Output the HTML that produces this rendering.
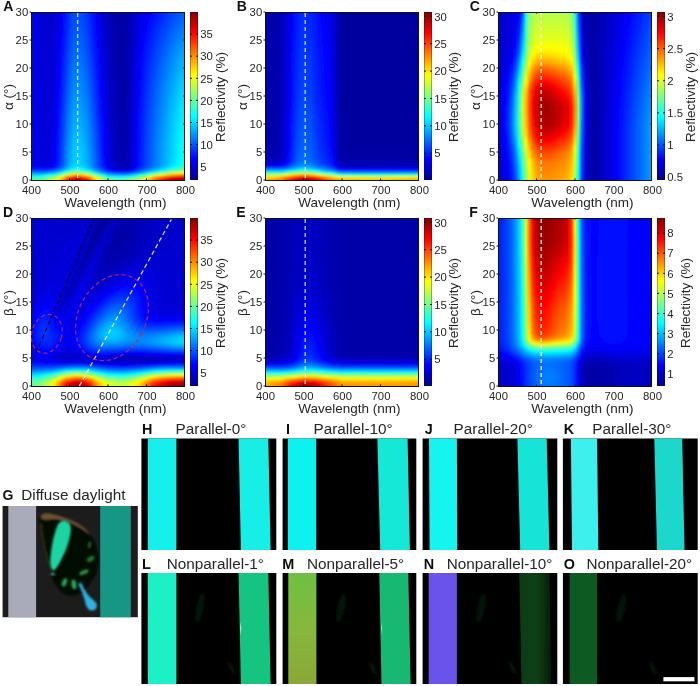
<!DOCTYPE html><html><head><meta charset="utf-8"><title>Figure</title><style>
html,body{margin:0;padding:0;background:#fff}
#p{position:relative;width:700px;height:686px;overflow:hidden;background:#fff;font-family:"Liberation Sans", Arial, Helvetica, sans-serif}
.h{position:absolute;width:154px;height:168px;overflow:hidden}
.h div{margin:-4px -4px 0;padding:0 4px;filter:url(#vb)}
.h i{display:block;height:2px}
.cb{position:absolute;width:8px;height:168px;box-shadow:inset 0 0 0 .6px rgba(20,20,40,.55);background:linear-gradient(0deg,#00008f,#0000ff 12.5%,#00ffff 37.5%,#ffff00 62.5%,#ff0000 87.5%,#800000)}
svg{position:absolute;left:0;top:0;filter:blur(.4px)}
text{font-family:"Liberation Sans", Arial, Helvetica, sans-serif;fill:#262626}
.t{font-size:11.3px}.l{font-size:13.5px}.b{font-size:14px;font-weight:bold;fill:#111}.c{font-size:15.3px}
</style></head><body><div id="p">
<div class="h" style="left:31px;top:12px"><div><i style="background:linear-gradient(90deg,#0000e7,#0000e5,#0000df,#0000d8,#0000d1,#0000ce,#0000cf,#0000d8,#0000e7,#0000fd,#0018ff,#0032ff,#0045ff,#004eff,#004cff,#0043ff,#0035ff,#0022ff,#000dff,#0000f6,#0000e0,#0000cd,#0000be,#0000b3,#0000ac,#0000a8,#0000a6,#0000a7,#0000b0,#0000be,#0000ce,#0000dc,#0000e9,#0000f5,#0001ff,#000cff,#0016ff,#0020ff,#002aff,#0034ff,#003dff,#0047ff,#0050ff,#0059ff,#0059ff)"></i><i style="background:linear-gradient(90deg,#0000e7,#0000e5,#0000df,#0000d8,#0000d1,#0000ce,#0000cf,#0000d8,#0000e7,#0000fd,#0018ff,#0032ff,#0045ff,#004eff,#004cff,#0043ff,#0035ff,#0022ff,#000dff,#0000f6,#0000e0,#0000cd,#0000be,#0000b3,#0000ac,#0000a8,#0000a6,#0000a7,#0000b0,#0000be,#0000ce,#0000dc,#0000e9,#0000f5,#0001ff,#000cff,#0016ff,#0020ff,#002aff,#0034ff,#003dff,#0047ff,#0050ff,#0059ff,#0059ff)"></i><i style="background:linear-gradient(90deg,#0000e7,#0000e5,#0000df,#0000d8,#0000d1,#0000ce,#0000cf,#0000d8,#0000e7,#0000fd,#0018ff,#0032ff,#0045ff,#004eff,#004cff,#0043ff,#0035ff,#0022ff,#000dff,#0000f6,#0000e0,#0000cd,#0000be,#0000b3,#0000ac,#0000a8,#0000a6,#0000a7,#0000b0,#0000be,#0000ce,#0000dc,#0000e9,#0000f5,#0001ff,#000cff,#0016ff,#0020ff,#002aff,#0034ff,#003dff,#0047ff,#0050ff,#0059ff,#0059ff)"></i><i style="background:linear-gradient(90deg,#0000e7,#0000e5,#0000df,#0000d8,#0000d1,#0000ce,#0000d0,#0000d8,#0000e8,#0000fe,#0019ff,#0033ff,#0046ff,#0050ff,#004dff,#0044ff,#0036ff,#0023ff,#000eff,#0000f7,#0000e1,#0000cd,#0000be,#0000b3,#0000ac,#0000a8,#0000a6,#0000a8,#0000b0,#0000be,#0000cf,#0000de,#0000eb,#0000f7,#0003ff,#000eff,#0019ff,#0023ff,#002dff,#0037ff,#0041ff,#004bff,#0054ff,#005dff,#005dff)"></i><i style="background:linear-gradient(90deg,#0000e7,#0000e5,#0000df,#0000d8,#0000d1,#0000ce,#0000d0,#0000d8,#0000e8,#0000ff,#001aff,#0034ff,#0048ff,#0051ff,#004fff,#0045ff,#0037ff,#0024ff,#000fff,#0000f7,#0000e1,#0000ce,#0000be,#0000b3,#0000ac,#0000a8,#0000a6,#0000a8,#0000b1,#0000bf,#0000d0,#0000df,#0000ed,#0000f9,#0005ff,#0010ff,#001bff,#0026ff,#0030ff,#003aff,#0044ff,#004eff,#0058ff,#0061ff,#0061ff)"></i><i style="background:linear-gradient(90deg,#0000e7,#0000e5,#0000df,#0000d8,#0000d1,#0000ce,#0000d0,#0000d9,#0000e9,#0001ff,#001bff,#0035ff,#0049ff,#0052ff,#0050ff,#0047ff,#0038ff,#0025ff,#0010ff,#0000f8,#0000e2,#0000ce,#0000bf,#0000b4,#0000ac,#0000a8,#0000a6,#0000a8,#0000b1,#0000c0,#0000d0,#0000e0,#0000ee,#0000fb,#0007ff,#0013ff,#001eff,#0028ff,#0033ff,#003dff,#0048ff,#0052ff,#005cff,#0065ff,#0065ff)"></i><i style="background:linear-gradient(90deg,#0000e7,#0000e5,#0000df,#0000d8,#0000d1,#0000ce,#0000d0,#0000d9,#0000e9,#0001ff,#001cff,#0036ff,#004aff,#0053ff,#0051ff,#0048ff,#0039ff,#0026ff,#0010ff,#0000f9,#0000e3,#0000cf,#0000bf,#0000b4,#0000ad,#0000a8,#0000a6,#0000a8,#0000b1,#0000c0,#0000d1,#0000e1,#0000f0,#0000fc,#0009ff,#0015ff,#0020ff,#002bff,#0036ff,#0041ff,#004bff,#0055ff,#0060ff,#0069ff,#0069ff)"></i><i style="background:linear-gradient(90deg,#0000e7,#0000e5,#0000df,#0000d8,#0000d1,#0000ce,#0000d0,#0000d9,#0000ea,#0002ff,#001dff,#0037ff,#004bff,#0054ff,#0052ff,#0049ff,#003aff,#0027ff,#0011ff,#0000fa,#0000e3,#0000cf,#0000bf,#0000b4,#0000ad,#0000a8,#0000a6,#0000a8,#0000b1,#0000c1,#0000d2,#0000e3,#0000f1,#0000fe,#000bff,#0017ff,#0023ff,#002eff,#0039ff,#0044ff,#004eff,#0059ff,#0063ff,#006dff,#006dff)"></i><i style="background:linear-gradient(90deg,#0000e7,#0000e5,#0000df,#0000d8,#0000d2,#0000ce,#0000d0,#0000da,#0000ea,#0003ff,#001eff,#0038ff,#004cff,#0056ff,#0053ff,#004aff,#003bff,#0028ff,#0012ff,#0000fa,#0000e4,#0000d0,#0000c0,#0000b4,#0000ad,#0000a8,#0000a6,#0000a8,#0000b2,#0000c1,#0000d3,#0000e4,#0000f3,#0001ff,#000dff,#0019ff,#0025ff,#0030ff,#003cff,#0047ff,#0052ff,#005cff,#0067ff,#0070ff,#0070ff)"></i><i style="background:linear-gradient(90deg,#0000e7,#0000e5,#0000df,#0000d8,#0000d2,#0000ce,#0000d1,#0000da,#0000eb,#0003ff,#001eff,#0039ff,#004dff,#0057ff,#0055ff,#004bff,#003cff,#0029ff,#0013ff,#0000fb,#0000e4,#0000d0,#0000c0,#0000b4,#0000ad,#0000a8,#0000a6,#0000a8,#0000b2,#0000c2,#0000d4,#0000e5,#0000f4,#0003ff,#000fff,#001cff,#0027ff,#0033ff,#003eff,#004aff,#0055ff,#0060ff,#006bff,#0074ff,#0074ff)"></i><i style="background:linear-gradient(90deg,#0000e7,#0000e5,#0000df,#0000d8,#0000d2,#0000cf,#0000d1,#0000da,#0000eb,#0004ff,#001fff,#003aff,#004fff,#0058ff,#0056ff,#004dff,#003dff,#002aff,#0014ff,#0000fc,#0000e5,#0000d1,#0000c0,#0000b5,#0000ad,#0000a9,#0000a6,#0000a8,#0000b2,#0000c3,#0000d5,#0000e6,#0000f6,#0004ff,#0011ff,#001eff,#002aff,#0036ff,#0041ff,#004dff,#0058ff,#0063ff,#006eff,#0078ff,#0078ff)"></i><i style="background:linear-gradient(90deg,#0000e7,#0000e5,#0000df,#0000d8,#0000d2,#0000cf,#0000d1,#0000db,#0000ec,#0005ff,#0021ff,#003cff,#0050ff,#005aff,#0058ff,#004eff,#003fff,#002cff,#0015ff,#0000fd,#0000e6,#0000d1,#0000c1,#0000b5,#0000ad,#0000a9,#0000a6,#0000a8,#0000b2,#0000c3,#0000d6,#0000e7,#0000f7,#0006ff,#0013ff,#0020ff,#002cff,#0038ff,#0044ff,#0050ff,#005bff,#0066ff,#0072ff,#007cff,#007cff)"></i><i style="background:linear-gradient(90deg,#0000e7,#0000e5,#0000df,#0000d8,#0000d2,#0000cf,#0000d1,#0000db,#0000ed,#0006ff,#0022ff,#003dff,#0052ff,#005cff,#0059ff,#0050ff,#0041ff,#002dff,#0017ff,#0000fe,#0000e7,#0000d2,#0000c1,#0000b5,#0000ad,#0000a9,#0000a6,#0000a8,#0000b3,#0000c4,#0000d7,#0000e9,#0000f8,#0008ff,#0015ff,#0022ff,#002eff,#003bff,#0047ff,#0052ff,#005eff,#006aff,#0075ff,#007fff,#007fff)"></i><i style="background:linear-gradient(90deg,#0000e7,#0000e5,#0000df,#0000d8,#0000d2,#0000cf,#0000d1,#0000db,#0000ed,#0007ff,#0023ff,#003fff,#0054ff,#005eff,#005bff,#0052ff,#0042ff,#002eff,#0018ff,#0000ff,#0000e8,#0000d3,#0000c2,#0000b6,#0000ae,#0000a9,#0000a6,#0000a8,#0000b3,#0000c4,#0000d8,#0000ea,#0000fa,#0009ff,#0017ff,#0024ff,#0031ff,#003dff,#0049ff,#0055ff,#0061ff,#006dff,#0079ff,#0083ff,#0083ff)"></i><i style="background:linear-gradient(90deg,#0000e7,#0000e5,#0000df,#0000d8,#0000d2,#0000cf,#0000d2,#0000dc,#0000ee,#0008ff,#0024ff,#0040ff,#0056ff,#005fff,#005dff,#0054ff,#0044ff,#0030ff,#0019ff,#0001ff,#0000e8,#0000d3,#0000c2,#0000b6,#0000ae,#0000a9,#0000a6,#0000a9,#0000b3,#0000c5,#0000d8,#0000eb,#0000fb,#000bff,#0019ff,#0026ff,#0033ff,#003fff,#004cff,#0058ff,#0064ff,#0070ff,#007cff,#0086ff,#0086ff)"></i><i style="background:linear-gradient(90deg,#0000e7,#0000e5,#0000df,#0000d8,#0000d2,#0000cf,#0000d2,#0000dc,#0000ef,#0009ff,#0026ff,#0042ff,#0057ff,#0061ff,#005fff,#0055ff,#0046ff,#0031ff,#001aff,#0002ff,#0000e9,#0000d4,#0000c3,#0000b6,#0000ae,#0000a9,#0000a6,#0000a9,#0000b3,#0000c5,#0000d9,#0000ec,#0000fc,#000dff,#001bff,#0028ff,#0035ff,#0042ff,#004eff,#005bff,#0067ff,#0073ff,#007fff,#008aff,#008aff)"></i><i style="background:linear-gradient(90deg,#0000e7,#0000e5,#0000df,#0000d8,#0000d2,#0000cf,#0000d2,#0000dd,#0000ef,#000aff,#0027ff,#0043ff,#0059ff,#0063ff,#0061ff,#0057ff,#0047ff,#0033ff,#001cff,#0003ff,#0000ea,#0000d4,#0000c3,#0000b6,#0000ae,#0000a9,#0000a6,#0000a9,#0000b4,#0000c6,#0000da,#0000ed,#0000fe,#000eff,#001cff,#002aff,#0037ff,#0044ff,#0051ff,#005eff,#006aff,#0076ff,#0083ff,#008dff,#008dff)"></i><i style="background:linear-gradient(90deg,#0000e7,#0000e5,#0000df,#0000d8,#0000d2,#0000cf,#0000d2,#0000dd,#0000f0,#000bff,#0028ff,#0045ff,#005bff,#0065ff,#0062ff,#0059ff,#0049ff,#0034ff,#001dff,#0004ff,#0000eb,#0000d5,#0000c3,#0000b7,#0000ae,#0000a9,#0000a6,#0000a9,#0000b4,#0000c6,#0000db,#0000ee,#0000ff,#0010ff,#001eff,#002cff,#0039ff,#0047ff,#0054ff,#0060ff,#006dff,#0079ff,#0086ff,#0091ff,#0091ff)"></i><i style="background:linear-gradient(90deg,#0000e7,#0000e5,#0000df,#0000d8,#0000d2,#0000d0,#0000d3,#0000de,#0000f1,#000cff,#002aff,#0046ff,#005dff,#0067ff,#0064ff,#005aff,#004aff,#0036ff,#001eff,#0005ff,#0000ec,#0000d6,#0000c4,#0000b7,#0000af,#0000aa,#0000a7,#0000a9,#0000b4,#0000c7,#0000dc,#0000ef,#0001ff,#0011ff,#0020ff,#002eff,#003cff,#0049ff,#0056ff,#0063ff,#0070ff,#007cff,#0089ff,#0094ff,#0094ff)"></i><i style="background:linear-gradient(90deg,#0000e7,#0000e5,#0000df,#0000d8,#0000d2,#0000d0,#0000d3,#0000de,#0000f1,#000dff,#002bff,#0048ff,#005eff,#0068ff,#0066ff,#005cff,#004cff,#0037ff,#001fff,#0006ff,#0000ed,#0000d6,#0000c4,#0000b7,#0000af,#0000aa,#0000a7,#0000a9,#0000b4,#0000c7,#0000dc,#0000f0,#0003ff,#0013ff,#0021ff,#0030ff,#003eff,#004bff,#0058ff,#0066ff,#0073ff,#007fff,#008cff,#0097ff,#0097ff)"></i><i style="background:linear-gradient(90deg,#0000e7,#0000e5,#0000df,#0000d8,#0000d2,#0000d0,#0000d3,#0000de,#0000f2,#000eff,#002cff,#004aff,#0060ff,#006aff,#0068ff,#005eff,#004eff,#0039ff,#0021ff,#0007ff,#0000ed,#0000d7,#0000c5,#0000b8,#0000af,#0000aa,#0000a7,#0000a9,#0000b5,#0000c8,#0000dd,#0000f1,#0004ff,#0014ff,#0023ff,#0032ff,#0040ff,#004dff,#005bff,#0068ff,#0075ff,#0082ff,#008fff,#009bff,#009bff)"></i><i style="background:linear-gradient(90deg,#0000e7,#0000e5,#0000df,#0000d8,#0000d2,#0000d0,#0000d3,#0000df,#0000f3,#000fff,#002eff,#004bff,#0062ff,#006cff,#006aff,#0060ff,#004fff,#003aff,#0022ff,#0008ff,#0000ee,#0000d8,#0000c5,#0000b8,#0000af,#0000aa,#0000a7,#0000a9,#0000b5,#0000c8,#0000de,#0000f2,#0005ff,#0016ff,#0025ff,#0033ff,#0042ff,#0050ff,#005dff,#006bff,#0078ff,#0085ff,#0092ff,#009eff,#009eff)"></i><i style="background:linear-gradient(90deg,#0000e7,#0000e5,#0000df,#0000d8,#0000d2,#0000d0,#0000d4,#0000df,#0000f4,#0010ff,#002fff,#004dff,#0064ff,#006eff,#006cff,#0061ff,#0051ff,#003cff,#0023ff,#000aff,#0000ef,#0000d8,#0000c6,#0000b8,#0000b0,#0000aa,#0000a7,#0000a9,#0000b5,#0000c9,#0000df,#0000f3,#0006ff,#0017ff,#0026ff,#0035ff,#0044ff,#0052ff,#0060ff,#006dff,#007bff,#0088ff,#0095ff,#00a1ff,#00a1ff)"></i><i style="background:linear-gradient(90deg,#0000e7,#0000e5,#0000df,#0000d8,#0000d2,#0000d0,#0000d4,#0000e0,#0000f4,#0011ff,#0030ff,#004eff,#0065ff,#0070ff,#006dff,#0063ff,#0053ff,#003dff,#0025ff,#000bff,#0000f0,#0000d9,#0000c6,#0000b9,#0000b0,#0000aa,#0000a7,#0000a9,#0000b5,#0000c9,#0000df,#0000f4,#0008ff,#0018ff,#0028ff,#0037ff,#0046ff,#0054ff,#0062ff,#0070ff,#007dff,#008bff,#0098ff,#00a4ff,#00a4ff)"></i><i style="background:linear-gradient(90deg,#0000e7,#0000e5,#0000df,#0000d8,#0000d2,#0000d0,#0000d4,#0000e0,#0000f5,#0012ff,#0031ff,#0050ff,#0067ff,#0072ff,#006fff,#0065ff,#0054ff,#003fff,#0026ff,#000cff,#0000f1,#0000da,#0000c7,#0000b9,#0000b0,#0000aa,#0000a7,#0000aa,#0000b6,#0000ca,#0000e0,#0000f5,#0009ff,#001aff,#002aff,#0039ff,#0047ff,#0056ff,#0064ff,#0072ff,#0080ff,#008eff,#009bff,#00a7ff,#00a7ff)"></i><i style="background:linear-gradient(90deg,#0000e7,#0000e5,#0000df,#0000d8,#0000d3,#0000d1,#0000d5,#0000e1,#0000f6,#0013ff,#0033ff,#0051ff,#0069ff,#0073ff,#0071ff,#0067ff,#0056ff,#0040ff,#0027ff,#000dff,#0000f2,#0000da,#0000c7,#0000ba,#0000b0,#0000ab,#0000a7,#0000aa,#0000b6,#0000ca,#0000e1,#0000f6,#000aff,#001bff,#002bff,#003aff,#0049ff,#0058ff,#0066ff,#0074ff,#0082ff,#0090ff,#009eff,#00aaff,#00aaff)"></i><i style="background:linear-gradient(90deg,#0000e7,#0000e5,#0000df,#0000d8,#0000d3,#0000d1,#0000d5,#0000e1,#0000f6,#0014ff,#0034ff,#0053ff,#006bff,#0075ff,#0073ff,#0068ff,#0058ff,#0042ff,#0029ff,#000eff,#0000f3,#0000db,#0000c8,#0000ba,#0000b1,#0000ab,#0000a7,#0000aa,#0000b6,#0000ca,#0000e2,#0000f7,#000bff,#001cff,#002dff,#003cff,#004bff,#005aff,#0069ff,#0077ff,#0085ff,#0093ff,#00a1ff,#00adff,#00adff)"></i><i style="background:linear-gradient(90deg,#0000e7,#0000e5,#0000df,#0000d8,#0000d3,#0000d1,#0000d5,#0000e2,#0000f7,#0015ff,#0035ff,#0055ff,#006cff,#0077ff,#0075ff,#006aff,#0059ff,#0043ff,#002aff,#000fff,#0000f4,#0000dc,#0000c8,#0000ba,#0000b1,#0000ab,#0000a7,#0000aa,#0000b6,#0000cb,#0000e2,#0000f8,#000cff,#001eff,#002eff,#003eff,#004dff,#005cff,#006bff,#0079ff,#0087ff,#0096ff,#00a4ff,#00b0ff,#00b0ff)"></i><i style="background:linear-gradient(90deg,#0000e7,#0000e5,#0000df,#0000d8,#0000d3,#0000d1,#0000d5,#0000e2,#0000f8,#0016ff,#0037ff,#0056ff,#006eff,#0079ff,#0076ff,#006cff,#005bff,#0045ff,#002bff,#0010ff,#0000f5,#0000dd,#0000c9,#0000bb,#0000b1,#0000ab,#0000a7,#0000aa,#0000b7,#0000cb,#0000e3,#0000f9,#000dff,#001fff,#0030ff,#003fff,#004fff,#005eff,#006dff,#007bff,#008aff,#0098ff,#00a6ff,#00b3ff,#00b3ff)"></i><i style="background:linear-gradient(90deg,#0000e7,#0000e5,#0000df,#0000d8,#0000d3,#0000d1,#0000d6,#0000e3,#0000f9,#0017ff,#0038ff,#0058ff,#0070ff,#007bff,#0078ff,#006eff,#005cff,#0046ff,#002dff,#0011ff,#0000f6,#0000dd,#0000ca,#0000bb,#0000b1,#0000ab,#0000a8,#0000aa,#0000b7,#0000cc,#0000e4,#0000fa,#000eff,#0020ff,#0031ff,#0041ff,#0051ff,#0060ff,#006fff,#007eff,#008cff,#009bff,#00a9ff,#00b6ff,#00b6ff)"></i><i style="background:linear-gradient(90deg,#0000e7,#0000e5,#0000df,#0000d8,#0000d3,#0000d1,#0000d6,#0000e3,#0000fa,#0018ff,#0039ff,#0059ff,#0072ff,#007cff,#007aff,#006fff,#005eff,#0048ff,#002eff,#0013ff,#0000f7,#0000de,#0000ca,#0000bb,#0000b2,#0000ab,#0000a8,#0000aa,#0000b7,#0000cc,#0000e4,#0000fb,#0010ff,#0022ff,#0032ff,#0043ff,#0052ff,#0062ff,#0071ff,#0080ff,#008fff,#009dff,#00acff,#00b8ff,#00b8ff)"></i><i style="background:linear-gradient(90deg,#0000e7,#0000e5,#0000df,#0000d8,#0000d3,#0000d1,#0000d6,#0000e4,#0000fa,#0019ff,#003bff,#005bff,#0073ff,#007eff,#007cff,#0071ff,#0060ff,#0049ff,#002fff,#0014ff,#0000f7,#0000df,#0000cb,#0000bc,#0000b2,#0000ac,#0000a8,#0000aa,#0000b7,#0000cd,#0000e5,#0000fb,#0011ff,#0023ff,#0034ff,#0044ff,#0054ff,#0064ff,#0073ff,#0082ff,#0091ff,#00a0ff,#00aeff,#00bbff,#00bbff)"></i><i style="background:linear-gradient(90deg,#0000e7,#0000e5,#0000df,#0000d8,#0000d3,#0000d2,#0000d7,#0000e4,#0000fb,#001aff,#003cff,#005dff,#0075ff,#0080ff,#007eff,#0073ff,#0061ff,#004bff,#0031ff,#0015ff,#0000f8,#0000e0,#0000cb,#0000bc,#0000b2,#0000ac,#0000a8,#0000aa,#0000b7,#0000cd,#0000e5,#0000fc,#0012ff,#0024ff,#0035ff,#0046ff,#0056ff,#0065ff,#0075ff,#0084ff,#0093ff,#00a2ff,#00b1ff,#00beff,#00beff)"></i><i style="background:linear-gradient(90deg,#0000e7,#0000e5,#0000df,#0000d8,#0000d3,#0000d2,#0000d7,#0000e5,#0000fc,#001bff,#003eff,#005eff,#0077ff,#0082ff,#007fff,#0075ff,#0063ff,#004cff,#0032ff,#0016ff,#0000f9,#0000e0,#0000cc,#0000bd,#0000b2,#0000ac,#0000a8,#0000aa,#0000b8,#0000cd,#0000e6,#0000fd,#0013ff,#0025ff,#0037ff,#0047ff,#0057ff,#0067ff,#0077ff,#0086ff,#0095ff,#00a4ff,#00b3ff,#00c0ff,#00c0ff)"></i><i style="background:linear-gradient(90deg,#0000e7,#0000e5,#0000df,#0000d8,#0000d3,#0000d2,#0000d7,#0000e5,#0000fd,#001cff,#003fff,#0060ff,#0079ff,#0084ff,#0081ff,#0076ff,#0065ff,#004eff,#0033ff,#0017ff,#0000fa,#0000e1,#0000cc,#0000bd,#0000b3,#0000ac,#0000a8,#0000ab,#0000b8,#0000ce,#0000e7,#0000fe,#0014ff,#0026ff,#0038ff,#0049ff,#0059ff,#0069ff,#0079ff,#0088ff,#0097ff,#00a7ff,#00b6ff,#00c3ff,#00c3ff)"></i><i style="background:linear-gradient(90deg,#0000e7,#0000e5,#0000df,#0000d8,#0000d3,#0000d2,#0000d8,#0000e6,#0000fd,#001dff,#0040ff,#0061ff,#007aff,#0086ff,#0083ff,#0078ff,#0066ff,#004fff,#0035ff,#0018ff,#0000fb,#0000e2,#0000cd,#0000bd,#0000b3,#0000ac,#0000a8,#0000ab,#0000b8,#0000ce,#0000e7,#0000ff,#0015ff,#0028ff,#0039ff,#004aff,#005bff,#006bff,#007bff,#008aff,#009aff,#00a9ff,#00b8ff,#00c5ff,#00c5ff)"></i><i style="background:linear-gradient(90deg,#0000e7,#0000e5,#0000df,#0000d8,#0000d3,#0000d2,#0000d8,#0000e6,#0000fe,#001fff,#0042ff,#0063ff,#007cff,#0087ff,#0085ff,#007aff,#0068ff,#0051ff,#0036ff,#001aff,#0000fc,#0000e3,#0000ce,#0000be,#0000b3,#0000ac,#0000a8,#0000ab,#0000b8,#0000cf,#0000e8,#0001ff,#0016ff,#0029ff,#003aff,#004cff,#005cff,#006cff,#007cff,#008cff,#009cff,#00abff,#00baff,#00c8ff,#00c8ff)"></i><i style="background:linear-gradient(90deg,#0000e7,#0000e5,#0000df,#0000d9,#0000d4,#0000d3,#0000d8,#0000e7,#0000ff,#0020ff,#0043ff,#0065ff,#007eff,#0089ff,#0087ff,#007cff,#006aff,#0052ff,#0037ff,#001bff,#0000fd,#0000e3,#0000ce,#0000be,#0000b4,#0000ad,#0000a8,#0000ab,#0000b8,#0000cf,#0000e8,#0001ff,#0017ff,#002aff,#003cff,#004dff,#005eff,#006eff,#007eff,#008eff,#009eff,#00adff,#00bdff,#00caff,#00caff)"></i><i style="background:linear-gradient(90deg,#0000e7,#0000e5,#0000df,#0000d9,#0000d4,#0000d3,#0000d9,#0000e8,#0001ff,#0021ff,#0044ff,#0066ff,#0080ff,#008bff,#0088ff,#007dff,#006bff,#0054ff,#0039ff,#001cff,#0000fe,#0000e4,#0000cf,#0000bf,#0000b4,#0000ad,#0000a9,#0000ab,#0000b9,#0000cf,#0000e9,#0002ff,#0017ff,#002bff,#003dff,#004eff,#005fff,#0070ff,#0080ff,#0090ff,#00a0ff,#00afff,#00bfff,#00cdff,#00cdff)"></i><i style="background:linear-gradient(90deg,#0000e7,#0000e5,#0000df,#0000d9,#0000d4,#0000d3,#0000d9,#0000e8,#0002ff,#0022ff,#0046ff,#0068ff,#0081ff,#008dff,#008aff,#007fff,#006dff,#0055ff,#003aff,#001dff,#0000ff,#0000e5,#0000cf,#0000bf,#0000b4,#0000ad,#0000a9,#0000ab,#0000b9,#0000d0,#0000ea,#0003ff,#0018ff,#002cff,#003eff,#0050ff,#0061ff,#0071ff,#0082ff,#0092ff,#00a2ff,#00b1ff,#00c1ff,#00cfff,#00cfff)"></i><i style="background:linear-gradient(90deg,#0000e7,#0000e5,#0000df,#0000d9,#0000d4,#0000d3,#0000d9,#0000e9,#0002ff,#0023ff,#0047ff,#0069ff,#0083ff,#008fff,#008cff,#0081ff,#006fff,#0057ff,#003cff,#001eff,#0001ff,#0000e6,#0000d0,#0000c0,#0000b5,#0000ad,#0000a9,#0000ab,#0000b9,#0000d0,#0000ea,#0004ff,#0019ff,#002dff,#003fff,#0051ff,#0062ff,#0073ff,#0083ff,#0094ff,#00a4ff,#00b3ff,#00c3ff,#00d1ff,#00d1ff)"></i><i style="background:linear-gradient(90deg,#0000e7,#0000e5,#0000df,#0000d9,#0000d4,#0000d3,#0000da,#0000e9,#0003ff,#0024ff,#0049ff,#006bff,#0085ff,#0090ff,#008eff,#0083ff,#0070ff,#0059ff,#003dff,#0020ff,#0002ff,#0000e7,#0000d1,#0000c0,#0000b5,#0000ae,#0000a9,#0000ab,#0000b9,#0000d0,#0000eb,#0004ff,#001aff,#002eff,#0040ff,#0052ff,#0063ff,#0074ff,#0085ff,#0095ff,#00a5ff,#00b5ff,#00c5ff,#00d3ff,#00d3ff)"></i><i style="background:linear-gradient(90deg,#0000e7,#0000e5,#0000df,#0000d9,#0000d4,#0000d4,#0000da,#0000ea,#0004ff,#0025ff,#004aff,#006dff,#0087ff,#0092ff,#0090ff,#0085ff,#0072ff,#005aff,#003eff,#0021ff,#0003ff,#0000e7,#0000d1,#0000c1,#0000b5,#0000ae,#0000a9,#0000ac,#0000b9,#0000d1,#0000eb,#0005ff,#001bff,#002fff,#0042ff,#0053ff,#0065ff,#0076ff,#0087ff,#0097ff,#00a7ff,#00b7ff,#00c7ff,#00d6ff,#00d6ff)"></i><i style="background:linear-gradient(90deg,#0000e7,#0000e5,#0000df,#0000d9,#0000d4,#0000d4,#0000da,#0000ea,#0005ff,#0026ff,#004bff,#006eff,#0088ff,#0094ff,#0091ff,#0086ff,#0074ff,#005cff,#0040ff,#0022ff,#0004ff,#0000e8,#0000d2,#0000c1,#0000b5,#0000ae,#0000a9,#0000ac,#0000ba,#0000d1,#0000ec,#0006ff,#001cff,#0030ff,#0043ff,#0055ff,#0066ff,#0077ff,#0088ff,#0099ff,#00a9ff,#00b9ff,#00c9ff,#00d8ff,#00d8ff)"></i><i style="background:linear-gradient(90deg,#0000e7,#0000e5,#0000df,#0000d9,#0000d4,#0000d4,#0000db,#0000eb,#0006ff,#0028ff,#004dff,#0070ff,#008aff,#0096ff,#0093ff,#0088ff,#0076ff,#005dff,#0041ff,#0023ff,#0005ff,#0000e9,#0000d3,#0000c2,#0000b6,#0000ae,#0000a9,#0000ac,#0000ba,#0000d1,#0000ec,#0006ff,#001dff,#0031ff,#0044ff,#0056ff,#0067ff,#0079ff,#008aff,#009aff,#00abff,#00bbff,#00cbff,#00daff,#00daff)"></i><i style="background:linear-gradient(90deg,#0000e7,#0000e5,#0000df,#0000d9,#0000d4,#0000d4,#0000db,#0000ec,#0007ff,#0029ff,#004eff,#0072ff,#008cff,#0098ff,#0095ff,#008aff,#0077ff,#005fff,#0043ff,#0025ff,#0007ff,#0000ea,#0000d3,#0000c2,#0000b6,#0000ae,#0000aa,#0000ac,#0000ba,#0000d2,#0000ed,#0007ff,#001dff,#0032ff,#0045ff,#0057ff,#0069ff,#007aff,#008bff,#009cff,#00adff,#00bdff,#00cdff,#00dcff,#00dcff)"></i><i style="background:linear-gradient(90deg,#0000e7,#0000e5,#0000df,#0000d9,#0000d4,#0000d4,#0000dc,#0000ec,#0008ff,#002aff,#0050ff,#0073ff,#008eff,#009aff,#0097ff,#008cff,#0079ff,#0061ff,#0044ff,#0026ff,#0008ff,#0000eb,#0000d4,#0000c3,#0000b7,#0000af,#0000aa,#0000ac,#0000ba,#0000d2,#0000ed,#0008ff,#001eff,#0033ff,#0046ff,#0058ff,#006aff,#007bff,#008dff,#009eff,#00aeff,#00bfff,#00cfff,#00deff,#00deff)"></i><i style="background:linear-gradient(90deg,#0000e7,#0000e5,#0000df,#0000d9,#0000d5,#0000d5,#0000dc,#0000ed,#0009ff,#002bff,#0051ff,#0075ff,#0090ff,#009cff,#0099ff,#008eff,#007bff,#0062ff,#0046ff,#0027ff,#0009ff,#0000ec,#0000d5,#0000c3,#0000b7,#0000af,#0000aa,#0000ac,#0000ba,#0000d2,#0000ee,#0008ff,#001fff,#0033ff,#0047ff,#0059ff,#006bff,#007dff,#008eff,#009fff,#00b0ff,#00c1ff,#00d1ff,#00e0ff,#00e0ff)"></i><i style="background:linear-gradient(90deg,#0000e7,#0000e5,#0000df,#0000d9,#0000d5,#0000d5,#0000dc,#0000ed,#000aff,#002cff,#0053ff,#0077ff,#0092ff,#009eff,#009bff,#0090ff,#007dff,#0064ff,#0047ff,#0029ff,#000aff,#0000ed,#0000d5,#0000c4,#0000b7,#0000af,#0000aa,#0000ac,#0000bb,#0000d3,#0000ee,#0009ff,#0020ff,#0034ff,#0048ff,#005aff,#006cff,#007eff,#008fff,#00a1ff,#00b1ff,#00c2ff,#00d3ff,#00e2ff,#00e2ff)"></i><i style="background:linear-gradient(90deg,#0000e7,#0000e5,#0000df,#0000d9,#0000d5,#0000d5,#0000dd,#0000ee,#000aff,#002eff,#0054ff,#0079ff,#0094ff,#00a0ff,#009dff,#0092ff,#007fff,#0066ff,#0049ff,#002aff,#000bff,#0000ee,#0000d6,#0000c4,#0000b8,#0000af,#0000aa,#0000ac,#0000bb,#0000d3,#0000ef,#0009ff,#0020ff,#0035ff,#0049ff,#005bff,#006dff,#007fff,#0091ff,#00a2ff,#00b3ff,#00c4ff,#00d5ff,#00e3ff,#00e3ff)"></i><i style="background:linear-gradient(90deg,#0000e7,#0000e5,#0000df,#0000d9,#0000d5,#0000d5,#0000dd,#0000ef,#000bff,#002fff,#0056ff,#007bff,#0096ff,#00a2ff,#009fff,#0094ff,#0081ff,#0068ff,#004bff,#002bff,#000cff,#0000ef,#0000d7,#0000c5,#0000b8,#0000b0,#0000aa,#0000ad,#0000bb,#0000d3,#0000ef,#000aff,#0021ff,#0036ff,#004aff,#005cff,#006fff,#0080ff,#0092ff,#00a3ff,#00b5ff,#00c5ff,#00d6ff,#00e5ff,#00e5ff)"></i><i style="background:linear-gradient(90deg,#0000e7,#0000e5,#0000df,#0000d9,#0000d5,#0000d6,#0000de,#0000ef,#000cff,#0030ff,#0058ff,#007cff,#0098ff,#00a4ff,#00a1ff,#0096ff,#0082ff,#0069ff,#004cff,#002dff,#000dff,#0000ef,#0000d7,#0000c5,#0000b8,#0000b0,#0000ab,#0000ad,#0000bb,#0000d4,#0000ef,#000aff,#0022ff,#0037ff,#004aff,#005dff,#0070ff,#0082ff,#0093ff,#00a5ff,#00b6ff,#00c7ff,#00d8ff,#00e7ff,#00e7ff)"></i><i style="background:linear-gradient(90deg,#0000e7,#0000e5,#0000df,#0000d9,#0000d5,#0000d6,#0000de,#0000f0,#000dff,#0031ff,#0059ff,#007eff,#009aff,#00a6ff,#00a3ff,#0098ff,#0084ff,#006bff,#004eff,#002eff,#000eff,#0000f0,#0000d8,#0000c6,#0000b9,#0000b0,#0000ab,#0000ad,#0000bb,#0000d4,#0000f0,#000bff,#0022ff,#0037ff,#004bff,#005eff,#0071ff,#0083ff,#0095ff,#00a6ff,#00b7ff,#00c8ff,#00d9ff,#00e9ff,#00e9ff)"></i><i style="background:linear-gradient(90deg,#0000e7,#0000e5,#0000df,#0000d9,#0000d5,#0000d6,#0000de,#0000f1,#000eff,#0033ff,#005bff,#0080ff,#009cff,#00a8ff,#00a5ff,#009aff,#0086ff,#006dff,#004fff,#002fff,#0010ff,#0000f1,#0000d9,#0000c6,#0000b9,#0000b0,#0000ab,#0000ad,#0000bb,#0000d4,#0000f0,#000cff,#0023ff,#0038ff,#004cff,#005fff,#0072ff,#0084ff,#0096ff,#00a7ff,#00b9ff,#00caff,#00dbff,#00eaff,#00eaff)"></i><i style="background:linear-gradient(90deg,#0000e7,#0000e5,#0000df,#0000d9,#0000d6,#0000d6,#0000df,#0000f1,#000fff,#0034ff,#005cff,#0082ff,#009eff,#00aaff,#00a7ff,#009cff,#0088ff,#006eff,#0051ff,#0031ff,#0011ff,#0000f2,#0000da,#0000c7,#0000ba,#0000b1,#0000ab,#0000ad,#0000bc,#0000d4,#0000f1,#000cff,#0024ff,#0039ff,#004dff,#0060ff,#0073ff,#0085ff,#0097ff,#00a9ff,#00baff,#00cbff,#00dcff,#00ecff,#00ecff)"></i><i style="background:linear-gradient(90deg,#0000e7,#0000e5,#0000e0,#0000da,#0000d6,#0000d7,#0000df,#0000f2,#0010ff,#0035ff,#005eff,#0083ff,#009fff,#00acff,#00a9ff,#009dff,#008aff,#0070ff,#0052ff,#0032ff,#0012ff,#0000f3,#0000da,#0000c7,#0000ba,#0000b1,#0000ab,#0000ad,#0000bc,#0000d5,#0000f1,#000dff,#0024ff,#003aff,#004eff,#0061ff,#0074ff,#0086ff,#0098ff,#00aaff,#00bbff,#00cdff,#00deff,#00edff,#00edff)"></i><i style="background:linear-gradient(90deg,#0000e7,#0000e5,#0000e0,#0000da,#0000d6,#0000d7,#0000e0,#0000f3,#0011ff,#0037ff,#005fff,#0085ff,#00a1ff,#00aeff,#00abff,#009fff,#008cff,#0072ff,#0054ff,#0034ff,#0013ff,#0000f4,#0000db,#0000c8,#0000ba,#0000b1,#0000ac,#0000ad,#0000bc,#0000d5,#0000f1,#000dff,#0025ff,#003aff,#004eff,#0062ff,#0075ff,#0087ff,#0099ff,#00abff,#00bdff,#00ceff,#00dfff,#00efff,#00efff)"></i><i style="background:linear-gradient(90deg,#0000e7,#0000e5,#0000e0,#0000da,#0000d6,#0000d7,#0000e0,#0000f3,#0012ff,#0038ff,#0061ff,#0087ff,#00a3ff,#00b0ff,#00adff,#00a1ff,#008eff,#0074ff,#0055ff,#0035ff,#0014ff,#0000f5,#0000dc,#0000c9,#0000bb,#0000b2,#0000ac,#0000ae,#0000bc,#0000d5,#0000f2,#000dff,#0025ff,#003bff,#004fff,#0063ff,#0076ff,#0088ff,#009aff,#00acff,#00beff,#00cfff,#00e1ff,#00f0ff,#00f0ff)"></i><i style="background:linear-gradient(90deg,#0000e7,#0000e5,#0000e0,#0000da,#0000d6,#0000d7,#0000e1,#0000f4,#0013ff,#0039ff,#0062ff,#0089ff,#00a5ff,#00b2ff,#00afff,#00a3ff,#008fff,#0075ff,#0057ff,#0036ff,#0016ff,#0000f6,#0000dd,#0000c9,#0000bb,#0000b2,#0000ac,#0000ae,#0000bc,#0000d5,#0000f2,#000eff,#0026ff,#003cff,#0050ff,#0063ff,#0076ff,#0089ff,#009bff,#00adff,#00bfff,#00d1ff,#00e2ff,#00f2ff,#00f2ff)"></i><i style="background:linear-gradient(90deg,#0000e7,#0000e5,#0000e0,#0000da,#0000d6,#0000d8,#0000e1,#0000f5,#0014ff,#003aff,#0064ff,#008bff,#00a7ff,#00b4ff,#00b1ff,#00a5ff,#0091ff,#0077ff,#0059ff,#0038ff,#0017ff,#0000f7,#0000dd,#0000ca,#0000bc,#0000b2,#0000ac,#0000ae,#0000bd,#0000d6,#0000f2,#000eff,#0026ff,#003cff,#0051ff,#0064ff,#0077ff,#008aff,#009cff,#00aeff,#00c0ff,#00d2ff,#00e3ff,#00f3ff,#00f3ff)"></i><i style="background:linear-gradient(90deg,#0000e7,#0000e5,#0000e0,#0000da,#0000d6,#0000d8,#0000e2,#0000f6,#0015ff,#003cff,#0066ff,#008cff,#00a9ff,#00b6ff,#00b3ff,#00a7ff,#0093ff,#0079ff,#005aff,#0039ff,#0018ff,#0000f8,#0000de,#0000ca,#0000bc,#0000b3,#0000ac,#0000ae,#0000bd,#0000d6,#0000f3,#000fff,#0027ff,#003dff,#0051ff,#0065ff,#0078ff,#008bff,#009dff,#00afff,#00c1ff,#00d3ff,#00e4ff,#00f4ff,#00f4ff)"></i><i style="background:linear-gradient(90deg,#0000e7,#0000e5,#0000e0,#0000da,#0000d7,#0000d8,#0000e2,#0000f6,#0016ff,#003dff,#0067ff,#008eff,#00abff,#00b8ff,#00b5ff,#00a9ff,#0095ff,#007bff,#005cff,#003bff,#0019ff,#0000f9,#0000df,#0000cb,#0000bd,#0000b3,#0000ad,#0000ae,#0000bd,#0000d6,#0000f3,#000fff,#0027ff,#003dff,#0052ff,#0066ff,#0079ff,#008cff,#009eff,#00b0ff,#00c2ff,#00d4ff,#00e6ff,#00f5ff,#00f5ff)"></i><i style="background:linear-gradient(90deg,#0000e7,#0000e5,#0000e0,#0000da,#0000d7,#0000d9,#0000e3,#0000f7,#0017ff,#003eff,#0069ff,#0090ff,#00adff,#00baff,#00b7ff,#00abff,#0097ff,#007cff,#005dff,#003cff,#001aff,#0000fa,#0000e0,#0000cc,#0000bd,#0000b3,#0000ad,#0000ae,#0000bd,#0000d6,#0000f3,#0010ff,#0028ff,#003eff,#0053ff,#0066ff,#007aff,#008cff,#009fff,#00b1ff,#00c3ff,#00d5ff,#00e7ff,#00f7ff,#00f7ff)"></i><i style="background:linear-gradient(90deg,#0000e7,#0000e5,#0000e0,#0000da,#0000d7,#0000d9,#0000e3,#0000f8,#0018ff,#0040ff,#006aff,#0092ff,#00afff,#00bcff,#00b9ff,#00adff,#0099ff,#007eff,#005fff,#003dff,#001cff,#0000fb,#0000e1,#0000cc,#0000be,#0000b4,#0000ad,#0000ae,#0000bd,#0000d7,#0000f4,#0010ff,#0028ff,#003eff,#0053ff,#0067ff,#007aff,#008dff,#00a0ff,#00b2ff,#00c4ff,#00d6ff,#00e8ff,#00f8ff,#00f8ff)"></i><i style="background:linear-gradient(90deg,#0000e7,#0000e5,#0000e0,#0000da,#0000d7,#0000d9,#0000e3,#0000f9,#0019ff,#0041ff,#006cff,#0094ff,#00b1ff,#00beff,#00bbff,#00afff,#009bff,#0080ff,#0061ff,#003fff,#001dff,#0000fc,#0000e2,#0000cd,#0000be,#0000b4,#0000ad,#0000af,#0000bd,#0000d7,#0000f4,#0010ff,#0029ff,#003fff,#0054ff,#0068ff,#007bff,#008eff,#00a1ff,#00b3ff,#00c5ff,#00d7ff,#00e9ff,#00f9ff,#00f9ff)"></i><i style="background:linear-gradient(90deg,#0000e7,#0000e5,#0000e0,#0000da,#0000d7,#0000d9,#0000e4,#0000f9,#001aff,#0042ff,#006eff,#0095ff,#00b3ff,#00c0ff,#00bdff,#00b1ff,#009dff,#0082ff,#0062ff,#0040ff,#001eff,#0000fd,#0000e2,#0000ce,#0000be,#0000b4,#0000ad,#0000af,#0000bd,#0000d7,#0000f4,#0011ff,#0029ff,#003fff,#0054ff,#0068ff,#007cff,#008fff,#00a1ff,#00b4ff,#00c6ff,#00d8ff,#00eaff,#00faff,#00faff)"></i><i style="background:linear-gradient(90deg,#0000e7,#0000e5,#0000e0,#0000da,#0000d7,#0000da,#0000e4,#0000fa,#001bff,#0044ff,#006fff,#0097ff,#00b5ff,#00c2ff,#00bfff,#00b3ff,#009eff,#0083ff,#0064ff,#0042ff,#001fff,#0000fe,#0000e3,#0000ce,#0000bf,#0000b5,#0000ae,#0000af,#0000be,#0000d7,#0000f4,#0011ff,#0029ff,#0040ff,#0055ff,#0069ff,#007cff,#008fff,#00a2ff,#00b5ff,#00c7ff,#00d9ff,#00ebff,#00fbff,#00fbff)"></i><i style="background:linear-gradient(90deg,#0000e7,#0000e5,#0000e0,#0000da,#0000d8,#0000da,#0000e5,#0000fb,#001cff,#0045ff,#0071ff,#0099ff,#00b7ff,#00c4ff,#00c1ff,#00b5ff,#00a0ff,#0085ff,#0066ff,#0043ff,#0021ff,#0000ff,#0000e4,#0000cf,#0000bf,#0000b5,#0000ae,#0000af,#0000be,#0000d7,#0000f5,#0011ff,#002aff,#0040ff,#0055ff,#0069ff,#007dff,#0090ff,#00a3ff,#00b5ff,#00c8ff,#00daff,#00ecff,#00fcff,#00fcff)"></i><i style="background:linear-gradient(90deg,#0000e7,#0000e5,#0000e0,#0000db,#0000d8,#0000da,#0000e5,#0000fc,#001dff,#0046ff,#0072ff,#009bff,#00b9ff,#00c6ff,#00c3ff,#00b7ff,#00a2ff,#0087ff,#0067ff,#0045ff,#0022ff,#0001ff,#0000e5,#0000cf,#0000c0,#0000b5,#0000ae,#0000af,#0000be,#0000d8,#0000f5,#0012ff,#002aff,#0041ff,#0056ff,#006aff,#007dff,#0091ff,#00a3ff,#00b6ff,#00c8ff,#00dbff,#00edff,#00fdff,#00fdff)"></i><i style="background:linear-gradient(90deg,#0000e7,#0000e5,#0000e0,#0000db,#0000d8,#0000db,#0000e6,#0000fc,#001eff,#0048ff,#0074ff,#009dff,#00bbff,#00c8ff,#00c5ff,#00b9ff,#00a4ff,#0089ff,#0069ff,#0046ff,#0023ff,#0002ff,#0000e6,#0000d0,#0000c0,#0000b6,#0000ae,#0000af,#0000be,#0000d8,#0000f5,#0012ff,#002bff,#0041ff,#0056ff,#006aff,#007eff,#0091ff,#00a4ff,#00b7ff,#00c9ff,#00dbff,#00edff,#00fdff,#00fdff)"></i><i style="background:linear-gradient(90deg,#0000e7,#0000e5,#0000e0,#0000db,#0000d8,#0000db,#0000e7,#0000fd,#0020ff,#0049ff,#0076ff,#009fff,#00bdff,#00caff,#00c7ff,#00bbff,#00a6ff,#008bff,#006aff,#0048ff,#0024ff,#0003ff,#0000e7,#0000d1,#0000c1,#0000b6,#0000af,#0000b0,#0000be,#0000d8,#0000f5,#0012ff,#002bff,#0041ff,#0056ff,#006bff,#007eff,#0092ff,#00a5ff,#00b7ff,#00caff,#00dcff,#00eeff,#00feff,#00feff)"></i><i style="background:linear-gradient(90deg,#0000e7,#0000e5,#0000e0,#0000db,#0000d8,#0000db,#0000e7,#0000fe,#0021ff,#004aff,#0077ff,#00a0ff,#00bfff,#00ccff,#00c9ff,#00bdff,#00a8ff,#008cff,#006cff,#0049ff,#0026ff,#0005ff,#0000e7,#0000d1,#0000c1,#0000b6,#0000af,#0000b0,#0000be,#0000d8,#0000f6,#0012ff,#002bff,#0042ff,#0057ff,#006bff,#007fff,#0092ff,#00a5ff,#00b8ff,#00caff,#00ddff,#00efff,#00ffff,#00ffff)"></i><i style="background:linear-gradient(90deg,#0000e7,#0000e5,#0000e0,#0000db,#0000d8,#0000dc,#0000e8,#0000fe,#0021ff,#004bff,#0078ff,#00a2ff,#00c0ff,#00cdff,#00cbff,#00beff,#00a9ff,#008eff,#006dff,#004aff,#0027ff,#0005ff,#0000e8,#0000d2,#0000c2,#0000b7,#0000af,#0000b0,#0000bf,#0000d8,#0000f6,#0013ff,#002bff,#0042ff,#0057ff,#006cff,#007fff,#0093ff,#00a6ff,#00b8ff,#00cbff,#00ddff,#00efff,#01fffe,#01fffe)"></i><i style="background:linear-gradient(90deg,#0000e7,#0000e5,#0000e0,#0000db,#0000d9,#0000dc,#0000e8,#0000ff,#0022ff,#004cff,#0079ff,#00a2ff,#00c1ff,#00ceff,#00cbff,#00bfff,#00aaff,#008eff,#006eff,#004bff,#0027ff,#0006ff,#0000e9,#0000d3,#0000c2,#0000b7,#0000af,#0000b0,#0000bf,#0000d8,#0000f6,#0013ff,#002cff,#0042ff,#0058ff,#006cff,#0080ff,#0093ff,#00a6ff,#00b9ff,#00ccff,#00deff,#00f0ff,#01fffe,#01fffe)"></i><i style="background:linear-gradient(90deg,#0000e7,#0000e5,#0000e0,#0000db,#0000d9,#0000dc,#0000e8,#0001ff,#0023ff,#004dff,#007aff,#00a3ff,#00c1ff,#00cfff,#00ccff,#00c0ff,#00abff,#008fff,#006fff,#004cff,#0028ff,#0007ff,#0000e9,#0000d3,#0000c3,#0000b7,#0000af,#0000b0,#0000bf,#0000d9,#0000f6,#0013ff,#002cff,#0043ff,#0058ff,#006cff,#0080ff,#0093ff,#00a7ff,#00b9ff,#00ccff,#00deff,#00f1ff,#02fffd,#02fffd)"></i><i style="background:linear-gradient(90deg,#0000e8,#0000e6,#0000e1,#0000db,#0000d9,#0000dd,#0000e9,#0001ff,#0024ff,#004eff,#007bff,#00a4ff,#00c2ff,#00d0ff,#00cdff,#00c0ff,#00acff,#0090ff,#0070ff,#004dff,#0029ff,#0008ff,#0000ea,#0000d4,#0000c3,#0000b7,#0000b0,#0000b0,#0000bf,#0000d9,#0000f6,#0013ff,#002cff,#0043ff,#0058ff,#006dff,#0080ff,#0094ff,#00a7ff,#00baff,#00cdff,#00dfff,#00f1ff,#03fffc,#03fffc)"></i><i style="background:linear-gradient(90deg,#0000e8,#0000e6,#0000e1,#0000dc,#0000da,#0000dd,#0000ea,#0002ff,#0025ff,#004fff,#007cff,#00a5ff,#00c3ff,#00d1ff,#00ceff,#00c1ff,#00adff,#0091ff,#0071ff,#004eff,#002aff,#0008ff,#0000eb,#0000d4,#0000c3,#0000b8,#0000b0,#0000b1,#0000bf,#0000d9,#0000f7,#0013ff,#002cff,#0043ff,#0059ff,#006dff,#0081ff,#0095ff,#00a8ff,#00bbff,#00ceff,#00e0ff,#00f3ff,#04fffb,#04fffb)"></i><i style="background:linear-gradient(90deg,#0000eb,#0000e8,#0000e3,#0000de,#0000dc,#0000e0,#0000ec,#0005ff,#0027ff,#0051ff,#007eff,#00a7ff,#00c6ff,#00d3ff,#00d0ff,#00c3ff,#00aeff,#0093ff,#0072ff,#004fff,#002bff,#0009ff,#0000ec,#0000d5,#0000c4,#0000b8,#0000b1,#0000b1,#0000c0,#0000d9,#0000f7,#0014ff,#002dff,#0044ff,#0059ff,#006eff,#0082ff,#0096ff,#00a9ff,#00bdff,#00d0ff,#00e3ff,#00f6ff,#07fff8,#07fff8)"></i><i style="background:linear-gradient(90deg,#0000f0,#0000ee,#0000e9,#0000e4,#0000e2,#0000e6,#0000f2,#000bff,#002dff,#0057ff,#0084ff,#00adff,#00cbff,#00d8ff,#00d5ff,#00c8ff,#00b3ff,#0096ff,#0076ff,#0052ff,#002eff,#000cff,#0000ee,#0000d7,#0000c6,#0000ba,#0000b2,#0000b3,#0000c1,#0000db,#0000f9,#0016ff,#002fff,#0046ff,#005cff,#0071ff,#0086ff,#009aff,#00aeff,#00c3ff,#00d7ff,#00eaff,#00fdff,#0ffff0,#10ffef)"></i><i style="background:linear-gradient(90deg,#0000fe,#0000fc,#0000f7,#0000f2,#0000f1,#0000f5,#0003ff,#0019ff,#003bff,#0065ff,#0093ff,#00bcff,#00daff,#00e7ff,#00e3ff,#00d5ff,#00bfff,#00a1ff,#007eff,#005aff,#0035ff,#0012ff,#0000f3,#0000dd,#0000cc,#0000c0,#0000b8,#0000b8,#0000c7,#0000e1,#0000fe,#001cff,#0036ff,#004dff,#0064ff,#007bff,#0091ff,#00a6ff,#00bcff,#00d2ff,#00e8ff,#00fdff,#11ffee,#23ffdc,#24ffdb)"></i><i style="background:linear-gradient(90deg,#0019ff,#0018ff,#0014ff,#000fff,#0010ff,#0015ff,#0022ff,#0039ff,#005aff,#0085ff,#00b3ff,#00deff,#00fcff,#0bfff4,#05fffa,#00f4ff,#00dcff,#00baff,#0095ff,#006dff,#0047ff,#0023ff,#0004ff,#0000ec,#0000db,#0000cf,#0000c7,#0000c8,#0000d7,#0000f1,#0010ff,#002cff,#0048ff,#0061ff,#007aff,#0094ff,#00acff,#00c4ff,#00ddff,#00f6ff,#0ffff0,#25ffda,#3affc5,#4cffb3,#4effb1)"></i><i style="background:linear-gradient(90deg,#0046ff,#0046ff,#0043ff,#0040ff,#0043ff,#004cff,#005bff,#0071ff,#0093ff,#00c2ff,#00f3ff,#22ffdd,#40ffbf,#50ffaf,#48ffb7,#34ffcb,#1affe5,#00f0ff,#00c5ff,#0099ff,#006fff,#0049ff,#0026ff,#0011ff,#0001ff,#0000f4,#0000ec,#0000ee,#0000fe,#0018ff,#0036ff,#0053ff,#0071ff,#008eff,#00acff,#00caff,#00e5ff,#02fffd,#1fffe0,#3cffc3,#57ffa8,#6eff91,#83ff7c,#95ff6a,#99ff66)"></i><i style="background:linear-gradient(90deg,#0087ff,#0088ff,#0087ff,#0086ff,#008fff,#009dff,#00b0ff,#00c8ff,#00ecff,#22ffdd,#58ffa7,#8dff72,#adff52,#c2ff3d,#b6ff49,#9fff60,#81ff7e,#4effb1,#19ffe6,#00e5ff,#00b8ff,#008dff,#0066ff,#0053ff,#0044ff,#0039ff,#0031ff,#0035ff,#0046ff,#0060ff,#007cff,#0099ff,#00bcff,#00dfff,#04fffb,#29ffd6,#49ffb6,#69ff96,#89ff76,#aaff55,#c6ff39,#ddff22,#f1ff0e,#fffb00,#fff500)"></i><i style="background:linear-gradient(90deg,#00d4ff,#00d7ff,#00d9ff,#00daff,#00e9ff,#00ffff,#18ffe7,#34ffcb,#5cffa3,#9aff65,#daff25,#ffe600,#ffc300,#ffa700,#ffb600,#ffd200,#fff300,#cdff32,#8dff72,#51ffae,#1fffe0,#00eeff,#00c1ff,#00b2ff,#00a6ff,#009cff,#0094ff,#009bff,#00aeff,#00c7ff,#00e1ff,#00ffff,#29ffd6,#52ffad,#7eff81,#aaff55,#ceff31,#f0ff0f,#ffeb00,#ffc800,#ffab00,#ff9800,#ff8600,#ff7600,#ff6e00)"></i><i style="background:linear-gradient(90deg,#1cffe3,#21ffde,#25ffda,#29ffd6,#3fffc0,#5cffa3,#7aff85,#9aff65,#c7ff38,#ffef00,#ffa600,#ff5d00,#ff3600,#ff1300,#ff2400,#ff4300,#ff6600,#ffb000,#fffa00,#c0ff3f,#8bff74,#56ffa9,#23ffdc,#18ffe7,#0ffff0,#07fff8,#00feff,#08fff7,#1effe1,#36ffc9,#4fffb0,#6cff93,#9bff64,#c9ff36,#fcff03,#ffce00,#ffa800,#ff8500,#ff6200,#ff3f00,#ff2300,#ff1400,#ff0600,#f70000,#ed0000)"></i><i style="background:linear-gradient(90deg,#47ffb8,#4dffb2,#53ffac,#59ffa6,#72ff8d,#94ff6b,#b7ff48,#d9ff26,#fff500,#ffa600,#ff5600,#ff0700,#dc0000,#b30000,#c60000,#e70000,#ff0b00,#ff5c00,#ffad00,#fff600,#d1ff2e,#99ff66,#62ff9d,#5bffa4,#54ffab,#4dffb2,#46ffb9,#50ffaf,#67ff98,#7fff80,#96ff69,#b3ff4c,#e5ff1a,#ffe600,#ffaf00,#ff7800,#ff5100,#ff2e00,#ff0b00,#e80000,#ce0000,#c20000,#b60000,#aa0000,#9f0000)"></i><i style="background:linear-gradient(90deg,#47ffb8,#4dffb2,#53ffac,#59ffa6,#72ff8d,#94ff6b,#b7ff48,#d9ff26,#fff500,#ffa600,#ff5600,#ff0700,#dc0000,#b30000,#c60000,#e70000,#ff0b00,#ff5c00,#ffad00,#fff600,#d1ff2e,#99ff66,#62ff9d,#5bffa4,#54ffab,#4dffb2,#46ffb9,#50ffaf,#67ff98,#7fff80,#96ff69,#b3ff4c,#e5ff1a,#ffe600,#ffaf00,#ff7800,#ff5100,#ff2e00,#ff0b00,#e80000,#ce0000,#c20000,#b60000,#aa0000,#9f0000)"></i><i style="background:linear-gradient(90deg,#47ffb8,#4dffb2,#53ffac,#59ffa6,#72ff8d,#94ff6b,#b7ff48,#d9ff26,#fff500,#ffa600,#ff5600,#ff0700,#dc0000,#b30000,#c60000,#e70000,#ff0b00,#ff5c00,#ffad00,#fff600,#d1ff2e,#99ff66,#62ff9d,#5bffa4,#54ffab,#4dffb2,#46ffb9,#50ffaf,#67ff98,#7fff80,#96ff69,#b3ff4c,#e5ff1a,#ffe600,#ffaf00,#ff7800,#ff5100,#ff2e00,#ff0b00,#e80000,#ce0000,#c20000,#b60000,#aa0000,#9f0000)"></i></div></div>
<div class="cb" style="left:190px;top:12px"></div>
<div class="h" style="left:265px;top:12px"><div><i style="background:linear-gradient(90deg,#0000ad,#0000ad,#0000ad,#0000ae,#0000b3,#0000bd,#0000d0,#0000ea,#0003ff,#0017ff,#0025ff,#002cff,#002aff,#0024ff,#001bff,#0010ff,#0004ff,#0000f9,#0000f0,#0000e5,#0000cd,#0000af,#0000a2,#00009f,#00009e,#00009e,#00009e,#00009e,#00009e,#00009e,#00009e,#00009e,#00009e,#00009e,#00009e,#00009e,#00009e,#00009e,#00009e,#00009e,#00009e,#00009e,#00009e,#00009e,#00009e)"></i><i style="background:linear-gradient(90deg,#0000ad,#0000ad,#0000ad,#0000ae,#0000b3,#0000bd,#0000d0,#0000ea,#0003ff,#0017ff,#0025ff,#002cff,#002aff,#0024ff,#001bff,#0010ff,#0004ff,#0000f9,#0000f0,#0000e5,#0000cd,#0000af,#0000a2,#00009f,#00009e,#00009e,#00009e,#00009e,#00009e,#00009e,#00009e,#00009e,#00009e,#00009e,#00009e,#00009e,#00009e,#00009e,#00009e,#00009e,#00009e,#00009e,#00009e,#00009e,#00009e)"></i><i style="background:linear-gradient(90deg,#0000ad,#0000ad,#0000ad,#0000ae,#0000b3,#0000bd,#0000d0,#0000ea,#0003ff,#0017ff,#0025ff,#002cff,#002aff,#0024ff,#001bff,#0010ff,#0004ff,#0000f9,#0000f0,#0000e5,#0000cd,#0000af,#0000a2,#00009f,#00009e,#00009e,#00009e,#00009e,#00009e,#00009e,#00009e,#00009e,#00009e,#00009e,#00009e,#00009e,#00009e,#00009e,#00009e,#00009e,#00009e,#00009e,#00009e,#00009e,#00009e)"></i><i style="background:linear-gradient(90deg,#0000ad,#0000ad,#0000ad,#0000ae,#0000b3,#0000bd,#0000d0,#0000ea,#0004ff,#0017ff,#0025ff,#002cff,#002bff,#0025ff,#001bff,#0010ff,#0005ff,#0000fa,#0000f1,#0000e6,#0000cd,#0000af,#0000a2,#00009f,#00009e,#00009e,#00009e,#00009e,#00009e,#00009e,#00009e,#00009e,#00009e,#00009e,#00009e,#00009e,#00009e,#00009e,#00009e,#00009e,#00009e,#00009e,#00009e,#00009e,#00009e)"></i><i style="background:linear-gradient(90deg,#0000ad,#0000ad,#0000ad,#0000ae,#0000b3,#0000bd,#0000d1,#0000ea,#0004ff,#0018ff,#0026ff,#002dff,#002cff,#0026ff,#001cff,#0011ff,#0005ff,#0000fa,#0000f1,#0000e6,#0000cd,#0000af,#0000a2,#00009f,#00009e,#00009e,#00009e,#00009e,#00009e,#00009e,#00009e,#00009e,#00009e,#00009e,#00009e,#00009e,#00009e,#00009e,#00009e,#00009e,#00009e,#00009e,#00009e,#00009e,#00009e)"></i><i style="background:linear-gradient(90deg,#0000ad,#0000ad,#0000ad,#0000ae,#0000b3,#0000bd,#0000d1,#0000eb,#0004ff,#0018ff,#0027ff,#002dff,#002cff,#0026ff,#001dff,#0011ff,#0006ff,#0000fa,#0000f1,#0000e6,#0000cd,#0000af,#0000a2,#00009f,#00009e,#00009e,#00009e,#00009e,#00009e,#00009e,#00009e,#00009e,#00009e,#00009e,#00009e,#00009e,#00009e,#00009e,#00009e,#00009e,#00009e,#00009e,#00009e,#00009e,#00009e)"></i><i style="background:linear-gradient(90deg,#0000ad,#0000ad,#0000ad,#0000ae,#0000b3,#0000bd,#0000d1,#0000eb,#0005ff,#0019ff,#0027ff,#002eff,#002dff,#0027ff,#001dff,#0012ff,#0006ff,#0000fb,#0000f2,#0000e6,#0000ce,#0000af,#0000a2,#00009f,#00009e,#00009e,#00009e,#00009e,#00009e,#00009e,#00009e,#00009e,#00009e,#00009e,#00009e,#00009e,#00009e,#00009e,#00009e,#00009e,#00009e,#00009e,#00009e,#00009e,#00009e)"></i><i style="background:linear-gradient(90deg,#0000ad,#0000ad,#0000ad,#0000ae,#0000b3,#0000bd,#0000d1,#0000eb,#0005ff,#0019ff,#0028ff,#002fff,#002dff,#0027ff,#001eff,#0012ff,#0007ff,#0000fb,#0000f2,#0000e7,#0000ce,#0000af,#0000a2,#00009f,#00009e,#00009e,#00009e,#00009e,#00009e,#00009e,#00009e,#00009e,#00009e,#00009e,#00009e,#00009e,#00009e,#00009e,#00009e,#00009e,#00009e,#00009e,#00009e,#00009e,#00009e)"></i><i style="background:linear-gradient(90deg,#0000ad,#0000ad,#0000ad,#0000ae,#0000b3,#0000bd,#0000d1,#0000eb,#0006ff,#001aff,#0028ff,#002fff,#002eff,#0028ff,#001eff,#0013ff,#0007ff,#0000fc,#0000f3,#0000e7,#0000ce,#0000af,#0000a2,#00009f,#00009e,#00009e,#00009e,#00009e,#00009e,#00009e,#00009e,#00009e,#00009e,#00009e,#00009e,#00009e,#00009e,#00009e,#00009e,#00009e,#00009e,#00009e,#00009e,#00009e,#00009e)"></i><i style="background:linear-gradient(90deg,#0000ad,#0000ad,#0000ad,#0000ae,#0000b3,#0000be,#0000d1,#0000ec,#0006ff,#001aff,#0029ff,#0030ff,#002fff,#0028ff,#001fff,#0013ff,#0008ff,#0000fc,#0000f3,#0000e7,#0000ce,#0000af,#0000a2,#00009f,#00009e,#00009e,#00009e,#00009e,#00009e,#00009e,#00009e,#00009e,#00009e,#00009e,#00009e,#00009e,#00009e,#00009e,#00009e,#00009e,#00009e,#00009e,#00009e,#00009e,#00009e)"></i><i style="background:linear-gradient(90deg,#0000ad,#0000ad,#0000ad,#0000ae,#0000b3,#0000be,#0000d2,#0000ec,#0006ff,#001bff,#0029ff,#0030ff,#002fff,#0029ff,#001fff,#0014ff,#0008ff,#0000fc,#0000f3,#0000e8,#0000cf,#0000af,#0000a2,#00009f,#00009e,#00009e,#00009e,#00009e,#00009e,#00009e,#00009e,#00009e,#00009e,#00009e,#00009e,#00009e,#00009e,#00009e,#00009e,#00009e,#00009e,#00009e,#00009e,#00009e,#00009e)"></i><i style="background:linear-gradient(90deg,#0000ad,#0000ad,#0000ad,#0000ae,#0000b3,#0000be,#0000d2,#0000ec,#0007ff,#001bff,#002aff,#0031ff,#0030ff,#002aff,#0020ff,#0014ff,#0008ff,#0000fd,#0000f4,#0000e8,#0000cf,#0000af,#0000a2,#00009f,#00009e,#00009e,#00009e,#00009e,#00009e,#00009e,#00009e,#00009e,#00009e,#00009e,#00009e,#00009e,#00009e,#00009e,#00009e,#00009e,#00009e,#00009e,#00009e,#00009e,#00009e)"></i><i style="background:linear-gradient(90deg,#0000ad,#0000ad,#0000ad,#0000ae,#0000b3,#0000be,#0000d2,#0000ed,#0007ff,#001cff,#002bff,#0032ff,#0030ff,#002aff,#0020ff,#0015ff,#0009ff,#0000fd,#0000f4,#0000e8,#0000cf,#0000af,#0000a2,#00009f,#00009e,#00009e,#00009e,#00009e,#00009e,#00009e,#00009e,#00009e,#00009e,#00009e,#00009e,#00009e,#00009e,#00009e,#00009e,#00009e,#00009e,#00009e,#00009e,#00009e,#00009e)"></i><i style="background:linear-gradient(90deg,#0000ad,#0000ad,#0000ad,#0000ae,#0000b3,#0000be,#0000d2,#0000ed,#0008ff,#001cff,#002bff,#0032ff,#0031ff,#002bff,#0021ff,#0015ff,#0009ff,#0000fe,#0000f4,#0000e9,#0000cf,#0000af,#0000a2,#00009f,#00009e,#00009e,#00009e,#00009e,#00009e,#00009e,#00009e,#00009e,#00009e,#00009e,#00009e,#00009e,#00009e,#00009e,#00009e,#00009e,#00009e,#00009e,#00009e,#00009e,#00009e)"></i><i style="background:linear-gradient(90deg,#0000ad,#0000ad,#0000ad,#0000ae,#0000b3,#0000be,#0000d2,#0000ed,#0008ff,#001dff,#002cff,#0033ff,#0032ff,#002bff,#0021ff,#0016ff,#000aff,#0000fe,#0000f5,#0000e9,#0000cf,#0000af,#0000a2,#00009f,#00009e,#00009e,#00009e,#00009e,#00009e,#00009e,#00009e,#00009e,#00009e,#00009e,#00009e,#00009e,#00009e,#00009e,#00009e,#00009e,#00009e,#00009e,#00009e,#00009e,#00009e)"></i><i style="background:linear-gradient(90deg,#0000ad,#0000ad,#0000ad,#0000ae,#0000b3,#0000be,#0000d2,#0000ed,#0008ff,#001dff,#002cff,#0033ff,#0032ff,#002cff,#0022ff,#0016ff,#000aff,#0000fe,#0000f5,#0000e9,#0000d0,#0000af,#0000a2,#00009f,#00009e,#00009e,#00009e,#00009e,#00009e,#00009e,#00009e,#00009e,#00009e,#00009e,#00009e,#00009e,#00009e,#00009e,#00009e,#00009e,#00009e,#00009e,#00009e,#00009e,#00009e)"></i><i style="background:linear-gradient(90deg,#0000ad,#0000ad,#0000ad,#0000ae,#0000b3,#0000be,#0000d3,#0000ee,#0009ff,#001eff,#002dff,#0034ff,#0033ff,#002dff,#0022ff,#0017ff,#000bff,#0000ff,#0000f5,#0000ea,#0000d0,#0000b0,#0000a2,#00009f,#00009e,#00009e,#00009e,#00009e,#00009e,#00009e,#00009e,#00009e,#00009e,#00009e,#00009e,#00009e,#00009e,#00009e,#00009e,#00009e,#00009e,#00009e,#00009e,#00009e,#00009e)"></i><i style="background:linear-gradient(90deg,#0000ad,#0000ad,#0000ad,#0000ae,#0000b3,#0000be,#0000d3,#0000ee,#0009ff,#001eff,#002dff,#0035ff,#0033ff,#002dff,#0023ff,#0017ff,#000bff,#0000ff,#0000f6,#0000ea,#0000d0,#0000b0,#0000a2,#00009f,#00009e,#00009e,#00009e,#00009e,#00009e,#00009e,#00009e,#00009e,#00009e,#00009e,#00009e,#00009e,#00009e,#00009e,#00009e,#00009e,#00009e,#00009e,#00009e,#00009e,#00009e)"></i><i style="background:linear-gradient(90deg,#0000ad,#0000ad,#0000ad,#0000ae,#0000b3,#0000be,#0000d3,#0000ee,#000aff,#001fff,#002eff,#0035ff,#0034ff,#002eff,#0024ff,#0018ff,#000cff,#0001ff,#0000f6,#0000ea,#0000d0,#0000b0,#0000a2,#00009f,#00009e,#00009e,#00009e,#00009e,#00009e,#00009e,#00009e,#00009e,#00009e,#00009e,#00009e,#00009e,#00009e,#00009e,#00009e,#00009e,#00009e,#00009e,#00009e,#00009e,#00009e)"></i><i style="background:linear-gradient(90deg,#0000ad,#0000ad,#0000ad,#0000ae,#0000b3,#0000be,#0000d3,#0000ef,#000aff,#001fff,#002fff,#0036ff,#0035ff,#002eff,#0024ff,#0018ff,#000cff,#0001ff,#0000f6,#0000eb,#0000d0,#0000b0,#0000a2,#00009f,#00009e,#00009e,#00009e,#00009e,#00009e,#00009e,#00009e,#00009e,#00009e,#00009e,#00009e,#00009e,#00009e,#00009e,#00009e,#00009e,#00009e,#00009e,#00009e,#00009e,#00009e)"></i><i style="background:linear-gradient(90deg,#0000ad,#0000ad,#0000ad,#0000ae,#0000b3,#0000be,#0000d3,#0000ef,#000aff,#0020ff,#002fff,#0036ff,#0035ff,#002fff,#0025ff,#0019ff,#000cff,#0001ff,#0000f7,#0000eb,#0000d1,#0000b0,#0000a2,#00009f,#00009e,#00009e,#00009e,#00009e,#00009e,#00009e,#00009e,#00009e,#00009e,#00009e,#00009e,#00009e,#00009e,#00009e,#00009e,#00009e,#00009e,#00009e,#00009e,#00009e,#00009e)"></i><i style="background:linear-gradient(90deg,#0000ad,#0000ad,#0000ad,#0000af,#0000b3,#0000bf,#0000d4,#0000ef,#000bff,#0020ff,#0030ff,#0037ff,#0036ff,#002fff,#0025ff,#0019ff,#000dff,#0002ff,#0000f7,#0000eb,#0000d1,#0000b0,#0000a2,#00009f,#00009e,#00009e,#00009e,#00009e,#00009e,#00009e,#00009e,#00009e,#00009e,#00009e,#00009e,#00009e,#00009e,#00009e,#00009e,#00009e,#00009e,#00009e,#00009e,#00009e,#00009e)"></i><i style="background:linear-gradient(90deg,#0000ad,#0000ad,#0000ad,#0000af,#0000b3,#0000bf,#0000d4,#0000f0,#000bff,#0021ff,#0030ff,#0038ff,#0036ff,#0030ff,#0026ff,#001aff,#000dff,#0002ff,#0000f8,#0000eb,#0000d1,#0000b0,#0000a2,#00009f,#00009e,#00009e,#00009e,#00009e,#00009e,#00009e,#00009e,#00009e,#00009e,#00009e,#00009e,#00009e,#00009e,#00009e,#00009e,#00009e,#00009e,#00009e,#00009e,#00009e,#00009e)"></i><i style="background:linear-gradient(90deg,#0000ad,#0000ad,#0000ad,#0000af,#0000b3,#0000bf,#0000d4,#0000f0,#000cff,#0021ff,#0031ff,#0038ff,#0037ff,#0031ff,#0026ff,#001aff,#000eff,#0003ff,#0000f8,#0000ec,#0000d1,#0000b0,#0000a2,#00009f,#00009e,#00009e,#00009e,#00009e,#00009e,#00009e,#00009e,#00009e,#00009e,#00009e,#00009e,#00009e,#00009e,#00009e,#00009e,#00009e,#00009e,#00009e,#00009e,#00009e,#00009e)"></i><i style="background:linear-gradient(90deg,#0000ad,#0000ad,#0000ad,#0000af,#0000b3,#0000bf,#0000d4,#0000f0,#000cff,#0022ff,#0031ff,#0039ff,#0038ff,#0031ff,#0027ff,#001bff,#000eff,#0003ff,#0000f8,#0000ec,#0000d1,#0000b0,#0000a2,#00009f,#00009e,#00009e,#00009e,#00009e,#00009e,#00009e,#00009e,#00009e,#00009e,#00009e,#00009e,#00009e,#00009e,#00009e,#00009e,#00009e,#00009e,#00009e,#00009e,#00009e,#00009e)"></i><i style="background:linear-gradient(90deg,#0000ad,#0000ad,#0000ad,#0000af,#0000b3,#0000bf,#0000d4,#0000f0,#000dff,#0022ff,#0032ff,#0039ff,#0038ff,#0032ff,#0027ff,#001bff,#000fff,#0003ff,#0000f9,#0000ec,#0000d2,#0000b0,#0000a2,#00009f,#00009e,#00009e,#00009e,#00009e,#00009e,#00009e,#00009e,#00009e,#00009e,#00009e,#00009e,#00009e,#00009e,#00009e,#00009e,#00009e,#00009e,#00009e,#00009e,#00009e,#00009e)"></i><i style="background:linear-gradient(90deg,#0000ad,#0000ad,#0000ad,#0000af,#0000b3,#0000bf,#0000d4,#0000f1,#000dff,#0023ff,#0033ff,#003aff,#0039ff,#0032ff,#0028ff,#001cff,#000fff,#0004ff,#0000f9,#0000ed,#0000d2,#0000b0,#0000a2,#00009f,#00009e,#00009e,#00009e,#00009e,#00009e,#00009e,#00009e,#00009e,#00009e,#00009e,#00009e,#00009e,#00009e,#00009e,#00009e,#00009e,#00009e,#00009e,#00009e,#00009e,#00009e)"></i><i style="background:linear-gradient(90deg,#0000ad,#0000ad,#0000ad,#0000af,#0000b3,#0000bf,#0000d5,#0000f1,#000dff,#0023ff,#0033ff,#003bff,#0039ff,#0033ff,#0028ff,#001cff,#000fff,#0004ff,#0000f9,#0000ed,#0000d2,#0000b0,#0000a2,#00009f,#00009e,#00009e,#00009e,#00009e,#00009e,#00009e,#00009e,#00009e,#00009e,#00009e,#00009e,#00009e,#00009e,#00009e,#00009e,#00009e,#00009e,#00009e,#00009e,#00009e,#00009e)"></i><i style="background:linear-gradient(90deg,#0000ad,#0000ad,#0000ad,#0000af,#0000b3,#0000bf,#0000d5,#0000f1,#000eff,#0024ff,#0034ff,#003bff,#003aff,#0033ff,#0029ff,#001cff,#0010ff,#0005ff,#0000fa,#0000ed,#0000d2,#0000b0,#0000a3,#00009f,#00009e,#00009e,#00009e,#00009e,#00009e,#00009e,#00009e,#00009e,#00009e,#00009e,#00009e,#00009e,#00009e,#00009e,#00009e,#00009e,#00009e,#00009e,#00009e,#00009e,#00009e)"></i><i style="background:linear-gradient(90deg,#0000ad,#0000ad,#0000ad,#0000af,#0000b4,#0000bf,#0000d5,#0000f2,#000eff,#0024ff,#0034ff,#003cff,#003bff,#0034ff,#002aff,#001dff,#0010ff,#0005ff,#0000fa,#0000ee,#0000d2,#0000b0,#0000a3,#00009f,#00009e,#00009e,#00009e,#00009e,#00009e,#00009e,#00009e,#00009e,#00009e,#00009e,#00009e,#00009e,#00009e,#00009e,#00009e,#00009e,#00009e,#00009e,#00009e,#00009e,#00009e)"></i><i style="background:linear-gradient(90deg,#0000ad,#0000ad,#0000ad,#0000af,#0000b4,#0000bf,#0000d5,#0000f2,#000fff,#0025ff,#0035ff,#003cff,#003bff,#0035ff,#002aff,#001dff,#0011ff,#0005ff,#0000fa,#0000ee,#0000d3,#0000b1,#0000a3,#00009f,#00009e,#00009e,#00009e,#00009e,#00009e,#00009e,#00009e,#00009e,#00009e,#00009e,#00009e,#00009e,#00009e,#00009e,#00009e,#00009e,#00009e,#00009e,#00009e,#00009e,#00009e)"></i><i style="background:linear-gradient(90deg,#0000ad,#0000ad,#0000ad,#0000af,#0000b4,#0000bf,#0000d5,#0000f2,#000fff,#0025ff,#0035ff,#003dff,#003cff,#0035ff,#002bff,#001eff,#0011ff,#0006ff,#0000fb,#0000ee,#0000d3,#0000b1,#0000a3,#00009f,#00009e,#00009e,#00009e,#00009e,#00009e,#00009e,#00009e,#00009e,#00009e,#00009e,#00009e,#00009e,#00009e,#00009e,#00009e,#00009e,#00009e,#00009e,#00009e,#00009e,#00009e)"></i><i style="background:linear-gradient(90deg,#0000ad,#0000ad,#0000ad,#0000af,#0000b4,#0000c0,#0000d5,#0000f2,#000fff,#0026ff,#0036ff,#003eff,#003cff,#0036ff,#002bff,#001eff,#0012ff,#0006ff,#0000fb,#0000ef,#0000d3,#0000b1,#0000a3,#00009f,#00009e,#00009e,#00009e,#00009e,#00009e,#00009e,#00009e,#00009e,#00009e,#00009e,#00009e,#00009e,#00009e,#00009e,#00009e,#00009e,#00009e,#00009e,#00009e,#00009e,#00009e)"></i><i style="background:linear-gradient(90deg,#0000ad,#0000ad,#0000ad,#0000af,#0000b4,#0000c0,#0000d6,#0000f3,#0010ff,#0026ff,#0037ff,#003eff,#003dff,#0036ff,#002cff,#001fff,#0012ff,#0007ff,#0000fc,#0000ef,#0000d3,#0000b1,#0000a3,#00009f,#00009e,#00009e,#00009e,#00009e,#00009e,#00009e,#00009e,#00009e,#00009e,#00009e,#00009e,#00009e,#00009e,#00009e,#00009e,#00009e,#00009e,#00009e,#00009e,#00009e,#00009e)"></i><i style="background:linear-gradient(90deg,#0000ad,#0000ad,#0000ad,#0000af,#0000b4,#0000c0,#0000d6,#0000f3,#0010ff,#0027ff,#0037ff,#003fff,#003eff,#0037ff,#002cff,#001fff,#0013ff,#0007ff,#0000fc,#0000ef,#0000d3,#0000b1,#0000a3,#00009f,#00009e,#00009e,#00009e,#00009e,#00009e,#00009e,#00009e,#00009e,#00009e,#00009e,#00009e,#00009e,#00009e,#00009e,#00009e,#00009e,#00009e,#00009e,#00009e,#00009e,#00009e)"></i><i style="background:linear-gradient(90deg,#0000ad,#0000ad,#0000ad,#0000af,#0000b4,#0000c0,#0000d6,#0000f3,#0011ff,#0027ff,#0038ff,#003fff,#003eff,#0037ff,#002dff,#0020ff,#0013ff,#0007ff,#0000fc,#0000f0,#0000d4,#0000b1,#0000a3,#00009f,#00009e,#00009e,#00009e,#00009e,#00009e,#00009e,#00009e,#00009e,#00009e,#00009e,#00009e,#00009e,#00009e,#00009e,#00009e,#00009e,#00009e,#00009e,#00009e,#00009e,#00009e)"></i><i style="background:linear-gradient(90deg,#0000ad,#0000ad,#0000ad,#0000af,#0000b4,#0000c0,#0000d6,#0000f4,#0011ff,#0028ff,#0038ff,#0040ff,#003fff,#0038ff,#002dff,#0020ff,#0013ff,#0008ff,#0000fd,#0000f0,#0000d4,#0000b1,#0000a3,#00009f,#00009e,#00009e,#00009e,#00009e,#00009e,#00009e,#00009e,#00009e,#00009e,#00009e,#00009e,#00009e,#00009e,#00009e,#00009e,#00009e,#00009e,#00009e,#00009e,#00009e,#00009e)"></i><i style="background:linear-gradient(90deg,#0000ad,#0000ad,#0000ad,#0000af,#0000b4,#0000c0,#0000d6,#0000f4,#0011ff,#0028ff,#0039ff,#0041ff,#003fff,#0039ff,#002eff,#0021ff,#0014ff,#0008ff,#0000fd,#0000f0,#0000d4,#0000b1,#0000a3,#00009f,#00009e,#00009e,#00009e,#00009e,#00009e,#00009e,#00009e,#00009e,#00009e,#00009e,#00009e,#00009e,#00009e,#00009e,#00009e,#00009e,#00009e,#00009e,#00009e,#00009e,#00009e)"></i><i style="background:linear-gradient(90deg,#0000ad,#0000ad,#0000ad,#0000af,#0000b4,#0000c0,#0000d7,#0000f4,#0012ff,#0029ff,#0039ff,#0041ff,#0040ff,#0039ff,#002eff,#0021ff,#0014ff,#0009ff,#0000fd,#0000f0,#0000d4,#0000b1,#0000a3,#00009f,#00009e,#00009e,#00009e,#00009e,#00009e,#00009e,#00009e,#00009e,#00009e,#00009e,#00009e,#00009e,#00009e,#00009e,#00009e,#00009e,#00009e,#00009e,#00009e,#00009e,#00009e)"></i><i style="background:linear-gradient(90deg,#0000ad,#0000ad,#0000ad,#0000af,#0000b4,#0000c0,#0000d7,#0000f5,#0012ff,#0029ff,#003aff,#0042ff,#0041ff,#003aff,#002fff,#0022ff,#0015ff,#0009ff,#0000fe,#0000f1,#0000d4,#0000b1,#0000a3,#00009f,#00009e,#00009e,#00009e,#00009e,#00009e,#00009e,#00009e,#00009e,#00009e,#00009e,#00009e,#00009e,#00009e,#00009e,#00009e,#00009e,#00009e,#00009e,#00009e,#00009e,#00009e)"></i><i style="background:linear-gradient(90deg,#0000ad,#0000ad,#0000ad,#0000af,#0000b4,#0000c0,#0000d7,#0000f5,#0013ff,#002aff,#003bff,#0042ff,#0041ff,#003aff,#002fff,#0022ff,#0015ff,#0009ff,#0000fe,#0000f1,#0000d5,#0000b1,#0000a3,#00009f,#00009e,#00009e,#00009e,#00009e,#00009e,#00009e,#00009e,#00009e,#00009e,#00009e,#00009e,#00009e,#00009e,#00009e,#00009e,#00009e,#00009e,#00009e,#00009e,#00009e,#00009e)"></i><i style="background:linear-gradient(90deg,#0000ad,#0000ad,#0000ad,#0000af,#0000b4,#0000c0,#0000d7,#0000f5,#0013ff,#002aff,#003bff,#0043ff,#0042ff,#003bff,#0030ff,#0023ff,#0016ff,#000aff,#0000fe,#0000f1,#0000d5,#0000b1,#0000a3,#00009f,#00009e,#00009e,#00009e,#00009e,#00009e,#00009e,#00009e,#00009e,#00009e,#00009e,#00009e,#00009e,#00009e,#00009e,#00009e,#00009e,#00009e,#00009e,#00009e,#00009e,#00009e)"></i><i style="background:linear-gradient(90deg,#0000ad,#0000ad,#0000ad,#0000af,#0000b4,#0000c0,#0000d7,#0000f5,#0013ff,#002bff,#003cff,#0044ff,#0042ff,#003cff,#0031ff,#0023ff,#0016ff,#000aff,#0000ff,#0000f2,#0000d5,#0000b1,#0000a3,#00009f,#00009e,#00009e,#00009e,#00009e,#00009e,#00009e,#00009e,#00009e,#00009e,#00009e,#00009e,#00009e,#00009e,#00009e,#00009e,#00009e,#00009e,#00009e,#00009e,#00009e,#00009e)"></i><i style="background:linear-gradient(90deg,#0000ad,#0000ad,#0000ad,#0000af,#0000b4,#0000c0,#0000d7,#0000f6,#0014ff,#002bff,#003cff,#0044ff,#0043ff,#003cff,#0031ff,#0024ff,#0017ff,#000bff,#0000ff,#0000f2,#0000d5,#0000b1,#0000a3,#00009f,#00009e,#00009e,#00009e,#00009e,#00009e,#00009e,#00009e,#00009e,#00009e,#00009e,#00009e,#00009e,#00009e,#00009e,#00009e,#00009e,#00009e,#00009e,#00009e,#00009e,#00009e)"></i><i style="background:linear-gradient(90deg,#0000ad,#0000ad,#0000ad,#0000af,#0000b4,#0000c1,#0000d8,#0000f6,#0014ff,#002cff,#003dff,#0045ff,#0044ff,#003dff,#0032ff,#0025ff,#0017ff,#000bff,#0001ff,#0000f2,#0000d6,#0000b2,#0000a3,#00009f,#00009e,#00009e,#00009e,#00009e,#00009e,#00009e,#00009e,#00009e,#00009e,#00009e,#00009e,#00009e,#00009e,#00009e,#00009e,#00009e,#00009e,#00009e,#00009e,#00009e,#00009e)"></i><i style="background:linear-gradient(90deg,#0000ad,#0000ad,#0000ad,#0000af,#0000b4,#0000c1,#0000d8,#0000f7,#0015ff,#002dff,#003eff,#0046ff,#0045ff,#003eff,#0033ff,#0025ff,#0018ff,#000cff,#0001ff,#0000f3,#0000d6,#0000b2,#0000a3,#00009f,#00009e,#00009e,#00009e,#00009e,#00009e,#00009e,#00009e,#00009e,#00009e,#00009e,#00009e,#00009e,#00009e,#00009e,#00009e,#00009e,#00009e,#00009e,#00009e,#00009e,#00009e)"></i><i style="background:linear-gradient(90deg,#0000ad,#0000ad,#0000ad,#0000af,#0000b4,#0000c1,#0000d8,#0000f7,#0016ff,#002eff,#003fff,#0047ff,#0046ff,#003fff,#0034ff,#0026ff,#0019ff,#000dff,#0002ff,#0000f4,#0000d6,#0000b2,#0000a3,#00009f,#00009e,#00009e,#00009e,#00009e,#00009e,#00009e,#00009e,#00009e,#00009e,#00009e,#00009e,#00009e,#00009e,#00009e,#00009e,#00009e,#00009e,#00009e,#00009e,#00009e,#00009e)"></i><i style="background:linear-gradient(90deg,#0000ad,#0000ad,#0000ad,#0000af,#0000b4,#0000c1,#0000d9,#0000f8,#0017ff,#002fff,#0040ff,#0048ff,#0047ff,#0040ff,#0035ff,#0027ff,#001aff,#000dff,#0003ff,#0000f4,#0000d7,#0000b2,#0000a3,#00009f,#00009f,#00009e,#00009e,#00009e,#00009e,#00009e,#00009e,#00009e,#00009e,#00009e,#00009e,#00009e,#00009e,#00009e,#00009e,#00009e,#00009e,#00009e,#00009e,#00009e,#00009e)"></i><i style="background:linear-gradient(90deg,#0000ad,#0000ad,#0000ad,#0000af,#0000b4,#0000c1,#0000d9,#0000f8,#0017ff,#0030ff,#0041ff,#0049ff,#0048ff,#0041ff,#0036ff,#0028ff,#001aff,#000eff,#0003ff,#0000f5,#0000d7,#0000b2,#0000a3,#00009f,#00009f,#00009e,#00009e,#00009e,#00009e,#00009e,#00009e,#00009e,#00009e,#00009e,#00009e,#00009e,#00009e,#00009e,#00009e,#00009e,#00009e,#00009e,#00009e,#00009e,#00009e)"></i><i style="background:linear-gradient(90deg,#0000ad,#0000ad,#0000ad,#0000af,#0000b4,#0000c1,#0000d9,#0000f9,#0018ff,#0031ff,#0042ff,#004bff,#0049ff,#0042ff,#0037ff,#0029ff,#001bff,#000fff,#0004ff,#0000f5,#0000d7,#0000b2,#0000a3,#00009f,#00009f,#00009e,#00009e,#00009e,#00009e,#00009e,#00009e,#00009e,#00009e,#00009e,#00009e,#00009e,#00009e,#00009e,#00009e,#00009e,#00009e,#00009e,#00009e,#00009e,#00009e)"></i><i style="background:linear-gradient(90deg,#0000ad,#0000ad,#0000ad,#0000af,#0000b4,#0000c2,#0000da,#0000f9,#0019ff,#0032ff,#0043ff,#004cff,#004aff,#0043ff,#0038ff,#002aff,#001cff,#0010ff,#0005ff,#0000f6,#0000d8,#0000b2,#0000a3,#00009f,#00009f,#00009e,#00009e,#00009e,#00009e,#00009e,#00009e,#00009e,#00009e,#00009e,#00009e,#00009e,#00009e,#00009e,#00009e,#00009e,#00009e,#00009e,#00009e,#00009e,#00009e)"></i><i style="background:linear-gradient(90deg,#0000ad,#0000ad,#0000ad,#0000af,#0000b5,#0000c2,#0000da,#0000fa,#001aff,#0033ff,#0044ff,#004dff,#004bff,#0044ff,#0039ff,#002bff,#001dff,#0010ff,#0005ff,#0000f6,#0000d8,#0000b2,#0000a3,#00009f,#00009f,#00009e,#00009e,#00009e,#00009e,#00009e,#00009e,#00009e,#00009e,#00009e,#00009e,#00009e,#00009e,#00009e,#00009e,#00009e,#00009e,#00009e,#00009e,#00009e,#00009e)"></i><i style="background:linear-gradient(90deg,#0000ad,#0000ad,#0000ad,#0000af,#0000b5,#0000c2,#0000da,#0000fa,#001aff,#0033ff,#0045ff,#004eff,#004dff,#0045ff,#003aff,#002cff,#001eff,#0011ff,#0006ff,#0000f7,#0000d9,#0000b3,#0000a3,#00009f,#00009f,#00009e,#00009e,#00009e,#00009e,#00009e,#00009e,#00009e,#00009e,#00009e,#00009e,#00009e,#00009e,#00009e,#00009e,#00009e,#00009e,#00009e,#00009e,#00009e,#00009e)"></i><i style="background:linear-gradient(90deg,#0000ad,#0000ad,#0000ad,#0000af,#0000b5,#0000c2,#0000db,#0000fb,#001bff,#0034ff,#0046ff,#004fff,#004eff,#0046ff,#003bff,#002dff,#001eff,#0012ff,#0006ff,#0000f8,#0000d9,#0000b3,#0000a3,#00009f,#00009f,#00009e,#00009e,#00009e,#00009e,#00009e,#00009e,#00009e,#00009e,#00009e,#00009e,#00009e,#00009e,#00009e,#00009e,#00009e,#00009e,#00009e,#00009e,#00009e,#00009e)"></i><i style="background:linear-gradient(90deg,#0000ad,#0000ad,#0000ad,#0000af,#0000b5,#0000c2,#0000db,#0000fb,#001cff,#0035ff,#0047ff,#0050ff,#004fff,#0047ff,#003cff,#002dff,#001fff,#0012ff,#0007ff,#0000f8,#0000d9,#0000b3,#0000a3,#00009f,#00009f,#00009e,#00009e,#00009e,#00009e,#00009e,#00009e,#00009e,#00009e,#00009e,#00009e,#00009e,#00009e,#00009e,#00009e,#00009e,#00009e,#00009e,#00009e,#00009e,#00009e)"></i><i style="background:linear-gradient(90deg,#0000ad,#0000ad,#0000ad,#0000af,#0000b5,#0000c2,#0000db,#0000fc,#001dff,#0036ff,#0048ff,#0051ff,#0050ff,#0048ff,#003cff,#002eff,#0020ff,#0013ff,#0008ff,#0000f9,#0000da,#0000b3,#0000a3,#00009f,#00009f,#00009e,#00009e,#00009e,#00009e,#00009e,#00009e,#00009e,#00009e,#00009e,#00009e,#00009e,#00009e,#00009e,#00009e,#00009e,#00009e,#00009e,#00009e,#00009e,#00009e)"></i><i style="background:linear-gradient(90deg,#0000ad,#0000ad,#0000ad,#0000af,#0000b5,#0000c2,#0000db,#0000fc,#001dff,#0037ff,#0049ff,#0052ff,#0051ff,#0049ff,#003dff,#002fff,#0021ff,#0014ff,#0008ff,#0000f9,#0000da,#0000b3,#0000a3,#00009f,#00009f,#00009e,#00009e,#00009e,#00009e,#00009e,#00009e,#00009e,#00009e,#00009e,#00009e,#00009e,#00009e,#00009e,#00009e,#00009e,#00009e,#00009e,#00009e,#00009e,#00009e)"></i><i style="background:linear-gradient(90deg,#0000ad,#0000ad,#0000ad,#0000af,#0000b5,#0000c3,#0000dc,#0000fd,#001eff,#0038ff,#004aff,#0053ff,#0052ff,#004aff,#003eff,#0030ff,#0022ff,#0015ff,#0009ff,#0000fa,#0000da,#0000b3,#0000a3,#00009f,#00009f,#00009e,#00009e,#00009e,#00009e,#00009e,#00009e,#00009e,#00009e,#00009e,#00009e,#00009e,#00009e,#00009e,#00009e,#00009e,#00009e,#00009e,#00009e,#00009e,#00009e)"></i><i style="background:linear-gradient(90deg,#0000ad,#0000ad,#0000ad,#0000af,#0000b5,#0000c3,#0000dc,#0000fe,#001fff,#0039ff,#004bff,#0054ff,#0053ff,#004cff,#003fff,#0031ff,#0022ff,#0015ff,#000aff,#0000fa,#0000db,#0000b3,#0000a3,#00009f,#00009f,#00009e,#00009e,#00009e,#00009e,#00009e,#00009e,#00009e,#00009e,#00009e,#00009e,#00009e,#00009e,#00009e,#00009e,#00009e,#00009e,#00009e,#00009e,#00009e,#00009e)"></i><i style="background:linear-gradient(90deg,#0000ad,#0000ad,#0000ad,#0000af,#0000b5,#0000c3,#0000dc,#0000fe,#0020ff,#003aff,#004cff,#0055ff,#0054ff,#004dff,#0040ff,#0032ff,#0023ff,#0016ff,#000aff,#0000fb,#0000db,#0000b4,#0000a3,#0000a0,#00009f,#00009e,#00009e,#00009e,#00009e,#00009e,#00009e,#00009e,#00009e,#00009e,#00009e,#00009e,#00009e,#00009e,#00009e,#00009e,#00009e,#00009e,#00009e,#00009e,#00009e)"></i><i style="background:linear-gradient(90deg,#0000ad,#0000ad,#0000ad,#0000af,#0000b5,#0000c3,#0000dd,#0000ff,#0020ff,#003bff,#004dff,#0057ff,#0055ff,#004eff,#0041ff,#0033ff,#0024ff,#0017ff,#000bff,#0000fc,#0000dc,#0000b4,#0000a3,#0000a0,#00009f,#00009e,#00009e,#00009e,#00009e,#00009e,#00009e,#00009e,#00009e,#00009e,#00009e,#00009e,#00009e,#00009e,#00009e,#00009e,#00009e,#00009e,#00009e,#00009e,#00009e)"></i><i style="background:linear-gradient(90deg,#0000ad,#0000ad,#0000ad,#0000af,#0000b5,#0000c3,#0000dd,#0000ff,#0021ff,#003cff,#004fff,#0058ff,#0056ff,#004fff,#0042ff,#0034ff,#0025ff,#0018ff,#000cff,#0000fc,#0000dc,#0000b4,#0000a3,#0000a0,#00009f,#00009e,#00009e,#00009e,#00009e,#00009e,#00009e,#00009e,#00009e,#00009e,#00009e,#00009e,#00009e,#00009e,#00009e,#00009e,#00009e,#00009e,#00009e,#00009e,#00009e)"></i><i style="background:linear-gradient(90deg,#0000ad,#0000ad,#0000ad,#0000af,#0000b5,#0000c4,#0000de,#0001ff,#0022ff,#003dff,#0050ff,#0059ff,#0058ff,#0050ff,#0043ff,#0035ff,#0026ff,#0018ff,#000dff,#0000fd,#0000dc,#0000b4,#0000a4,#0000a0,#00009f,#00009e,#00009e,#00009e,#00009e,#00009e,#00009e,#00009e,#00009e,#00009e,#00009e,#00009e,#00009e,#00009e,#00009e,#00009e,#00009e,#00009e,#00009e,#00009e,#00009e)"></i><i style="background:linear-gradient(90deg,#0000ad,#0000ad,#0000ad,#0000b0,#0000b6,#0000c4,#0000de,#0001ff,#0023ff,#003eff,#0051ff,#005aff,#0059ff,#0051ff,#0044ff,#0036ff,#0027ff,#0019ff,#000dff,#0000fd,#0000dd,#0000b4,#0000a4,#0000a0,#00009f,#00009f,#00009e,#00009e,#00009e,#00009e,#00009e,#00009e,#00009e,#00009e,#00009e,#00009e,#00009e,#00009e,#00009e,#00009e,#00009e,#00009e,#00009e,#00009e,#00009e)"></i><i style="background:linear-gradient(90deg,#0000ad,#0000ad,#0000ae,#0000b0,#0000b6,#0000c4,#0000de,#0002ff,#0023ff,#003fff,#0052ff,#005bff,#005aff,#0052ff,#0046ff,#0037ff,#0027ff,#001aff,#000eff,#0000fe,#0000dd,#0000b4,#0000a4,#0000a0,#00009f,#00009f,#00009f,#00009e,#00009e,#00009e,#00009e,#00009e,#00009e,#00009e,#00009e,#00009e,#00009e,#00009e,#00009e,#00009e,#00009e,#00009e,#00009e,#00009e,#00009e)"></i><i style="background:linear-gradient(90deg,#0000ad,#0000ad,#0000ae,#0000b0,#0000b6,#0000c4,#0000df,#0003ff,#0024ff,#0040ff,#0053ff,#005cff,#005bff,#0053ff,#0047ff,#0038ff,#0028ff,#001bff,#000fff,#0000ff,#0000de,#0000b5,#0000a4,#0000a0,#00009f,#00009f,#00009f,#00009f,#00009f,#00009f,#00009f,#00009f,#00009f,#00009f,#00009f,#00009f,#00009f,#00009f,#00009f,#00009f,#00009f,#00009f,#00009f,#00009f,#00009f)"></i><i style="background:linear-gradient(90deg,#0000ad,#0000ad,#0000ae,#0000b0,#0000b6,#0000c5,#0000df,#0003ff,#0025ff,#0041ff,#0054ff,#005eff,#005cff,#0054ff,#0048ff,#0039ff,#0029ff,#001cff,#0010ff,#0000ff,#0000de,#0000b5,#0000a4,#0000a0,#00009f,#00009f,#00009f,#00009f,#00009f,#00009f,#00009f,#00009f,#00009f,#00009f,#00009f,#00009f,#00009f,#00009f,#00009f,#00009f,#00009f,#00009f,#00009f,#00009f,#00009f)"></i><i style="background:linear-gradient(90deg,#0000ae,#0000ae,#0000ae,#0000b0,#0000b6,#0000c5,#0000e0,#0004ff,#0026ff,#0042ff,#0055ff,#005fff,#005eff,#0056ff,#0049ff,#003aff,#002aff,#001dff,#0010ff,#0001ff,#0000df,#0000b5,#0000a4,#0000a0,#00009f,#00009f,#00009f,#00009f,#00009f,#00009f,#00009f,#00009f,#00009f,#00009f,#00009f,#00009f,#00009f,#00009f,#00009f,#00009f,#00009f,#00009f,#00009f,#00009f,#00009f)"></i><i style="background:linear-gradient(90deg,#0000ae,#0000ae,#0000ae,#0000b1,#0000b7,#0000c5,#0000e0,#0005ff,#0027ff,#0043ff,#0057ff,#0060ff,#005fff,#0057ff,#004aff,#003bff,#002bff,#001eff,#0011ff,#0002ff,#0000e0,#0000b6,#0000a5,#0000a1,#0000a0,#00009f,#00009f,#00009f,#00009f,#00009f,#00009f,#00009f,#00009f,#00009f,#00009f,#00009f,#00009f,#00009f,#00009f,#00009f,#00009f,#00009f,#00009f,#00009f,#00009f)"></i><i style="background:linear-gradient(90deg,#0000ae,#0000ae,#0000af,#0000b1,#0000b7,#0000c6,#0000e1,#0006ff,#0028ff,#0044ff,#0058ff,#0062ff,#0061ff,#0059ff,#004cff,#003cff,#002dff,#001fff,#0012ff,#0003ff,#0000e0,#0000b6,#0000a5,#0000a1,#0000a0,#0000a0,#0000a0,#0000a0,#0000a0,#0000a0,#0000a0,#0000a0,#0000a0,#0000a0,#0000a0,#0000a0,#0000a0,#0000a0,#0000a0,#0000a0,#0000a0,#0000a0,#0000a0,#0000a0,#0000a0)"></i><i style="background:linear-gradient(90deg,#0000af,#0000af,#0000af,#0000b2,#0000b8,#0000c7,#0000e2,#0007ff,#002aff,#0046ff,#005aff,#0063ff,#0062ff,#005aff,#004dff,#003eff,#002eff,#0020ff,#0014ff,#0004ff,#0000e1,#0000b7,#0000a6,#0000a2,#0000a1,#0000a0,#0000a0,#0000a0,#0000a0,#0000a0,#0000a0,#0000a0,#0000a0,#0000a0,#0000a0,#0000a0,#0000a0,#0000a0,#0000a0,#0000a0,#0000a0,#0000a0,#0000a0,#0000a0,#0000a0)"></i><i style="background:linear-gradient(90deg,#0000b0,#0000b0,#0000b0,#0000b2,#0000b9,#0000c8,#0000e3,#0008ff,#002bff,#0047ff,#005cff,#0065ff,#0064ff,#005cff,#004fff,#003fff,#0030ff,#0021ff,#0015ff,#0005ff,#0000e2,#0000b8,#0000a7,#0000a2,#0000a1,#0000a1,#0000a1,#0000a1,#0000a1,#0000a1,#0000a1,#0000a1,#0000a1,#0000a1,#0000a1,#0000a1,#0000a1,#0000a1,#0000a1,#0000a1,#0000a1,#0000a1,#0000a1,#0000a1,#0000a1)"></i><i style="background:linear-gradient(90deg,#0000b1,#0000b1,#0000b1,#0000b4,#0000ba,#0000c9,#0000e4,#000aff,#002dff,#0049ff,#005dff,#0067ff,#0066ff,#005eff,#0051ff,#0041ff,#0031ff,#0023ff,#0017ff,#0007ff,#0000e4,#0000b9,#0000a8,#0000a3,#0000a2,#0000a2,#0000a2,#0000a2,#0000a2,#0000a2,#0000a2,#0000a2,#0000a2,#0000a2,#0000a2,#0000a2,#0000a2,#0000a2,#0000a2,#0000a2,#0000a2,#0000a2,#0000a2,#0000a2,#0000a2)"></i><i style="background:linear-gradient(90deg,#0000b2,#0000b2,#0000b3,#0000b5,#0000bb,#0000ca,#0000e6,#000bff,#002fff,#004bff,#005fff,#0069ff,#0068ff,#0060ff,#0053ff,#0043ff,#0033ff,#0025ff,#0018ff,#0009ff,#0000e5,#0000ba,#0000a9,#0000a5,#0000a4,#0000a4,#0000a3,#0000a3,#0000a3,#0000a3,#0000a3,#0000a3,#0000a3,#0000a3,#0000a3,#0000a3,#0000a3,#0000a3,#0000a3,#0000a3,#0000a3,#0000a3,#0000a3,#0000a3,#0000a3)"></i><i style="background:linear-gradient(90deg,#0000b5,#0000b5,#0000b5,#0000b7,#0000be,#0000cd,#0000e8,#000eff,#0031ff,#004eff,#0062ff,#006cff,#006bff,#0062ff,#0055ff,#0045ff,#0035ff,#0027ff,#001bff,#000bff,#0000e7,#0000bc,#0000ab,#0000a7,#0000a6,#0000a5,#0000a5,#0000a5,#0000a5,#0000a5,#0000a5,#0000a5,#0000a5,#0000a5,#0000a5,#0000a5,#0000a5,#0000a5,#0000a5,#0000a5,#0000a5,#0000a5,#0000a5,#0000a5,#0000a5)"></i><i style="background:linear-gradient(90deg,#0000ba,#0000b9,#0000ba,#0000bc,#0000c2,#0000d0,#0000ec,#0011ff,#0034ff,#0051ff,#0065ff,#006fff,#006eff,#0066ff,#0058ff,#0049ff,#0039ff,#002aff,#001eff,#000eff,#0000ea,#0000bf,#0000ad,#0000a9,#0000a8,#0000a8,#0000a8,#0000a8,#0000a8,#0000a8,#0000a8,#0000a8,#0000a8,#0000a8,#0000a8,#0000a8,#0000a8,#0000a8,#0000a8,#0000a8,#0000a8,#0000a8,#0000a8,#0000a8,#0000a8)"></i><i style="background:linear-gradient(90deg,#0000c2,#0000c2,#0000c2,#0000c4,#0000c9,#0000d7,#0000f2,#0017ff,#003aff,#0056ff,#006bff,#0074ff,#0073ff,#006aff,#005dff,#004dff,#003dff,#002eff,#0022ff,#0012ff,#0000ee,#0000c3,#0000b1,#0000ad,#0000ac,#0000ab,#0000ab,#0000ab,#0000ab,#0000ab,#0000ab,#0000ab,#0000ab,#0000ab,#0000ab,#0000ab,#0000ab,#0000ab,#0000ab,#0000ab,#0000ab,#0000ab,#0000ab,#0000ab,#0000ab)"></i><i style="background:linear-gradient(90deg,#0000d3,#0000d2,#0000d2,#0000d3,#0000d7,#0000e4,#0000fe,#0021ff,#0043ff,#005fff,#0073ff,#007dff,#007bff,#0072ff,#0065ff,#0054ff,#0044ff,#0035ff,#0028ff,#0018ff,#0000f4,#0000c8,#0000b6,#0000b2,#0000b1,#0000b1,#0000b0,#0000b0,#0000b0,#0000b0,#0000b0,#0000b0,#0000b0,#0000b0,#0000b0,#0000b0,#0000b0,#0000b0,#0000b0,#0000b0,#0000b0,#0000b0,#0000b0,#0000b0,#0000b0)"></i><i style="background:linear-gradient(90deg,#0000f0,#0000ef,#0000ee,#0000ee,#0000f1,#0000fc,#0015ff,#0036ff,#0056ff,#0071ff,#0084ff,#008dff,#008bff,#0081ff,#0073ff,#0062ff,#0050ff,#0040ff,#0033ff,#0022ff,#0000fe,#0000d2,#0000c0,#0000bb,#0000ba,#0000ba,#0000ba,#0000ba,#0000ba,#0000ba,#0000ba,#0000ba,#0000ba,#0000ba,#0000ba,#0000ba,#0000ba,#0000ba,#0000ba,#0000ba,#0000ba,#0000ba,#0000ba,#0000ba,#0000ba)"></i><i style="background:linear-gradient(90deg,#0022ff,#0021ff,#0020ff,#001fff,#0020ff,#0029ff,#003eff,#005cff,#007aff,#0093ff,#00a5ff,#00aeff,#00aaff,#009fff,#008fff,#007cff,#0069ff,#0057ff,#0048ff,#0036ff,#0013ff,#0000e6,#0000d3,#0000cf,#0000cd,#0000cd,#0000cd,#0000cd,#0000cd,#0000cd,#0000cd,#0000cd,#0000cd,#0000cd,#0000cd,#0000cd,#0000cd,#0000cd,#0000cd,#0000cd,#0000cd,#0000cd,#0000cd,#0000cd,#0000cd)"></i><i style="background:linear-gradient(90deg,#006aff,#006bff,#006aff,#0069ff,#0068ff,#0070ff,#0083ff,#009eff,#00b9ff,#00cfff,#00e0ff,#00e9ff,#00e3ff,#00d7ff,#00c5ff,#00afff,#0098ff,#0083ff,#0071ff,#005eff,#003aff,#000eff,#0000fa,#0000f5,#0000f4,#0000f3,#0000f3,#0000f3,#0000f3,#0000f3,#0000f2,#0000f2,#0000f2,#0000f2,#0000f2,#0000f3,#0000f3,#0000f3,#0000f3,#0000f3,#0000f3,#0000f3,#0000f3,#0000f4,#0000f4)"></i><i style="background:linear-gradient(90deg,#00c5ff,#00c7ff,#00c7ff,#00c7ff,#00c6ff,#00ceff,#00e1ff,#00faff,#14ffeb,#28ffd7,#38ffc7,#42ffbd,#3affc5,#2bffd4,#18ffe7,#00feff,#00e2ff,#00c9ff,#00b3ff,#009dff,#0079ff,#004eff,#003aff,#0035ff,#0034ff,#0033ff,#0032ff,#0032ff,#0032ff,#0032ff,#0032ff,#0031ff,#0031ff,#0031ff,#0031ff,#0032ff,#0032ff,#0032ff,#0033ff,#0033ff,#0033ff,#0034ff,#0034ff,#0034ff,#0034ff)"></i><i style="background:linear-gradient(90deg,#35ffca,#39ffc6,#3cffc3,#3effc1,#3fffc0,#4affb5,#60ff9f,#7aff85,#93ff6c,#a6ff59,#b8ff47,#c5ff3a,#baff45,#abff54,#97ff68,#7aff85,#59ffa6,#3affc5,#20ffdf,#09fff6,#00e5ff,#00bdff,#00a8ff,#00a3ff,#00a2ff,#00a1ff,#00a0ff,#00a0ff,#009fff,#009fff,#009fff,#009eff,#009eff,#009eff,#009eff,#009fff,#009fff,#00a0ff,#00a1ff,#00a1ff,#00a2ff,#00a3ff,#00a3ff,#00a4ff,#00a4ff)"></i><i style="background:linear-gradient(90deg,#a9ff56,#b0ff4f,#b6ff49,#bcff43,#c0ff3f,#d1ff2e,#edff12,#fff300,#ffd700,#ffc100,#ffad00,#ff9b00,#ffa700,#ffb600,#ffc800,#ffe800,#f2ff0d,#ceff31,#b0ff4f,#98ff67,#78ff87,#56ffa9,#3fffc0,#3cffc3,#3affc5,#39ffc6,#38ffc7,#38ffc7,#37ffc8,#37ffc8,#36ffc9,#36ffc9,#35ffca,#34ffcb,#36ffc9,#37ffc8,#38ffc7,#39ffc6,#3affc5,#3bffc4,#3cffc3,#3dffc2,#3effc1,#3fffc0,#40ffbf)"></i><i style="background:linear-gradient(90deg,#fff300,#ffe900,#ffe000,#ffd700,#ffce00,#ffb600,#ff9400,#ff7000,#ff5000,#ff3700,#ff1e00,#ff0700,#ff1300,#ff2100,#ff3000,#ff5000,#ff7700,#ff9e00,#ffbe00,#ffd600,#fff100,#f1ff0e,#daff25,#d8ff27,#d6ff29,#d5ff2a,#d4ff2b,#d4ff2b,#d3ff2c,#d2ff2d,#d1ff2e,#d1ff2e,#d0ff2f,#cfff30,#d1ff2e,#d2ff2d,#d4ff2b,#d5ff2a,#d7ff28,#d8ff27,#daff25,#dbff24,#ddff22,#deff21,#e0ff1f)"></i><i style="background:linear-gradient(90deg,#ffba00,#ffaf00,#ffa300,#ff9800,#ff8d00,#ff7100,#ff4900,#ff2200,#fd0000,#e10000,#c60000,#aa0000,#b70000,#c30000,#d00000,#f00000,#ff1900,#ff4100,#ff6200,#ff7a00,#ff9100,#ffa900,#ffc000,#ffc100,#ffc200,#ffc300,#ffc400,#ffc500,#ffc600,#ffc700,#ffc800,#ffc900,#ffca00,#ffcb00,#ffc900,#ffc700,#ffc500,#ffc300,#ffc100,#ffc000,#ffbe00,#ffbc00,#ffba00,#ffb800,#ffb700)"></i><i style="background:linear-gradient(90deg,#ffba00,#ffaf00,#ffa300,#ff9800,#ff8d00,#ff7100,#ff4900,#ff2200,#fd0000,#e10000,#c60000,#aa0000,#b70000,#c30000,#d00000,#f00000,#ff1900,#ff4100,#ff6200,#ff7a00,#ff9100,#ffa900,#ffc000,#ffc100,#ffc200,#ffc300,#ffc400,#ffc500,#ffc600,#ffc700,#ffc800,#ffc900,#ffca00,#ffcb00,#ffc900,#ffc700,#ffc500,#ffc300,#ffc100,#ffc000,#ffbe00,#ffbc00,#ffba00,#ffb800,#ffb700)"></i><i style="background:linear-gradient(90deg,#ffba00,#ffaf00,#ffa300,#ff9800,#ff8d00,#ff7100,#ff4900,#ff2200,#fd0000,#e10000,#c60000,#aa0000,#b70000,#c30000,#d00000,#f00000,#ff1900,#ff4100,#ff6200,#ff7a00,#ff9100,#ffa900,#ffc000,#ffc100,#ffc200,#ffc300,#ffc400,#ffc500,#ffc600,#ffc700,#ffc800,#ffc900,#ffca00,#ffcb00,#ffc900,#ffc700,#ffc500,#ffc300,#ffc100,#ffc000,#ffbe00,#ffbc00,#ffba00,#ffb800,#ffb700)"></i></div></div>
<div class="cb" style="left:424px;top:12px"></div>
<div class="h" style="left:498px;top:12px"><div><i style="background:linear-gradient(90deg,#0000cc,#0000d1,#0000d5,#0000da,#0000df,#0000e7,#0000fb,#004aff,#02fffd,#88ff77,#acff53,#b3ff4c,#b4ff4b,#b4ff4b,#b4ff4b,#b4ff4b,#b4ff4b,#b4ff4b,#b4ff4b,#b3ff4c,#adff52,#8fff70,#1fffe0,#0053ff,#0000d5,#0000b1,#0000aa,#0000a9,#0000ab,#0000b2,#0000ba,#0000c2,#0000cb,#0000d4,#0000dd,#0000e6,#0000f0,#0000fa,#0005ff,#000fff,#0019ff,#0023ff,#002eff,#0039ff,#0043ff)"></i><i style="background:linear-gradient(90deg,#0000cc,#0000d1,#0000d5,#0000da,#0000df,#0000e7,#0000fb,#004aff,#02fffd,#88ff77,#acff53,#b3ff4c,#b4ff4b,#b4ff4b,#b4ff4b,#b4ff4b,#b4ff4b,#b4ff4b,#b4ff4b,#b3ff4c,#adff52,#8fff70,#1fffe0,#0053ff,#0000d5,#0000b1,#0000aa,#0000a9,#0000ab,#0000b2,#0000ba,#0000c2,#0000cb,#0000d4,#0000dd,#0000e6,#0000f0,#0000fa,#0005ff,#000fff,#0019ff,#0023ff,#002eff,#0039ff,#0043ff)"></i><i style="background:linear-gradient(90deg,#0000cc,#0000d1,#0000d5,#0000da,#0000df,#0000e7,#0000fb,#004aff,#02fffd,#88ff77,#acff53,#b3ff4c,#b4ff4b,#b4ff4b,#b4ff4b,#b4ff4b,#b4ff4b,#b4ff4b,#b4ff4b,#b3ff4c,#adff52,#8fff70,#1fffe0,#0053ff,#0000d5,#0000b1,#0000aa,#0000a9,#0000ab,#0000b2,#0000ba,#0000c2,#0000cb,#0000d4,#0000dd,#0000e6,#0000f0,#0000fa,#0005ff,#000fff,#0019ff,#0023ff,#002eff,#0039ff,#0043ff)"></i><i style="background:linear-gradient(90deg,#0000cc,#0000d1,#0000d5,#0000da,#0000df,#0000e7,#0000fe,#0051ff,#06fff9,#8aff75,#afff50,#b6ff49,#b8ff47,#b8ff47,#b8ff47,#b8ff47,#b8ff47,#b8ff47,#b8ff47,#b6ff49,#b0ff4f,#93ff6c,#24ffdb,#0058ff,#0000d7,#0000b2,#0000aa,#0000a9,#0000ab,#0000b2,#0000ba,#0000c2,#0000cb,#0000d4,#0000de,#0000e7,#0000f1,#0000fb,#0006ff,#0010ff,#001aff,#0025ff,#0030ff,#003aff,#0045ff)"></i><i style="background:linear-gradient(90deg,#0000cc,#0000d1,#0000d5,#0000da,#0000e0,#0000e8,#0002ff,#0058ff,#0bfff4,#8bff74,#b2ff4d,#baff45,#bbff44,#bcff43,#bcff43,#bcff43,#bcff43,#bcff43,#bbff44,#baff45,#b4ff4b,#96ff69,#28ffd7,#005cff,#0000d9,#0000b3,#0000aa,#0000a9,#0000ab,#0000b2,#0000ba,#0000c3,#0000cc,#0000d5,#0000de,#0000e8,#0000f2,#0000fc,#0007ff,#0011ff,#001cff,#0026ff,#0031ff,#003cff,#0047ff)"></i><i style="background:linear-gradient(90deg,#0000cc,#0000d1,#0000d5,#0000da,#0000e0,#0000e9,#0006ff,#005fff,#10ffef,#8dff72,#b4ff4b,#bdff42,#bfff40,#bfff40,#bfff40,#bfff40,#bfff40,#bfff40,#bfff40,#beff41,#b7ff48,#9aff65,#2dffd2,#0061ff,#0000db,#0000b3,#0000aa,#0000a9,#0000ab,#0000b2,#0000ba,#0000c3,#0000cc,#0000d5,#0000df,#0000e9,#0000f3,#0000fd,#0008ff,#0013ff,#001dff,#0028ff,#0033ff,#003eff,#0049ff)"></i><i style="background:linear-gradient(90deg,#0000cc,#0000d1,#0000d5,#0000da,#0000e0,#0000ea,#0009ff,#0066ff,#14ffeb,#8fff70,#b7ff48,#c0ff3f,#c2ff3d,#c3ff3c,#c3ff3c,#c3ff3c,#c3ff3c,#c3ff3c,#c3ff3c,#c1ff3e,#bbff44,#9eff61,#31ffce,#0065ff,#0000dd,#0000b4,#0000ab,#0000a9,#0000ab,#0000b3,#0000bb,#0000c3,#0000cc,#0000d6,#0000e0,#0000e9,#0000f3,#0000fe,#0009ff,#0014ff,#001eff,#0029ff,#0034ff,#003fff,#004aff)"></i><i style="background:linear-gradient(90deg,#0000cc,#0000d1,#0000d5,#0000da,#0000e0,#0000ec,#000dff,#006dff,#19ffe6,#91ff6e,#baff45,#c4ff3b,#c6ff39,#c6ff39,#c7ff38,#c7ff38,#c7ff38,#c6ff39,#c6ff39,#c5ff3a,#bfff40,#a1ff5e,#36ffc9,#006aff,#0000df,#0000b4,#0000ab,#0000a9,#0000ab,#0000b3,#0000bb,#0000c4,#0000cd,#0000d6,#0000e0,#0000ea,#0000f4,#0000ff,#000aff,#0015ff,#0020ff,#002bff,#0036ff,#0041ff,#004cff)"></i><i style="background:linear-gradient(90deg,#0000cc,#0000d1,#0000d5,#0000da,#0000e1,#0000ed,#0011ff,#0074ff,#1dffe2,#93ff6c,#bcff43,#c7ff38,#c9ff36,#caff35,#caff35,#caff35,#caff35,#caff35,#caff35,#c9ff36,#c2ff3d,#a5ff5a,#3affc5,#006eff,#0000e1,#0000b5,#0000ab,#0000a9,#0000ab,#0000b3,#0000bb,#0000c4,#0000cd,#0000d7,#0000e1,#0000eb,#0000f5,#0001ff,#000bff,#0016ff,#0021ff,#002cff,#0037ff,#0043ff,#004eff)"></i><i style="background:linear-gradient(90deg,#0000cc,#0000d1,#0000d5,#0000db,#0000e1,#0000ef,#0015ff,#007bff,#21ffde,#95ff6a,#bfff40,#caff35,#cdff32,#ceff31,#ceff31,#ceff31,#ceff31,#ceff31,#cdff32,#ccff33,#c6ff39,#a8ff57,#3fffc0,#0073ff,#0000e3,#0000b6,#0000ab,#0000a9,#0000ab,#0000b3,#0000bb,#0000c4,#0000ce,#0000d7,#0000e1,#0000ec,#0000f6,#0002ff,#000cff,#0017ff,#0022ff,#002eff,#0039ff,#0044ff,#0050ff)"></i><i style="background:linear-gradient(90deg,#0000cc,#0000d1,#0000d5,#0000db,#0000e2,#0000f0,#001aff,#0082ff,#25ffda,#97ff68,#c2ff3d,#cdff32,#d0ff2f,#d1ff2e,#d1ff2e,#d1ff2e,#d1ff2e,#d1ff2e,#d1ff2e,#d0ff2f,#c9ff36,#acff53,#43ffbc,#0078ff,#0000e6,#0000b6,#0000ab,#0000a9,#0000ab,#0000b3,#0000bc,#0000c5,#0000ce,#0000d8,#0000e2,#0000ec,#0000f7,#0003ff,#000dff,#0019ff,#0024ff,#002fff,#003bff,#0046ff,#0052ff)"></i><i style="background:linear-gradient(90deg,#0000cc,#0000d1,#0000d6,#0000db,#0000e3,#0000f2,#001eff,#0088ff,#29ffd6,#99ff66,#c4ff3b,#d1ff2e,#d4ff2b,#d5ff2a,#d5ff2a,#d5ff2a,#d5ff2a,#d5ff2a,#d5ff2a,#d3ff2c,#cdff32,#b0ff4f,#47ffb8,#007cff,#0000e8,#0000b7,#0000ab,#0000a9,#0000ab,#0000b3,#0000bc,#0000c5,#0000cf,#0000d8,#0000e3,#0000ed,#0000f8,#0004ff,#000fff,#001aff,#0025ff,#0031ff,#003cff,#0048ff,#0054ff)"></i><i style="background:linear-gradient(90deg,#0000cc,#0000d1,#0000d6,#0000db,#0000e3,#0000f4,#0023ff,#008fff,#2dffd2,#9bff64,#c7ff38,#d4ff2b,#d7ff28,#d8ff27,#d9ff26,#d9ff26,#d9ff26,#d9ff26,#d8ff27,#d7ff28,#d0ff2f,#b3ff4c,#4cffb3,#0081ff,#0000ea,#0000b8,#0000ac,#0000a9,#0000ac,#0000b3,#0000bc,#0000c5,#0000cf,#0000d9,#0000e3,#0000ee,#0000f9,#0005ff,#0010ff,#001bff,#0026ff,#0032ff,#003eff,#0049ff,#0055ff)"></i><i style="background:linear-gradient(90deg,#0000cc,#0000d1,#0000d6,#0000db,#0000e4,#0000f6,#0027ff,#0095ff,#31ffce,#9dff62,#c9ff36,#d7ff28,#dbff24,#dcff23,#dcff23,#dcff23,#dcff23,#dcff23,#dcff23,#dbff24,#d4ff2b,#b7ff48,#50ffaf,#0086ff,#0000ed,#0000b9,#0000ac,#0000a9,#0000ac,#0000b3,#0000bc,#0000c6,#0000cf,#0000d9,#0000e4,#0000ef,#0000f9,#0005ff,#0011ff,#001cff,#0028ff,#0033ff,#003fff,#004bff,#0057ff)"></i><i style="background:linear-gradient(90deg,#0000cc,#0000d1,#0000d6,#0000dc,#0000e5,#0000f9,#002cff,#009cff,#35ffca,#9fff60,#ccff33,#daff25,#deff21,#e0ff1f,#e0ff1f,#e0ff1f,#e0ff1f,#e0ff1f,#e0ff1f,#deff21,#d7ff28,#bbff44,#54ffab,#008bff,#0000ef,#0000b9,#0000ac,#0000a9,#0000ac,#0000b3,#0000bc,#0000c6,#0000d0,#0000da,#0000e5,#0000ef,#0000fa,#0006ff,#0012ff,#001dff,#0029ff,#0035ff,#0041ff,#004dff,#0059ff)"></i><i style="background:linear-gradient(90deg,#0000cc,#0000d1,#0000d6,#0000dc,#0000e6,#0000fb,#0031ff,#00a2ff,#38ffc7,#a2ff5d,#ceff31,#ddff22,#e2ff1d,#e3ff1c,#e4ff1b,#e4ff1b,#e4ff1b,#e4ff1b,#e3ff1c,#e2ff1d,#dbff24,#beff41,#59ffa6,#008fff,#0000f2,#0000ba,#0000ac,#0000a9,#0000ac,#0000b4,#0000bd,#0000c6,#0000d0,#0000db,#0000e5,#0000f0,#0000fb,#0007ff,#0013ff,#001fff,#002aff,#0036ff,#0042ff,#004fff,#005bff)"></i><i style="background:linear-gradient(90deg,#0000cc,#0000d1,#0000d6,#0000dc,#0000e7,#0000fe,#0036ff,#00a9ff,#3dffc2,#a5ff5a,#d3ff2c,#e2ff1d,#e7ff18,#e8ff17,#e9ff16,#e9ff16,#e9ff16,#e8ff17,#e8ff17,#e6ff19,#dfff20,#c2ff3d,#5effa1,#0094ff,#0000f5,#0000bb,#0000ad,#0000a9,#0000ac,#0000b4,#0000bd,#0000c6,#0000d1,#0000db,#0000e6,#0000f1,#0000fc,#0008ff,#0014ff,#0020ff,#002cff,#0038ff,#0044ff,#0050ff,#005dff)"></i><i style="background:linear-gradient(90deg,#0000cc,#0000d1,#0000d6,#0000dd,#0000e8,#0001ff,#003cff,#00b0ff,#43ffbc,#aaff55,#d8ff27,#e9ff16,#eeff11,#f0ff0f,#f0ff0f,#efff10,#efff10,#eeff11,#edff12,#ecff13,#e4ff1b,#c7ff38,#63ff9c,#009aff,#0000f7,#0000bc,#0000ad,#0000a9,#0000ac,#0000b4,#0000bd,#0000c7,#0000d1,#0000dc,#0000e6,#0000f1,#0000fd,#0009ff,#0015ff,#0021ff,#002dff,#0039ff,#0046ff,#0052ff,#005fff)"></i><i style="background:linear-gradient(90deg,#0000cc,#0000d1,#0000d6,#0000dd,#0000e9,#0004ff,#0041ff,#00b7ff,#49ffb6,#b0ff4f,#deff21,#efff10,#f5ff0a,#f7ff08,#f7ff08,#f6ff09,#f5ff0a,#f4ff0b,#f3ff0c,#f1ff0e,#e9ff16,#ccff33,#68ff97,#009fff,#0000fa,#0000bd,#0000ad,#0000a9,#0000ac,#0000b4,#0000bd,#0000c7,#0000d1,#0000dc,#0000e7,#0000f2,#0000fe,#000aff,#0016ff,#0022ff,#002eff,#003bff,#0047ff,#0054ff,#0060ff)"></i><i style="background:linear-gradient(90deg,#0000cc,#0000d1,#0000d7,#0000de,#0000eb,#0008ff,#0048ff,#00bfff,#4effb1,#b4ff4b,#e4ff1b,#f6ff09,#fcff03,#feff01,#feff01,#fdff02,#fbff04,#faff05,#f9ff06,#f6ff09,#eeff11,#d1ff2e,#6eff91,#00a5ff,#0000fd,#0000be,#0000ad,#0000a9,#0000ac,#0000b4,#0000bd,#0000c7,#0000d2,#0000dd,#0000e8,#0000f3,#0000ff,#000bff,#0017ff,#0023ff,#0030ff,#003cff,#0049ff,#0055ff,#0062ff)"></i><i style="background:linear-gradient(90deg,#0000cc,#0000d1,#0000d7,#0000df,#0000ed,#000dff,#0050ff,#00c6ff,#53ffac,#b7ff48,#e8ff17,#fcff03,#fffb00,#fff900,#fffa00,#fffb00,#fffc00,#fffe00,#feff01,#fbff04,#f4ff0b,#d6ff29,#73ff8c,#00aaff,#0001ff,#0000bf,#0000ae,#0000aa,#0000ac,#0000b4,#0000be,#0000c8,#0000d2,#0000dd,#0000e8,#0000f4,#0000ff,#000cff,#0018ff,#0025ff,#0031ff,#003eff,#004aff,#0057ff,#0064ff)"></i><i style="background:linear-gradient(90deg,#0000cc,#0000d1,#0000d8,#0000e0,#0000f0,#0012ff,#0057ff,#00ceff,#58ffa7,#bbff44,#edff12,#fffc00,#fff500,#fff300,#fff300,#fff400,#fff600,#fff800,#fffa00,#fffd00,#f9ff06,#dbff24,#78ff87,#00afff,#0004ff,#0000c0,#0000ae,#0000aa,#0000ac,#0000b4,#0000be,#0000c8,#0000d3,#0000de,#0000e9,#0000f4,#0001ff,#000dff,#0019ff,#0026ff,#0032ff,#003fff,#004cff,#0059ff,#0066ff)"></i><i style="background:linear-gradient(90deg,#0000cc,#0000d2,#0000d8,#0000e2,#0000f3,#0017ff,#0060ff,#00d8ff,#60ff9f,#c4ff3b,#f8ff07,#fff000,#ffe800,#ffe500,#ffe600,#ffe900,#ffec00,#ffef00,#fff300,#fff700,#feff01,#e0ff1f,#7eff81,#00b5ff,#0008ff,#0000c1,#0000ae,#0000aa,#0000ac,#0000b4,#0000be,#0000c8,#0000d3,#0000de,#0000ea,#0000f5,#0002ff,#000eff,#001aff,#0027ff,#0034ff,#0040ff,#004dff,#005aff,#0068ff)"></i><i style="background:linear-gradient(90deg,#0000cd,#0000d2,#0000d9,#0000e3,#0000f6,#001dff,#0069ff,#00e2ff,#6aff95,#ceff31,#fffb00,#ffe300,#ffda00,#ffd800,#ffd900,#ffdd00,#ffe100,#ffe600,#ffeb00,#fff000,#fffa00,#e6ff19,#83ff7c,#00bbff,#000bff,#0000c2,#0000af,#0000aa,#0000ac,#0000b5,#0000be,#0000c9,#0000d3,#0000df,#0000ea,#0000f6,#0003ff,#000fff,#001cff,#0028ff,#0035ff,#0042ff,#004fff,#005cff,#0069ff)"></i><i style="background:linear-gradient(90deg,#0000cd,#0000d2,#0000da,#0000e5,#0000f9,#0023ff,#0072ff,#00ecff,#73ff8c,#d7ff28,#fff000,#ffd700,#ffcc00,#ffca00,#ffcc00,#ffd100,#ffd700,#ffdd00,#ffe300,#ffe900,#fff300,#ecff13,#89ff76,#00c1ff,#000eff,#0000c4,#0000af,#0000aa,#0000ac,#0000b5,#0000be,#0000c9,#0000d4,#0000df,#0000eb,#0000f7,#0004ff,#0010ff,#001dff,#0029ff,#0036ff,#0043ff,#0050ff,#005eff,#006bff)"></i><i style="background:linear-gradient(90deg,#0000cd,#0000d3,#0000da,#0000e6,#0000fd,#002aff,#007cff,#00f7ff,#7dff82,#e1ff1e,#ffe500,#ffca00,#ffbf00,#ffbc00,#ffbe00,#ffc300,#ffc900,#ffcf00,#ffd500,#ffdc00,#ffe600,#f8ff07,#95ff6a,#00caff,#0013ff,#0000c5,#0000af,#0000aa,#0000ac,#0000b5,#0000bf,#0000c9,#0000d4,#0000e0,#0000eb,#0000f7,#0005ff,#0011ff,#001eff,#002bff,#0038ff,#0045ff,#0052ff,#0060ff,#006dff)"></i><i style="background:linear-gradient(90deg,#0000cd,#0000d3,#0000db,#0000e9,#0002ff,#0030ff,#0085ff,#02fffd,#86ff79,#ebff14,#ffda00,#ffbd00,#ffb100,#ffae00,#ffb000,#ffb500,#ffbb00,#ffc200,#ffc800,#ffcf00,#ffda00,#fffa00,#a0ff5f,#00d3ff,#0018ff,#0000c7,#0000b0,#0000aa,#0000ac,#0000b5,#0000bf,#0000ca,#0000d5,#0000e0,#0000ec,#0000f8,#0005ff,#0012ff,#001fff,#002cff,#0039ff,#0046ff,#0054ff,#0061ff,#006fff)"></i><i style="background:linear-gradient(90deg,#0000cd,#0000d4,#0000dd,#0000eb,#0006ff,#0038ff,#008fff,#0dfff2,#91ff6e,#f6ff09,#ffcc00,#ffaf00,#ffa200,#ff9e00,#ffa000,#ffa500,#ffac00,#ffb300,#ffba00,#ffc100,#ffcd00,#ffed00,#acff53,#00dcff,#001dff,#0000c9,#0000b0,#0000aa,#0000ac,#0000b5,#0000bf,#0000ca,#0000d5,#0000e1,#0000ed,#0000f9,#0006ff,#0013ff,#0020ff,#002dff,#003aff,#0048ff,#0055ff,#0063ff,#0071ff)"></i><i style="background:linear-gradient(90deg,#0000ce,#0000d4,#0000de,#0000ed,#000bff,#0040ff,#009bff,#1affe5,#9fff60,#fff800,#ffbb00,#ff9c00,#ff8d00,#ff8900,#ff8c00,#ff9200,#ff9a00,#ffa300,#ffab00,#ffb300,#ffbf00,#ffe000,#b8ff47,#00e6ff,#0022ff,#0000ca,#0000b1,#0000aa,#0000ac,#0000b5,#0000bf,#0000ca,#0000d5,#0000e1,#0000ed,#0000fa,#0007ff,#0014ff,#0021ff,#002eff,#003cff,#0049ff,#0057ff,#0065ff,#0073ff)"></i><i style="background:linear-gradient(90deg,#0000ce,#0000d5,#0000df,#0000f0,#0010ff,#0048ff,#00a6ff,#28ffd7,#adff52,#ffe900,#ffaa00,#ff8800,#ff7900,#ff7400,#ff7700,#ff7f00,#ff8800,#ff9200,#ff9b00,#ffa400,#ffb100,#ffd400,#c3ff3c,#00f0ff,#0027ff,#0000cc,#0000b2,#0000ab,#0000ad,#0000b5,#0000c0,#0000ca,#0000d6,#0000e2,#0000ee,#0000fa,#0008ff,#0015ff,#0022ff,#002fff,#003dff,#004bff,#0058ff,#0066ff,#0074ff)"></i><i style="background:linear-gradient(90deg,#0000ce,#0000d6,#0000e1,#0000f3,#0015ff,#0050ff,#00b1ff,#34ffcb,#baff45,#ffdc00,#ff9b00,#ff7800,#ff6700,#ff6200,#ff6500,#ff6e00,#ff7700,#ff8200,#ff8c00,#ff9600,#ffa400,#ffc700,#cfff30,#00f9ff,#002dff,#0000ce,#0000b2,#0000ab,#0000ad,#0000b5,#0000c0,#0000cb,#0000d6,#0000e2,#0000ee,#0000fb,#0009ff,#0016ff,#0023ff,#0031ff,#003eff,#004cff,#005aff,#0068ff,#0076ff)"></i><i style="background:linear-gradient(90deg,#0000cf,#0000d7,#0000e3,#0000f6,#001bff,#0058ff,#00bcff,#3fffc0,#c4ff3b,#ffd100,#ff8e00,#ff6a00,#ff5800,#ff5300,#ff5600,#ff5e00,#ff6800,#ff7400,#ff7f00,#ff8900,#ff9700,#ffbb00,#dbff24,#04fffb,#0032ff,#0000d0,#0000b3,#0000ab,#0000ad,#0000b6,#0000c0,#0000cb,#0000d7,#0000e3,#0000ef,#0000fc,#000aff,#0017ff,#0024ff,#0032ff,#0040ff,#004dff,#005bff,#006aff,#0078ff)"></i><i style="background:linear-gradient(90deg,#0000cf,#0000d8,#0000e5,#0000fa,#0020ff,#0061ff,#00c6ff,#4affb5,#cfff30,#ffc600,#ff8200,#ff5c00,#ff4900,#ff4300,#ff4700,#ff4f00,#ff5a00,#ff6600,#ff7100,#ff7b00,#ff8a00,#ffae00,#e7ff18,#0efff1,#0038ff,#0000d2,#0000b3,#0000ab,#0000ad,#0000b6,#0000c0,#0000cb,#0000d7,#0000e3,#0000f0,#0000fd,#000bff,#0018ff,#0025ff,#0033ff,#0041ff,#004fff,#005dff,#006bff,#007aff)"></i><i style="background:linear-gradient(90deg,#0000d0,#0000d9,#0000e7,#0000fd,#0026ff,#0069ff,#00d1ff,#55ffaa,#daff25,#ffbb00,#ff7600,#ff4f00,#ff3b00,#ff3400,#ff3700,#ff4000,#ff4b00,#ff5700,#ff6300,#ff6e00,#ff7d00,#ffa200,#f2ff0d,#18ffe7,#003dff,#0000d5,#0000b4,#0000ab,#0000ad,#0000b6,#0000c0,#0000cc,#0000d8,#0000e4,#0000f0,#0000fd,#000bff,#0019ff,#0026ff,#0034ff,#0042ff,#0050ff,#005fff,#006dff,#007cff)"></i><i style="background:linear-gradient(90deg,#0000d1,#0000da,#0000e9,#0002ff,#002cff,#0072ff,#00dbff,#60ff9f,#e5ff1a,#ffb000,#ff6a00,#ff4100,#ff2c00,#ff2500,#ff2800,#ff3100,#ff3c00,#ff4900,#ff5500,#ff6100,#ff7000,#ff9500,#feff01,#22ffdd,#0043ff,#0000d7,#0000b5,#0000ac,#0000ad,#0000b6,#0000c1,#0000cc,#0000d8,#0000e4,#0000f1,#0000fe,#000cff,#001aff,#0027ff,#0035ff,#0043ff,#0052ff,#0060ff,#006fff,#007dff)"></i><i style="background:linear-gradient(90deg,#0000d2,#0000dc,#0000eb,#0006ff,#0032ff,#007bff,#00e6ff,#6bff94,#efff10,#ffa500,#ff5e00,#ff3400,#ff1e00,#ff1600,#ff1900,#ff2200,#ff2d00,#ff3b00,#ff4700,#ff5300,#ff6300,#ff8900,#fff400,#2cffd3,#0049ff,#0000d9,#0000b5,#0000ac,#0000ad,#0000b6,#0000c1,#0000cc,#0000d8,#0000e5,#0000f2,#0000ff,#000dff,#001bff,#0029ff,#0037ff,#0045ff,#0053ff,#0062ff,#0070ff,#007fff)"></i><i style="background:linear-gradient(90deg,#0000d2,#0000dd,#0000ed,#0009ff,#0037ff,#0081ff,#00eeff,#75ff8a,#faff05,#ff9900,#ff5100,#ff2700,#ff1000,#ff0800,#ff0b00,#ff1500,#ff2000,#ff2f00,#ff3c00,#ff4800,#ff5900,#ff7f00,#ffeb00,#35ffca,#004fff,#0000db,#0000b6,#0000ac,#0000ad,#0000b6,#0000c1,#0000cd,#0000d9,#0000e5,#0000f2,#0000ff,#000eff,#001cff,#002aff,#0038ff,#0046ff,#0055ff,#0063ff,#0072ff,#0081ff)"></i><i style="background:linear-gradient(90deg,#0000d3,#0000de,#0000ef,#000cff,#003bff,#0088ff,#00f7ff,#7fff80,#fff900,#ff8d00,#ff4500,#ff1a00,#ff0200,#f90000,#fc0000,#ff0800,#ff1400,#ff2300,#ff3100,#ff3e00,#ff4f00,#ff7500,#ffe100,#3effc1,#0054ff,#0000de,#0000b7,#0000ac,#0000ad,#0000b6,#0000c1,#0000cd,#0000d9,#0000e6,#0000f3,#0001ff,#000fff,#001dff,#002bff,#0039ff,#0047ff,#0056ff,#0065ff,#0074ff,#0083ff)"></i><i style="background:linear-gradient(90deg,#0000d3,#0000df,#0000f0,#000fff,#0040ff,#008eff,#01fffe,#8aff75,#ffee00,#ff8200,#ff3800,#ff0c00,#f40000,#eb0000,#ef0000,#f90000,#ff0700,#ff1700,#ff2600,#ff3300,#ff4500,#ff6c00,#ffd800,#47ffb8,#005aff,#0000e0,#0000b8,#0000ac,#0000ad,#0000b7,#0000c1,#0000cd,#0000da,#0000e6,#0000f3,#0002ff,#0010ff,#001eff,#002cff,#003aff,#0049ff,#0058ff,#0066ff,#0076ff,#0085ff)"></i><i style="background:linear-gradient(90deg,#0000d4,#0000e0,#0000f2,#0012ff,#0044ff,#0095ff,#09fff6,#94ff6b,#ffe300,#ff7600,#ff2c00,#fe0000,#e60000,#dd0000,#e10000,#ec0000,#fa0000,#ff0b00,#ff1a00,#ff2900,#ff3b00,#ff6200,#ffce00,#50ffaf,#0060ff,#0000e2,#0000b9,#0000ad,#0000ad,#0000b7,#0000c2,#0000ce,#0000da,#0000e7,#0000f4,#0003ff,#0011ff,#001fff,#002dff,#003bff,#004aff,#0059ff,#0068ff,#0077ff,#0087ff)"></i><i style="background:linear-gradient(90deg,#0000d4,#0000e1,#0000f4,#0015ff,#0049ff,#009cff,#12ffed,#9eff61,#ffd800,#ff6a00,#ff1f00,#f10000,#d80000,#d00000,#d30000,#df0000,#ed0000,#fe0000,#ff0f00,#ff1e00,#ff3000,#ff5800,#ffc500,#58ffa7,#0066ff,#0000e5,#0000b9,#0000ad,#0000ae,#0000b7,#0000c2,#0000ce,#0000da,#0000e7,#0000f5,#0003ff,#0011ff,#0020ff,#002eff,#003dff,#004bff,#005aff,#006aff,#0079ff,#0088ff)"></i><i style="background:linear-gradient(90deg,#0000d5,#0000e2,#0000f6,#0018ff,#004eff,#00a2ff,#1affe5,#a7ff58,#ffcf00,#ff6100,#ff1600,#e70000,#ce0000,#c50000,#c80000,#d40000,#e20000,#f40000,#ff0500,#ff1400,#ff2700,#ff4f00,#ffbc00,#61ff9e,#006cff,#0000e7,#0000ba,#0000ad,#0000ae,#0000b7,#0000c2,#0000ce,#0000db,#0000e8,#0000f5,#0004ff,#0012ff,#0021ff,#002fff,#003eff,#004dff,#005cff,#006bff,#007bff,#008aff)"></i><i style="background:linear-gradient(90deg,#0000d5,#0000e3,#0000f7,#001aff,#0052ff,#00a8ff,#20ffdf,#adff52,#ffca00,#ff5c00,#ff1200,#e30000,#c90000,#c00000,#c30000,#ce0000,#db0000,#ec0000,#fc0000,#ff0b00,#ff1e00,#ff4600,#ffb200,#6aff95,#0072ff,#0000ea,#0000bb,#0000ad,#0000ae,#0000b7,#0000c2,#0000ce,#0000db,#0000e8,#0000f6,#0005ff,#0013ff,#0021ff,#0030ff,#003fff,#004eff,#005dff,#006dff,#007cff,#008cff)"></i><i style="background:linear-gradient(90deg,#0000d6,#0000e4,#0000f9,#001dff,#0056ff,#00adff,#26ffd9,#b2ff4d,#ffc500,#ff5800,#ff0e00,#df0000,#c50000,#bb0000,#be0000,#c80000,#d40000,#e50000,#f40000,#ff0300,#ff1500,#ff3d00,#ffa900,#73ff8c,#0078ff,#0000ed,#0000bc,#0000ae,#0000ae,#0000b7,#0000c3,#0000cf,#0000dc,#0000e9,#0000f7,#0006ff,#0014ff,#0022ff,#0031ff,#0040ff,#004fff,#005fff,#006eff,#007eff,#008eff)"></i><i style="background:linear-gradient(90deg,#0000d7,#0000e5,#0000fb,#001fff,#0059ff,#00b1ff,#2bffd4,#b7ff48,#ffc100,#ff5500,#ff0a00,#db0000,#c10000,#b70000,#b90000,#c30000,#ce0000,#de0000,#ec0000,#fa0000,#ff0d00,#ff3500,#ffa200,#79ff86,#007bff,#0000ee,#0000bd,#0000ae,#0000ae,#0000b7,#0000c3,#0000cf,#0000dc,#0000e9,#0000f7,#0006ff,#0015ff,#0023ff,#0032ff,#0041ff,#0051ff,#0060ff,#0070ff,#0080ff,#0090ff)"></i><i style="background:linear-gradient(90deg,#0000d7,#0000e6,#0000fc,#0021ff,#005cff,#00b4ff,#2effd1,#b9ff46,#ffbf00,#ff5300,#ff0800,#d80000,#bd0000,#b30000,#b40000,#be0000,#c80000,#d80000,#e60000,#f30000,#ff0600,#ff2f00,#ff9d00,#7cff83,#007cff,#0000ef,#0000bd,#0000ae,#0000ae,#0000b7,#0000c3,#0000cf,#0000dc,#0000ea,#0000f8,#0007ff,#0015ff,#0024ff,#0033ff,#0042ff,#0052ff,#0061ff,#0071ff,#0081ff,#0091ff)"></i><i style="background:linear-gradient(90deg,#0000d8,#0000e6,#0000fd,#0023ff,#005eff,#00b7ff,#31ffce,#bcff43,#ffbd00,#ff5100,#ff0500,#d50000,#ba0000,#ae0000,#af0000,#b80000,#c20000,#d10000,#df0000,#ec0000,#fe0000,#ff2800,#ff9800,#7fff80,#007dff,#0000ef,#0000bd,#0000ae,#0000ae,#0000b8,#0000c3,#0000d0,#0000dd,#0000ea,#0000f8,#0007ff,#0016ff,#0025ff,#0034ff,#0043ff,#0053ff,#0062ff,#0072ff,#0082ff,#0092ff)"></i><i style="background:linear-gradient(90deg,#0000d8,#0000e7,#0000ff,#0025ff,#0061ff,#00baff,#34ffcb,#beff41,#ffbb00,#ff4f00,#ff0300,#d20000,#b60000,#aa0000,#ab0000,#b30000,#bc0000,#cb0000,#d90000,#e60000,#f70000,#ff2200,#ff9200,#82ff7d,#007eff,#0000ef,#0000bd,#0000ae,#0000ae,#0000b8,#0000c3,#0000d0,#0000dd,#0000eb,#0000f9,#0008ff,#0017ff,#0026ff,#0035ff,#0044ff,#0054ff,#0064ff,#0074ff,#0084ff,#0094ff)"></i><i style="background:linear-gradient(90deg,#0000d9,#0000e8,#0001ff,#0027ff,#0063ff,#00bdff,#37ffc8,#c0ff3f,#ffb900,#ff4d00,#ff0000,#cf0000,#b20000,#a60000,#a60000,#ae0000,#b70000,#c50000,#d20000,#df0000,#f10000,#ff1b00,#ff8d00,#85ff7a,#007fff,#0000ef,#0000bd,#0000ae,#0000ae,#0000b8,#0000c3,#0000d0,#0000dd,#0000eb,#0000f9,#0009ff,#0017ff,#0026ff,#0036ff,#0045ff,#0055ff,#0065ff,#0075ff,#0085ff,#0095ff)"></i><i style="background:linear-gradient(90deg,#0000d9,#0000e9,#0002ff,#0029ff,#0066ff,#00c0ff,#3affc5,#c3ff3c,#ffb700,#ff4a00,#fc0000,#cb0000,#af0000,#a20000,#a10000,#a90000,#b10000,#bf0000,#cb0000,#d80000,#ea0000,#ff1500,#ff8800,#87ff78,#0080ff,#0000f0,#0000bd,#0000ae,#0000ae,#0000b8,#0000c4,#0000d0,#0000de,#0000eb,#0000fa,#0009ff,#0018ff,#0027ff,#0037ff,#0046ff,#0056ff,#0066ff,#0076ff,#0086ff,#0097ff)"></i><i style="background:linear-gradient(90deg,#0000da,#0000ea,#0004ff,#002bff,#0068ff,#00c2ff,#3affc5,#c3ff3c,#ffb800,#ff4c00,#fe0000,#cd0000,#b00000,#a30000,#a20000,#a90000,#b10000,#bf0000,#cc0000,#d80000,#ea0000,#ff1500,#ff8900,#86ff79,#007fff,#0000ef,#0000bd,#0000ae,#0000ae,#0000b8,#0000c4,#0000d1,#0000de,#0000ec,#0000fa,#000aff,#0019ff,#0028ff,#0037ff,#0047ff,#0057ff,#0067ff,#0077ff,#0088ff,#0098ff)"></i><i style="background:linear-gradient(90deg,#0000da,#0000eb,#0005ff,#002cff,#0069ff,#00c3ff,#3bffc4,#c2ff3d,#ffba00,#ff4e00,#ff0200,#cf0000,#b10000,#a40000,#a30000,#aa0000,#b20000,#c00000,#cd0000,#da0000,#eb0000,#ff1700,#ff8b00,#84ff7b,#007eff,#0000ef,#0000bd,#0000ae,#0000ae,#0000b8,#0000c4,#0000d1,#0000de,#0000ec,#0000fb,#000aff,#0019ff,#0029ff,#0038ff,#0048ff,#0058ff,#0068ff,#0079ff,#0089ff,#009aff)"></i><i style="background:linear-gradient(90deg,#0000db,#0000eb,#0006ff,#002eff,#006bff,#00c5ff,#3cffc3,#c2ff3d,#ffbb00,#ff5100,#ff0400,#d10000,#b30000,#a50000,#a40000,#ab0000,#b30000,#c10000,#ce0000,#db0000,#ed0000,#ff1800,#ff8c00,#83ff7c,#007dff,#0000ee,#0000bd,#0000ae,#0000ae,#0000b8,#0000c4,#0000d1,#0000df,#0000ed,#0000fb,#000bff,#001aff,#0029ff,#0039ff,#0049ff,#0059ff,#0069ff,#007aff,#008aff,#009bff)"></i><i style="background:linear-gradient(90deg,#0000db,#0000ec,#0007ff,#002fff,#006dff,#00c6ff,#3cffc3,#c1ff3e,#ffbd00,#ff5300,#ff0600,#d30000,#b40000,#a70000,#a50000,#ac0000,#b40000,#c20000,#cf0000,#dc0000,#ee0000,#ff1900,#ff8e00,#81ff7e,#007cff,#0000ee,#0000bc,#0000ae,#0000ae,#0000b8,#0000c4,#0000d1,#0000df,#0000ed,#0000fc,#000cff,#001bff,#002aff,#003aff,#004aff,#005aff,#006aff,#007bff,#008cff,#009dff)"></i><i style="background:linear-gradient(90deg,#0000dc,#0000ed,#0008ff,#0030ff,#006eff,#00c7ff,#3dffc2,#c0ff3f,#ffbf00,#ff5500,#ff0800,#d50000,#b60000,#a80000,#a60000,#ad0000,#b40000,#c30000,#d00000,#dd0000,#ef0000,#ff1b00,#ff9000,#7fff80,#007bff,#0000ee,#0000bc,#0000ae,#0000ae,#0000b8,#0000c4,#0000d1,#0000df,#0000ee,#0000fc,#000cff,#001bff,#002bff,#003bff,#004bff,#005bff,#006cff,#007cff,#008dff,#009eff)"></i><i style="background:linear-gradient(90deg,#0000dd,#0000ee,#0009ff,#0032ff,#0070ff,#00c9ff,#3effc1,#c0ff3f,#ffc000,#ff5700,#ff0a00,#d70000,#b80000,#a90000,#a80000,#ae0000,#b50000,#c40000,#d10000,#de0000,#f00000,#ff1c00,#ff9100,#7dff82,#007aff,#0000ed,#0000bc,#0000ae,#0000ae,#0000b8,#0000c5,#0000d2,#0000e0,#0000ee,#0000fd,#000dff,#001cff,#002cff,#003cff,#004cff,#005cff,#006dff,#007eff,#008eff,#00a0ff)"></i><i style="background:linear-gradient(90deg,#0000dd,#0000ef,#000aff,#0033ff,#0071ff,#00caff,#3effc1,#bfff40,#ffc200,#ff5900,#ff0d00,#d90000,#b90000,#aa0000,#a90000,#af0000,#b60000,#c50000,#d20000,#df0000,#f10000,#ff1d00,#ff9300,#7cff83,#0079ff,#0000ed,#0000bc,#0000ae,#0000ae,#0000b8,#0000c5,#0000d2,#0000e0,#0000ee,#0000fd,#000dff,#001dff,#002dff,#003dff,#004dff,#005dff,#006eff,#007fff,#0090ff,#00a1ff)"></i><i style="background:linear-gradient(90deg,#0000de,#0000ef,#000bff,#0035ff,#0073ff,#00cbff,#3fffc0,#bfff40,#ffc400,#ff5c00,#ff0f00,#db0000,#bb0000,#ac0000,#aa0000,#b00000,#b70000,#c60000,#d30000,#e00000,#f30000,#ff1f00,#ff9400,#7aff85,#0078ff,#0000ec,#0000bc,#0000ae,#0000ae,#0000b9,#0000c5,#0000d2,#0000e0,#0000ef,#0000fe,#000eff,#001eff,#002dff,#003dff,#004eff,#005eff,#006fff,#0080ff,#0091ff,#00a2ff)"></i><i style="background:linear-gradient(90deg,#0000de,#0000ef,#000bff,#0034ff,#0072ff,#00caff,#3dffc2,#bcff43,#ffc600,#ff5f00,#ff1300,#df0000,#bf0000,#b00000,#ae0000,#b50000,#bc0000,#ca0000,#d80000,#e50000,#f80000,#ff2400,#ff9900,#76ff89,#0076ff,#0000ec,#0000bc,#0000ae,#0000ae,#0000b9,#0000c5,#0000d2,#0000e0,#0000ef,#0000fe,#000eff,#001eff,#002eff,#003eff,#004eff,#005fff,#0070ff,#0081ff,#0092ff,#00a3ff)"></i><i style="background:linear-gradient(90deg,#0000dd,#0000ee,#0009ff,#0032ff,#006fff,#00c7ff,#39ffc6,#b8ff47,#ffcb00,#ff6400,#ff1800,#e50000,#c60000,#b70000,#b60000,#bd0000,#c40000,#d30000,#e10000,#ee0000,#ff0200,#ff2d00,#ffa100,#70ff8f,#0073ff,#0000eb,#0000bb,#0000ae,#0000ae,#0000b9,#0000c5,#0000d2,#0000e0,#0000ef,#0000fe,#000eff,#001eff,#002eff,#003eff,#004eff,#005fff,#0070ff,#0081ff,#0092ff,#00a3ff)"></i><i style="background:linear-gradient(90deg,#0000dc,#0000ed,#0008ff,#0030ff,#006cff,#00c3ff,#35ffca,#b4ff4b,#ffcf00,#ff6900,#ff1e00,#eb0000,#cd0000,#bf0000,#be0000,#c50000,#cd0000,#dc0000,#ea0000,#f70000,#ff0b00,#ff3500,#ffa900,#6aff95,#0070ff,#0000ea,#0000bb,#0000ae,#0000ae,#0000b9,#0000c5,#0000d2,#0000e0,#0000ef,#0000fe,#000eff,#001eff,#002eff,#003eff,#004eff,#005fff,#0070ff,#0081ff,#0092ff,#00a3ff)"></i><i style="background:linear-gradient(90deg,#0000db,#0000ec,#0006ff,#002eff,#0069ff,#00c0ff,#31ffce,#b0ff4f,#ffd400,#ff6e00,#ff2300,#f10000,#d40000,#c60000,#c60000,#cd0000,#d50000,#e50000,#f20000,#ff0100,#ff1300,#ff3e00,#ffb100,#64ff9b,#006dff,#0000e9,#0000bb,#0000ad,#0000ae,#0000b9,#0000c5,#0000d2,#0000e0,#0000ef,#0000fe,#000eff,#001eff,#002eff,#003eff,#004eff,#005fff,#0070ff,#0081ff,#0092ff,#00a3ff)"></i><i style="background:linear-gradient(90deg,#0000db,#0000eb,#0005ff,#002bff,#0067ff,#00bcff,#2dffd2,#acff53,#ffd800,#ff7300,#ff2900,#f80000,#db0000,#ce0000,#cd0000,#d50000,#de0000,#ed0000,#fb0000,#ff0a00,#ff1c00,#ff4700,#ffb900,#5effa1,#006aff,#0000e8,#0000bb,#0000ad,#0000ae,#0000b9,#0000c5,#0000d2,#0000e0,#0000ef,#0000fe,#000eff,#001eff,#002eff,#003eff,#004eff,#005fff,#0070ff,#0081ff,#0092ff,#00a3ff)"></i><i style="background:linear-gradient(90deg,#0000da,#0000ea,#0003ff,#0029ff,#0064ff,#00b9ff,#29ffd6,#a7ff58,#ffdd00,#ff7800,#ff2f00,#fe0000,#e20000,#d50000,#d50000,#dd0000,#e70000,#f60000,#ff0500,#ff1300,#ff2500,#ff5000,#ffc100,#59ffa6,#0067ff,#0000e7,#0000ba,#0000ad,#0000ae,#0000b9,#0000c5,#0000d2,#0000e0,#0000ef,#0000fe,#000eff,#001eff,#002eff,#003eff,#004eff,#005fff,#0070ff,#0081ff,#0092ff,#00a3ff)"></i><i style="background:linear-gradient(90deg,#0000d9,#0000e9,#0001ff,#0026ff,#005fff,#00b2ff,#22ffdd,#9fff60,#ffe600,#ff8200,#ff3900,#ff0a00,#ed0000,#e10000,#e10000,#e90000,#f30000,#ff0300,#ff1000,#ff1e00,#ff3000,#ff5a00,#ffcb00,#52ffad,#0064ff,#0000e5,#0000ba,#0000ad,#0000ae,#0000b9,#0000c5,#0000d2,#0000e0,#0000ef,#0000fe,#000eff,#001eff,#002eff,#003eff,#004eff,#005fff,#0070ff,#0081ff,#0092ff,#00a3ff)"></i><i style="background:linear-gradient(90deg,#0000d9,#0000e8,#0000fe,#0023ff,#005aff,#00acff,#1affe5,#96ff69,#fff000,#ff8c00,#ff4400,#ff1600,#fa0000,#ee0000,#ee0000,#f60000,#ff0000,#ff0f00,#ff1c00,#ff2900,#ff3b00,#ff6500,#ffd400,#4bffb4,#0061ff,#0000e4,#0000ba,#0000ad,#0000ae,#0000b9,#0000c5,#0000d2,#0000e0,#0000ef,#0000fe,#000eff,#001eff,#002eff,#003eff,#004eff,#005fff,#0070ff,#0081ff,#0092ff,#00a3ff)"></i><i style="background:linear-gradient(90deg,#0000d8,#0000e6,#0000fc,#0020ff,#0056ff,#00a6ff,#12ffed,#8dff72,#fffa00,#ff9700,#ff5000,#ff2200,#ff0700,#fa0000,#fa0000,#ff0300,#ff0c00,#ff1b00,#ff2800,#ff3500,#ff4600,#ff6f00,#ffdd00,#44ffbb,#005dff,#0000e3,#0000b9,#0000ad,#0000ae,#0000b9,#0000c5,#0000d2,#0000e0,#0000ef,#0000fe,#000eff,#001eff,#002eff,#003eff,#004eff,#005fff,#0070ff,#0081ff,#0092ff,#00a3ff)"></i><i style="background:linear-gradient(90deg,#0000d7,#0000e5,#0000fa,#001dff,#0051ff,#009fff,#0afff5,#84ff7b,#faff05,#ffa100,#ff5b00,#ff2e00,#ff1300,#ff0800,#ff0800,#ff1000,#ff1900,#ff2700,#ff3300,#ff4000,#ff5100,#ff7a00,#ffe700,#3effc1,#005aff,#0000e2,#0000b9,#0000ad,#0000ae,#0000b8,#0000c5,#0000d2,#0000e0,#0000ef,#0000fe,#000eff,#001eff,#002eff,#003eff,#004eff,#005fff,#0070ff,#0081ff,#0092ff,#00a3ff)"></i><i style="background:linear-gradient(90deg,#0000d7,#0000e4,#0000f8,#001aff,#004dff,#0099ff,#02fffd,#7bff84,#f0ff0f,#ffac00,#ff6600,#ff3a00,#ff2000,#ff1400,#ff1500,#ff1c00,#ff2500,#ff3200,#ff3f00,#ff4b00,#ff5d00,#ff8500,#fff000,#37ffc8,#0057ff,#0000e1,#0000b9,#0000ad,#0000ae,#0000b8,#0000c5,#0000d2,#0000e0,#0000ef,#0000fe,#000eff,#001eff,#002eff,#003eff,#004eff,#005fff,#0070ff,#0081ff,#0092ff,#00a3ff)"></i><i style="background:linear-gradient(90deg,#0000d6,#0000e3,#0000f7,#0017ff,#0049ff,#0093ff,#00f9ff,#72ff8d,#e7ff18,#ffb600,#ff7100,#ff4500,#ff2c00,#ff2100,#ff2100,#ff2900,#ff3100,#ff3e00,#ff4b00,#ff5700,#ff6800,#ff8f00,#fffa00,#30ffcf,#0054ff,#0000e0,#0000b8,#0000ad,#0000ae,#0000b8,#0000c5,#0000d2,#0000e0,#0000ef,#0000fe,#000eff,#001eff,#002eff,#003eff,#004eff,#005fff,#0070ff,#0081ff,#0092ff,#00a3ff)"></i><i style="background:linear-gradient(90deg,#0000d5,#0000e2,#0000f5,#0014ff,#0044ff,#008dff,#00f2ff,#69ff96,#ddff22,#ffc100,#ff7d00,#ff5100,#ff3800,#ff2e00,#ff2e00,#ff3500,#ff3e00,#ff4a00,#ff5600,#ff6200,#ff7300,#ff9a00,#fbff04,#2affd5,#0051ff,#0000df,#0000b8,#0000ad,#0000ae,#0000b8,#0000c5,#0000d2,#0000e0,#0000ef,#0000fe,#000eff,#001eff,#002eff,#003eff,#004eff,#005fff,#0070ff,#0081ff,#0092ff,#00a3ff)"></i><i style="background:linear-gradient(90deg,#0000d5,#0000e1,#0000f3,#0011ff,#0040ff,#0087ff,#00eaff,#60ff9f,#d3ff2c,#ffcb00,#ff8800,#ff5d00,#ff4500,#ff3a00,#ff3b00,#ff4200,#ff4a00,#ff5600,#ff6200,#ff6d00,#ff7e00,#ffa400,#f1ff0e,#23ffdc,#004eff,#0000de,#0000b8,#0000ad,#0000ae,#0000b8,#0000c5,#0000d2,#0000e0,#0000ef,#0000fe,#000eff,#001eff,#002eff,#003eff,#004eff,#005fff,#0070ff,#0081ff,#0092ff,#00a3ff)"></i><i style="background:linear-gradient(90deg,#0000d4,#0000e0,#0000f2,#000fff,#003cff,#0082ff,#00e3ff,#58ffa7,#caff35,#ffd500,#ff9200,#ff6800,#ff5000,#ff4600,#ff4600,#ff4c00,#ff5400,#ff6000,#ff6b00,#ff7600,#ff8600,#ffac00,#ebff14,#1effe1,#004bff,#0000dd,#0000b7,#0000ad,#0000ae,#0000b8,#0000c5,#0000d2,#0000e0,#0000ef,#0000fe,#000eff,#001eff,#002eff,#003eff,#004eff,#005fff,#0070ff,#0081ff,#0092ff,#00a3ff)"></i><i style="background:linear-gradient(90deg,#0000d4,#0000df,#0000f0,#000dff,#0039ff,#007dff,#00ddff,#50ffaf,#c2ff3d,#ffdd00,#ff9b00,#ff7200,#ff5a00,#ff5000,#ff4f00,#ff5500,#ff5c00,#ff6700,#ff7100,#ff7b00,#ff8a00,#ffb000,#e7ff18,#1bffe4,#004aff,#0000dd,#0000b7,#0000ac,#0000ae,#0000b8,#0000c5,#0000d2,#0000e0,#0000ef,#0000fe,#000eff,#001eff,#002eff,#003eff,#004eff,#005fff,#0070ff,#0081ff,#0092ff,#00a3ff)"></i><i style="background:linear-gradient(90deg,#0000d3,#0000de,#0000ef,#000aff,#0035ff,#0078ff,#00d7ff,#49ffb6,#baff45,#ffe600,#ffa400,#ff7b00,#ff6400,#ff5a00,#ff5900,#ff5e00,#ff6400,#ff6d00,#ff7600,#ff8000,#ff8f00,#ffb400,#e3ff1c,#19ffe6,#0048ff,#0000dc,#0000b7,#0000ac,#0000ae,#0000b8,#0000c5,#0000d2,#0000e0,#0000ef,#0000fe,#000eff,#001eff,#002eff,#003eff,#004eff,#005fff,#0070ff,#0081ff,#0092ff,#00a3ff)"></i><i style="background:linear-gradient(90deg,#0000d3,#0000dd,#0000ee,#0008ff,#0032ff,#0073ff,#00d0ff,#42ffbd,#b2ff4d,#ffee00,#ffad00,#ff8500,#ff6e00,#ff6400,#ff6300,#ff6700,#ff6c00,#ff7400,#ff7c00,#ff8500,#ff9300,#ffb800,#e0ff1f,#16ffe9,#0047ff,#0000dc,#0000b7,#0000ac,#0000ae,#0000b8,#0000c5,#0000d2,#0000e0,#0000ef,#0000fe,#000eff,#001eff,#002eff,#003eff,#004eff,#005fff,#0070ff,#0081ff,#0092ff,#00a3ff)"></i><i style="background:linear-gradient(90deg,#0000d2,#0000dd,#0000ec,#0006ff,#002fff,#006fff,#00caff,#3bffc4,#aaff55,#fff700,#ffb600,#ff8f00,#ff7800,#ff6e00,#ff6c00,#ff7000,#ff7400,#ff7b00,#ff8200,#ff8a00,#ff9800,#ffbc00,#dcff23,#13ffec,#0045ff,#0000db,#0000b7,#0000ac,#0000ae,#0000b8,#0000c5,#0000d2,#0000e0,#0000ef,#0000fe,#000eff,#001eff,#002eff,#003eff,#004eff,#005fff,#0070ff,#0081ff,#0092ff,#00a3ff)"></i><i style="background:linear-gradient(90deg,#0000d2,#0000dc,#0000eb,#0004ff,#002cff,#006aff,#00c4ff,#33ffcc,#a2ff5d,#ffff00,#ffbf00,#ff9800,#ff8200,#ff7800,#ff7600,#ff7800,#ff7b00,#ff8200,#ff8800,#ff8f00,#ff9c00,#ffc000,#d8ff27,#10ffef,#0044ff,#0000db,#0000b7,#0000ac,#0000ae,#0000b8,#0000c5,#0000d2,#0000e0,#0000ef,#0000fe,#000eff,#001eff,#002eff,#003eff,#004eff,#005fff,#0070ff,#0081ff,#0092ff,#00a3ff)"></i><i style="background:linear-gradient(90deg,#0000d2,#0000db,#0000ea,#0002ff,#0029ff,#0066ff,#00c0ff,#2fffd0,#9fff60,#fbff04,#ffc300,#ff9c00,#ff8600,#ff7c00,#ff7a00,#ff7c00,#ff8000,#ff8600,#ff8c00,#ff9300,#ffa000,#ffc400,#d5ff2a,#0dfff2,#0043ff,#0000da,#0000b7,#0000ac,#0000ae,#0000b8,#0000c5,#0000d2,#0000e0,#0000ef,#0000fe,#000eff,#001eff,#002eff,#003eff,#004eff,#005fff,#0070ff,#0081ff,#0092ff,#00a3ff)"></i><i style="background:linear-gradient(90deg,#0000d1,#0000db,#0000e9,#0001ff,#0026ff,#0063ff,#00bcff,#2bffd4,#9bff64,#f8ff07,#ffc600,#ff9f00,#ff8900,#ff8000,#ff7e00,#ff8000,#ff8300,#ff8900,#ff9000,#ff9700,#ffa400,#ffc800,#d1ff2e,#0bfff4,#0041ff,#0000da,#0000b6,#0000ac,#0000ae,#0000b8,#0000c5,#0000d2,#0000e0,#0000ef,#0000fe,#000eff,#001eff,#002eff,#003eff,#004eff,#005fff,#0070ff,#0081ff,#0092ff,#00a3ff)"></i><i style="background:linear-gradient(90deg,#0000d1,#0000da,#0000e8,#0000fe,#0024ff,#005fff,#00b7ff,#27ffd8,#97ff68,#f5ff0a,#ffc900,#ffa200,#ff8c00,#ff8300,#ff8100,#ff8300,#ff8700,#ff8d00,#ff9300,#ff9a00,#ffa700,#ffcb00,#ceff31,#08fff7,#0040ff,#0000d9,#0000b6,#0000ac,#0000ae,#0000b8,#0000c5,#0000d2,#0000e0,#0000ef,#0000fe,#000eff,#001eff,#002eff,#003eff,#004eff,#005fff,#0070ff,#0081ff,#0092ff,#00a3ff)"></i><i style="background:linear-gradient(90deg,#0000d1,#0000da,#0000e7,#0000fd,#0021ff,#005cff,#00b3ff,#23ffdc,#94ff6b,#f2ff0d,#ffcb00,#ffa500,#ff9000,#ff8600,#ff8400,#ff8700,#ff8a00,#ff9100,#ff9700,#ff9e00,#ffab00,#ffcf00,#caff35,#05fffa,#003eff,#0000d9,#0000b6,#0000ac,#0000ae,#0000b8,#0000c5,#0000d2,#0000e0,#0000ef,#0000fe,#000eff,#001eff,#002eff,#003eff,#004eff,#005fff,#0070ff,#0081ff,#0092ff,#00a3ff)"></i><i style="background:linear-gradient(90deg,#0000d0,#0000d9,#0000e6,#0000fb,#001fff,#0059ff,#00afff,#1effe1,#90ff6f,#efff10,#ffce00,#ffa800,#ff9300,#ff8900,#ff8800,#ff8b00,#ff8e00,#ff9400,#ff9a00,#ffa100,#ffae00,#ffd200,#c7ff38,#03fffc,#003dff,#0000d8,#0000b6,#0000ac,#0000ae,#0000b8,#0000c5,#0000d2,#0000e0,#0000ef,#0000fe,#000eff,#001eff,#002eff,#003eff,#004eff,#005fff,#0070ff,#0081ff,#0092ff,#00a3ff)"></i><i style="background:linear-gradient(90deg,#0000d0,#0000d9,#0000e5,#0000fa,#001dff,#0055ff,#00abff,#1affe5,#8dff72,#ecff13,#ffd100,#ffab00,#ff9600,#ff8d00,#ff8b00,#ff8e00,#ff9200,#ff9800,#ff9e00,#ffa500,#ffb200,#ffd600,#c4ff3b,#00ffff,#003cff,#0000d8,#0000b6,#0000ac,#0000ae,#0000b8,#0000c5,#0000d2,#0000e0,#0000ef,#0000fe,#000eff,#001eff,#002eff,#003eff,#004eff,#005fff,#0070ff,#0081ff,#0092ff,#00a3ff)"></i><i style="background:linear-gradient(90deg,#0000d0,#0000d8,#0000e4,#0000f8,#001aff,#0052ff,#00a7ff,#16ffe9,#89ff76,#e9ff16,#ffd400,#ffad00,#ff9900,#ff9000,#ff8f00,#ff9200,#ff9500,#ff9c00,#ffa200,#ffa900,#ffb600,#ffda00,#c0ff3f,#00fcff,#003aff,#0000d7,#0000b6,#0000ac,#0000ae,#0000b8,#0000c5,#0000d2,#0000e0,#0000ef,#0000fe,#000eff,#001eff,#002eff,#003eff,#004eff,#005fff,#0070ff,#0081ff,#0092ff,#00a3ff)"></i><i style="background:linear-gradient(90deg,#0000cf,#0000d8,#0000e4,#0000f7,#0018ff,#004fff,#00a3ff,#12ffed,#85ff7a,#e6ff19,#ffd700,#ffb000,#ff9c00,#ff9300,#ff9200,#ff9500,#ff9900,#ff9f00,#ffa500,#ffac00,#ffb900,#ffdd00,#bdff42,#00f9ff,#0039ff,#0000d7,#0000b6,#0000ac,#0000ae,#0000b8,#0000c5,#0000d2,#0000e0,#0000ef,#0000fe,#000eff,#001eff,#002eff,#003eff,#004eff,#005fff,#0070ff,#0081ff,#0092ff,#00a3ff)"></i><i style="background:linear-gradient(90deg,#0000cf,#0000d8,#0000e4,#0000f7,#0018ff,#004fff,#00a3ff,#12ffed,#85ff7a,#e6ff19,#ffd700,#ffb000,#ff9c00,#ff9300,#ff9200,#ff9500,#ff9900,#ff9f00,#ffa500,#ffac00,#ffb900,#ffdd00,#bdff42,#00f9ff,#0039ff,#0000d7,#0000b6,#0000ac,#0000ae,#0000b8,#0000c5,#0000d2,#0000e0,#0000ef,#0000fe,#000eff,#001eff,#002eff,#003eff,#004eff,#005fff,#0070ff,#0081ff,#0092ff,#00a3ff)"></i><i style="background:linear-gradient(90deg,#0000cf,#0000d8,#0000e4,#0000f7,#0018ff,#004fff,#00a3ff,#12ffed,#85ff7a,#e6ff19,#ffd700,#ffb000,#ff9c00,#ff9300,#ff9200,#ff9500,#ff9900,#ff9f00,#ffa500,#ffac00,#ffb900,#ffdd00,#bdff42,#00f9ff,#0039ff,#0000d7,#0000b6,#0000ac,#0000ae,#0000b8,#0000c5,#0000d2,#0000e0,#0000ef,#0000fe,#000eff,#001eff,#002eff,#003eff,#004eff,#005fff,#0070ff,#0081ff,#0092ff,#00a3ff)"></i></div></div>
<div class="cb" style="left:657px;top:12px"></div>
<div class="h" style="left:31px;top:218px"><div><i style="background:linear-gradient(90deg,#0000cf,#0000cf,#0000cf,#0000cf,#0000cf,#0000cf,#0000ce,#0000ce,#0000ce,#0000cd,#0000cc,#0000cc,#0000cc,#0000cc,#0000cd,#0000cd,#0000cb,#0000c8,#0000c2,#0000b9,#0000a5,#00009e,#0000a2,#0000bc,#0000c3,#0000b9,#0000ae,#0000ab,#0000ac,#0000b0,#0000b3,#0000b8,#0000bb,#0000bf,#0000c2,#0000c5,#0000c8,#0000ca,#0000cb,#0000cc,#0000cd,#0000ce,#0000ce,#0000cf,#0000cf)"></i><i style="background:linear-gradient(90deg,#0000cf,#0000cf,#0000cf,#0000cf,#0000cf,#0000cf,#0000ce,#0000ce,#0000ce,#0000cd,#0000cc,#0000cc,#0000cc,#0000cc,#0000cd,#0000cd,#0000cb,#0000c8,#0000c2,#0000b9,#0000a5,#00009e,#0000a2,#0000bc,#0000c3,#0000b9,#0000ae,#0000ab,#0000ac,#0000b0,#0000b3,#0000b8,#0000bb,#0000bf,#0000c2,#0000c5,#0000c8,#0000ca,#0000cb,#0000cc,#0000cd,#0000ce,#0000ce,#0000cf,#0000cf)"></i><i style="background:linear-gradient(90deg,#0000cf,#0000cf,#0000cf,#0000cf,#0000cf,#0000cf,#0000ce,#0000ce,#0000ce,#0000cd,#0000cc,#0000cc,#0000cc,#0000cc,#0000cd,#0000cd,#0000cb,#0000c8,#0000c2,#0000b9,#0000a5,#00009e,#0000a2,#0000bc,#0000c3,#0000b9,#0000ae,#0000ab,#0000ac,#0000b0,#0000b3,#0000b8,#0000bb,#0000bf,#0000c2,#0000c5,#0000c8,#0000ca,#0000cb,#0000cc,#0000cd,#0000ce,#0000ce,#0000cf,#0000cf)"></i><i style="background:linear-gradient(90deg,#0000cf,#0000cf,#0000cf,#0000cf,#0000cf,#0000cf,#0000ce,#0000ce,#0000ce,#0000cd,#0000cd,#0000cc,#0000cc,#0000cd,#0000ce,#0000ce,#0000cc,#0000c8,#0000c1,#0000b6,#0000a0,#00009e,#0000aa,#0000c1,#0000c2,#0000b5,#0000ac,#0000aa,#0000ac,#0000b0,#0000b4,#0000b8,#0000bc,#0000bf,#0000c3,#0000c5,#0000c8,#0000ca,#0000cb,#0000cc,#0000cd,#0000ce,#0000ce,#0000cf,#0000cf)"></i><i style="background:linear-gradient(90deg,#0000cf,#0000cf,#0000cf,#0000cf,#0000cf,#0000cf,#0000ce,#0000ce,#0000ce,#0000cd,#0000cd,#0000cd,#0000cd,#0000ce,#0000cf,#0000ce,#0000cc,#0000c8,#0000c0,#0000b2,#00009e,#00009e,#0000b2,#0000c3,#0000bf,#0000b2,#0000aa,#0000aa,#0000ac,#0000b0,#0000b4,#0000b8,#0000bc,#0000bf,#0000c3,#0000c6,#0000c8,#0000ca,#0000cb,#0000cd,#0000cd,#0000ce,#0000ce,#0000cf,#0000cf)"></i><i style="background:linear-gradient(90deg,#0000cf,#0000cf,#0000cf,#0000cf,#0000cf,#0000cf,#0000ce,#0000ce,#0000ce,#0000cd,#0000cd,#0000cd,#0000ce,#0000cf,#0000d0,#0000cf,#0000cc,#0000c7,#0000be,#0000ad,#00009e,#0000a0,#0000ba,#0000c4,#0000bc,#0000af,#0000a9,#0000aa,#0000ac,#0000b0,#0000b4,#0000b8,#0000bc,#0000c0,#0000c3,#0000c6,#0000c8,#0000ca,#0000cc,#0000cd,#0000cd,#0000ce,#0000ce,#0000cf,#0000cf)"></i><i style="background:linear-gradient(90deg,#0000cf,#0000cf,#0000cf,#0000cf,#0000cf,#0000cf,#0000ce,#0000ce,#0000ce,#0000ce,#0000cd,#0000ce,#0000cf,#0000d0,#0000d0,#0000cf,#0000cc,#0000c6,#0000bc,#0000a7,#00009e,#0000a7,#0000c0,#0000c4,#0000b8,#0000ac,#0000a9,#0000aa,#0000ad,#0000b0,#0000b4,#0000b8,#0000bc,#0000c0,#0000c3,#0000c6,#0000c8,#0000ca,#0000cc,#0000cd,#0000ce,#0000ce,#0000ce,#0000cf,#0000cf)"></i><i style="background:linear-gradient(90deg,#0000cf,#0000cf,#0000cf,#0000cf,#0000cf,#0000cf,#0000ce,#0000ce,#0000ce,#0000ce,#0000ce,#0000cf,#0000d0,#0000d1,#0000d1,#0000d0,#0000cc,#0000c5,#0000b9,#0000a2,#00009e,#0000b0,#0000c4,#0000c2,#0000b5,#0000ab,#0000a8,#0000aa,#0000ad,#0000b0,#0000b4,#0000b8,#0000bc,#0000c0,#0000c3,#0000c6,#0000c8,#0000ca,#0000cc,#0000cd,#0000ce,#0000ce,#0000ce,#0000cf,#0000cf)"></i><i style="background:linear-gradient(90deg,#0000cf,#0000cf,#0000cf,#0000cf,#0000cf,#0000cf,#0000ce,#0000ce,#0000ce,#0000ce,#0000ce,#0000cf,#0000d1,#0000d2,#0000d2,#0000d0,#0000cb,#0000c4,#0000b4,#00009e,#00009e,#0000b8,#0000c6,#0000bf,#0000b1,#0000a9,#0000a8,#0000aa,#0000ad,#0000b1,#0000b5,#0000b9,#0000bd,#0000c0,#0000c4,#0000c6,#0000c9,#0000ca,#0000cc,#0000cd,#0000ce,#0000ce,#0000cf,#0000cf,#0000cf)"></i><i style="background:linear-gradient(90deg,#0000cf,#0000cf,#0000cf,#0000cf,#0000cf,#0000cf,#0000cf,#0000ce,#0000ce,#0000ce,#0000cf,#0000d0,#0000d2,#0000d3,#0000d2,#0000d0,#0000cb,#0000c2,#0000af,#00009e,#0000a6,#0000bf,#0000c7,#0000bc,#0000ae,#0000a8,#0000a8,#0000aa,#0000ad,#0000b1,#0000b5,#0000b9,#0000bd,#0000c1,#0000c4,#0000c7,#0000c9,#0000cb,#0000cc,#0000cd,#0000ce,#0000ce,#0000cf,#0000cf,#0000cf)"></i><i style="background:linear-gradient(90deg,#0000cf,#0000cf,#0000cf,#0000cf,#0000cf,#0000cf,#0000cf,#0000ce,#0000ce,#0000cf,#0000d0,#0000d1,#0000d2,#0000d3,#0000d3,#0000d0,#0000ca,#0000bf,#0000aa,#00009e,#0000ae,#0000c4,#0000c6,#0000b8,#0000ac,#0000a8,#0000a8,#0000ab,#0000ae,#0000b1,#0000b5,#0000ba,#0000bd,#0000c1,#0000c4,#0000c7,#0000c9,#0000cb,#0000cc,#0000cd,#0000ce,#0000ce,#0000cf,#0000cf,#0000cf)"></i><i style="background:linear-gradient(90deg,#0000cf,#0000cf,#0000cf,#0000cf,#0000cf,#0000cf,#0000cf,#0000cf,#0000cf,#0000cf,#0000d0,#0000d2,#0000d3,#0000d4,#0000d3,#0000cf,#0000c9,#0000bc,#0000a5,#00009f,#0000b6,#0000c8,#0000c4,#0000b5,#0000ab,#0000a8,#0000a9,#0000ab,#0000ae,#0000b2,#0000b6,#0000ba,#0000be,#0000c2,#0000c5,#0000c7,#0000c9,#0000cb,#0000cc,#0000cd,#0000ce,#0000ce,#0000cf,#0000cf,#0000cf)"></i><i style="background:linear-gradient(90deg,#0000cf,#0000cf,#0000cf,#0000cf,#0000cf,#0000cf,#0000cf,#0000cf,#0000cf,#0000d0,#0000d1,#0000d3,#0000d4,#0000d5,#0000d3,#0000cf,#0000c8,#0000b7,#0000a1,#0000a5,#0000be,#0000ca,#0000c1,#0000b2,#0000aa,#0000a8,#0000a9,#0000ac,#0000af,#0000b3,#0000b7,#0000bb,#0000be,#0000c2,#0000c5,#0000c8,#0000ca,#0000cb,#0000cd,#0000cd,#0000ce,#0000ce,#0000cf,#0000cf,#0000cf)"></i><i style="background:linear-gradient(90deg,#0000cf,#0000cf,#0000cf,#0000cf,#0000cf,#0000cf,#0000cf,#0000cf,#0000cf,#0000d0,#0000d2,#0000d4,#0000d5,#0000d5,#0000d3,#0000ce,#0000c5,#0000b2,#0000a0,#0000ac,#0000c4,#0000ca,#0000bd,#0000af,#0000a9,#0000a8,#0000aa,#0000ac,#0000af,#0000b3,#0000b7,#0000bb,#0000bf,#0000c3,#0000c6,#0000c8,#0000ca,#0000cc,#0000cd,#0000ce,#0000ce,#0000cf,#0000cf,#0000cf,#0000cf)"></i><i style="background:linear-gradient(90deg,#0000cf,#0000cf,#0000cf,#0000cf,#0000cf,#0000cf,#0000cf,#0000cf,#0000d0,#0000d1,#0000d3,#0000d5,#0000d6,#0000d6,#0000d3,#0000ce,#0000c2,#0000ad,#0000a1,#0000b5,#0000c9,#0000c9,#0000ba,#0000ae,#0000a9,#0000a9,#0000aa,#0000ad,#0000b0,#0000b4,#0000b8,#0000bc,#0000c0,#0000c3,#0000c6,#0000c9,#0000cb,#0000cc,#0000cd,#0000ce,#0000ce,#0000cf,#0000cf,#0000cf,#0000cf)"></i><i style="background:linear-gradient(90deg,#0000cf,#0000cf,#0000cf,#0000cf,#0000cf,#0000cf,#0000cf,#0000cf,#0000d0,#0000d2,#0000d4,#0000d6,#0000d7,#0000d6,#0000d3,#0000cc,#0000bf,#0000a8,#0000a5,#0000bd,#0000cc,#0000c6,#0000b7,#0000ac,#0000a9,#0000a9,#0000ab,#0000ae,#0000b1,#0000b5,#0000b9,#0000bd,#0000c1,#0000c4,#0000c7,#0000c9,#0000cb,#0000cc,#0000cd,#0000ce,#0000ce,#0000cf,#0000cf,#0000cf,#0000cf)"></i><i style="background:linear-gradient(90deg,#0000cf,#0000cf,#0000cf,#0000cf,#0000cf,#0000cf,#0000cf,#0000d0,#0000d1,#0000d2,#0000d5,#0000d7,#0000d7,#0000d6,#0000d2,#0000cb,#0000ba,#0000a5,#0000ab,#0000c4,#0000ce,#0000c3,#0000b4,#0000ac,#0000a9,#0000aa,#0000ac,#0000af,#0000b2,#0000b6,#0000ba,#0000be,#0000c2,#0000c5,#0000c8,#0000ca,#0000cc,#0000cd,#0000ce,#0000ce,#0000cf,#0000cf,#0000cf,#0000cf,#0000cf)"></i><i style="background:linear-gradient(90deg,#0000cf,#0000cf,#0000cf,#0000cf,#0000cf,#0000cf,#0000cf,#0000d0,#0000d1,#0000d3,#0000d6,#0000d7,#0000d8,#0000d6,#0000d2,#0000c8,#0000b5,#0000a4,#0000b3,#0000cb,#0000ce,#0000c0,#0000b2,#0000ab,#0000aa,#0000ab,#0000ad,#0000b0,#0000b3,#0000b7,#0000bb,#0000bf,#0000c3,#0000c6,#0000c9,#0000cb,#0000cc,#0000cd,#0000ce,#0000ce,#0000cf,#0000cf,#0000cf,#0000cf,#0000cf)"></i><i style="background:linear-gradient(90deg,#0000cf,#0000cf,#0000cf,#0000cf,#0000cf,#0000cf,#0000d0,#0000d0,#0000d2,#0000d4,#0000d6,#0000d8,#0000d8,#0000d6,#0000d1,#0000c5,#0000af,#0000a6,#0000bc,#0000cf,#0000cc,#0000bd,#0000b0,#0000ac,#0000ab,#0000ac,#0000ae,#0000b1,#0000b5,#0000b9,#0000bd,#0000c1,#0000c4,#0000c7,#0000ca,#0000cb,#0000cd,#0000ce,#0000ce,#0000cf,#0000cf,#0000cf,#0000cf,#0000cf,#0000cf)"></i><i style="background:linear-gradient(90deg,#0000cf,#0000cf,#0000cf,#0000cf,#0000cf,#0000cf,#0000d0,#0000d1,#0000d3,#0000d5,#0000d7,#0000d9,#0000d8,#0000d5,#0000cf,#0000c1,#0000ab,#0000ab,#0000c4,#0000d2,#0000ca,#0000ba,#0000b0,#0000ac,#0000ac,#0000ad,#0000b0,#0000b3,#0000b6,#0000ba,#0000bf,#0000c2,#0000c6,#0000c9,#0000cb,#0000cc,#0000cd,#0000ce,#0000cf,#0000cf,#0000cf,#0000cf,#0000cf,#0000cf,#0000cf)"></i><i style="background:linear-gradient(90deg,#0000cf,#0000cf,#0000cf,#0000cf,#0000cf,#0000d0,#0000d0,#0000d2,#0000d4,#0000d6,#0000d8,#0000d9,#0000d8,#0000d5,#0000ce,#0000bc,#0000a9,#0000b2,#0000cb,#0000d3,#0000c7,#0000b7,#0000af,#0000ad,#0000ad,#0000af,#0000b1,#0000b4,#0000b8,#0000bc,#0000c0,#0000c4,#0000c7,#0000ca,#0000cc,#0000cd,#0000ce,#0000cf,#0000cf,#0000cf,#0000cf,#0000cf,#0000cf,#0000cf,#0000cf)"></i><i style="background:linear-gradient(90deg,#0000cf,#0000cf,#0000cf,#0000cf,#0000cf,#0000d0,#0000d1,#0000d2,#0000d4,#0000d7,#0000d9,#0000da,#0000d8,#0000d4,#0000cb,#0000b7,#0000a9,#0000bb,#0000d1,#0000d2,#0000c4,#0000b6,#0000b0,#0000ae,#0000af,#0000b0,#0000b3,#0000b7,#0000bb,#0000bf,#0000c3,#0000c6,#0000c9,#0000cb,#0000cd,#0000ce,#0000cf,#0000cf,#0000cf,#0000cf,#0000cf,#0000cf,#0000cf,#0000cf,#0000cf)"></i><i style="background:linear-gradient(90deg,#0000cf,#0000cf,#0000cf,#0000cf,#0000d0,#0000d0,#0000d1,#0000d3,#0000d5,#0000d8,#0000da,#0000da,#0000d8,#0000d3,#0000c8,#0000b2,#0000ac,#0000c3,#0000d5,#0000d0,#0000c1,#0000b5,#0000b0,#0000af,#0000b0,#0000b2,#0000b5,#0000b9,#0000bd,#0000c1,#0000c5,#0000c8,#0000cb,#0000cd,#0000cf,#0000cf,#0000d0,#0000d0,#0000d0,#0000d0,#0000d0,#0000cf,#0000cf,#0000cf,#0000cf)"></i><i style="background:linear-gradient(90deg,#0000cf,#0000cf,#0000cf,#0000d0,#0000d0,#0000d0,#0000d2,#0000d4,#0000d6,#0000d9,#0000da,#0000da,#0000d8,#0000d2,#0000c3,#0000ae,#0000b2,#0000cb,#0000d7,#0000ce,#0000be,#0000b4,#0000b1,#0000b1,#0000b2,#0000b5,#0000b8,#0000bc,#0000c0,#0000c4,#0000c8,#0000cb,#0000cd,#0000cf,#0000d0,#0000d0,#0000d1,#0000d0,#0000d0,#0000d0,#0000d0,#0000d0,#0000cf,#0000cf,#0000cf)"></i><i style="background:linear-gradient(90deg,#0000cf,#0000d0,#0000d0,#0000d0,#0000d0,#0000d1,#0000d2,#0000d5,#0000d7,#0000da,#0000db,#0000da,#0000d7,#0000d0,#0000be,#0000ad,#0000b9,#0000d2,#0000d8,#0000cb,#0000bc,#0000b5,#0000b3,#0000b3,#0000b5,#0000b7,#0000bb,#0000bf,#0000c3,#0000c7,#0000cb,#0000ce,#0000d0,#0000d1,#0000d2,#0000d2,#0000d1,#0000d1,#0000d1,#0000d0,#0000d0,#0000d0,#0000d0,#0000cf,#0000cf)"></i><i style="background:linear-gradient(90deg,#0000d0,#0000d0,#0000d0,#0000d0,#0000d0,#0000d1,#0000d3,#0000d5,#0000d8,#0000db,#0000db,#0000da,#0000d6,#0000cd,#0000b9,#0000ae,#0000c2,#0000d7,#0000d7,#0000c8,#0000bb,#0000b6,#0000b4,#0000b5,#0000b7,#0000ba,#0000be,#0000c2,#0000c7,#0000cb,#0000ce,#0000d0,#0000d2,#0000d3,#0000d3,#0000d3,#0000d2,#0000d2,#0000d1,#0000d0,#0000d0,#0000d0,#0000d0,#0000d0,#0000d0)"></i><i style="background:linear-gradient(90deg,#0000d0,#0000d0,#0000d0,#0000d0,#0000d1,#0000d2,#0000d4,#0000d6,#0000d9,#0000db,#0000dc,#0000da,#0000d5,#0000c9,#0000b4,#0000b2,#0000ca,#0000db,#0000d5,#0000c6,#0000bb,#0000b7,#0000b7,#0000b8,#0000ba,#0000be,#0000c2,#0000c6,#0000ca,#0000ce,#0000d1,#0000d4,#0000d5,#0000d5,#0000d5,#0000d4,#0000d3,#0000d2,#0000d1,#0000d1,#0000d0,#0000d0,#0000d0,#0000d0,#0000d0)"></i><i style="background:linear-gradient(90deg,#0000d0,#0000d0,#0000d0,#0000d0,#0000d1,#0000d3,#0000d5,#0000d7,#0000da,#0000dc,#0000dc,#0000d9,#0000d4,#0000c5,#0000b1,#0000b8,#0000d2,#0000dc,#0000d3,#0000c4,#0000bb,#0000b9,#0000b9,#0000bb,#0000be,#0000c1,#0000c6,#0000ca,#0000cf,#0000d2,#0000d5,#0000d7,#0000d8,#0000d7,#0000d6,#0000d5,#0000d4,#0000d3,#0000d2,#0000d1,#0000d0,#0000d0,#0000d0,#0000d0,#0000d0)"></i><i style="background:linear-gradient(90deg,#0000d0,#0000d0,#0000d0,#0000d1,#0000d2,#0000d3,#0000d6,#0000d8,#0000db,#0000dc,#0000dc,#0000d9,#0000d2,#0000c0,#0000b1,#0000c0,#0000d8,#0000dd,#0000d0,#0000c2,#0000bc,#0000bb,#0000bc,#0000be,#0000c2,#0000c6,#0000cb,#0000cf,#0000d4,#0000d7,#0000d9,#0000da,#0000da,#0000da,#0000d8,#0000d7,#0000d5,#0000d3,#0000d2,#0000d1,#0000d1,#0000d0,#0000d0,#0000d0,#0000d0)"></i><i style="background:linear-gradient(90deg,#0000d0,#0000d0,#0000d1,#0000d1,#0000d2,#0000d4,#0000d7,#0000d9,#0000dc,#0000dd,#0000dc,#0000d8,#0000cf,#0000bb,#0000b3,#0000c9,#0000dd,#0000dc,#0000cd,#0000c2,#0000bd,#0000bd,#0000bf,#0000c2,#0000c6,#0000cb,#0000d0,#0000d5,#0000d9,#0000dc,#0000de,#0000de,#0000dd,#0000dc,#0000da,#0000d8,#0000d6,#0000d4,#0000d2,#0000d1,#0000d1,#0000d0,#0000d0,#0000d0,#0000d0)"></i><i style="background:linear-gradient(90deg,#0000d0,#0000d0,#0000d1,#0000d2,#0000d3,#0000d5,#0000d8,#0000db,#0000dd,#0000dd,#0000db,#0000d7,#0000cb,#0000b7,#0000b8,#0000d1,#0000e0,#0000da,#0000cb,#0000c2,#0000bf,#0000c0,#0000c3,#0000c6,#0000cb,#0000d0,#0000d5,#0000da,#0000de,#0000e1,#0000e2,#0000e2,#0000e1,#0000de,#0000dc,#0000d9,#0000d7,#0000d4,#0000d3,#0000d2,#0000d1,#0000d0,#0000d0,#0000d0,#0000d0)"></i><i style="background:linear-gradient(90deg,#0000d0,#0000d1,#0000d1,#0000d2,#0000d4,#0000d6,#0000d9,#0000dc,#0000dd,#0000dd,#0000db,#0000d5,#0000c6,#0000b4,#0000bf,#0000d9,#0000e2,#0000d8,#0000ca,#0000c3,#0000c2,#0000c3,#0000c7,#0000cb,#0000d0,#0000d6,#0000dc,#0000e0,#0000e4,#0000e6,#0000e7,#0000e6,#0000e4,#0000e1,#0000dd,#0000da,#0000d7,#0000d5,#0000d3,#0000d2,#0000d1,#0000d0,#0000d0,#0000d0,#0000d0)"></i><i style="background:linear-gradient(90deg,#0000d1,#0000d1,#0000d2,#0000d3,#0000d5,#0000d7,#0000da,#0000dd,#0000de,#0000dd,#0000da,#0000d3,#0000c1,#0000b5,#0000c7,#0000de,#0000e2,#0000d5,#0000c9,#0000c4,#0000c5,#0000c7,#0000cb,#0000d0,#0000d6,#0000dc,#0000e2,#0000e7,#0000ea,#0000ec,#0000ec,#0000ea,#0000e7,#0000e3,#0000df,#0000db,#0000d8,#0000d5,#0000d3,#0000d2,#0000d1,#0000d1,#0000d0,#0000d0,#0000d0)"></i><i style="background:linear-gradient(90deg,#0000d1,#0000d2,#0000d3,#0000d4,#0000d6,#0000d9,#0000dc,#0000de,#0000de,#0000dd,#0000da,#0000d0,#0000bc,#0000b8,#0000cf,#0000e3,#0000e0,#0000d3,#0000c9,#0000c7,#0000c8,#0000cc,#0000d0,#0000d6,#0000dd,#0000e4,#0000ea,#0000ee,#0000f1,#0000f2,#0000f1,#0000ee,#0000ea,#0000e5,#0000e1,#0000dc,#0000d9,#0000d6,#0000d4,#0000d2,#0000d1,#0000d1,#0000d0,#0000d0,#0000d0)"></i><i style="background:linear-gradient(90deg,#0000d1,#0000d2,#0000d3,#0000d5,#0000d8,#0000da,#0000dd,#0000df,#0000df,#0000dd,#0000d8,#0000cc,#0000b9,#0000bd,#0000d7,#0000e5,#0000de,#0000d1,#0000ca,#0000c9,#0000cc,#0000d0,#0000d6,#0000dd,#0000e4,#0000eb,#0000f1,#0000f6,#0000f8,#0000f8,#0000f6,#0000f2,#0000ed,#0000e8,#0000e2,#0000dd,#0000d9,#0000d6,#0000d4,#0000d2,#0000d1,#0000d1,#0000d1,#0000d0,#0000d0)"></i><i style="background:linear-gradient(90deg,#0000d2,#0000d3,#0000d4,#0000d7,#0000d9,#0000dc,#0000de,#0000e0,#0000df,#0000dd,#0000d7,#0000c7,#0000b8,#0000c5,#0000de,#0000e6,#0000dc,#0000d0,#0000cc,#0000cd,#0000d0,#0000d6,#0000dc,#0000e4,#0000ec,#0000f3,#0000f9,#0000fd,#0000ff,#0000fe,#0000fb,#0000f6,#0000f0,#0000ea,#0000e4,#0000de,#0000da,#0000d7,#0000d4,#0000d3,#0000d2,#0000d1,#0000d1,#0000d1,#0000d0)"></i><i style="background:linear-gradient(90deg,#0000d2,#0000d4,#0000d6,#0000d8,#0000db,#0000de,#0000e0,#0000e1,#0000df,#0000dc,#0000d4,#0000c2,#0000b9,#0000cd,#0000e3,#0000e6,#0000da,#0000d0,#0000ce,#0000d0,#0000d5,#0000db,#0000e3,#0000ec,#0000f4,#0000fc,#0003ff,#0007ff,#0007ff,#0005ff,#0001ff,#0000fa,#0000f3,#0000ec,#0000e5,#0000df,#0000da,#0000d7,#0000d4,#0000d3,#0000d2,#0000d1,#0000d1,#0000d1,#0000d1)"></i><i style="background:linear-gradient(90deg,#0000d3,#0000d5,#0000d7,#0000da,#0000dd,#0000e0,#0000e2,#0000e2,#0000e0,#0000db,#0000d1,#0000be,#0000bd,#0000d5,#0000e7,#0000e4,#0000d8,#0000d1,#0000d1,#0000d4,#0000da,#0000e2,#0000eb,#0000f4,#0000fd,#0006ff,#000cff,#000fff,#000fff,#000cff,#0006ff,#0000fe,#0000f6,#0000ee,#0000e6,#0000e0,#0000db,#0000d7,#0000d5,#0000d3,#0000d2,#0000d1,#0000d1,#0000d1,#0000d1)"></i><i style="background:linear-gradient(90deg,#0000d4,#0000d6,#0000d9,#0000dc,#0000e0,#0000e2,#0000e3,#0000e3,#0000e0,#0000da,#0000cd,#0000bc,#0000c3,#0000dd,#0000e9,#0000e2,#0000d7,#0000d2,#0000d4,#0000d9,#0000e0,#0000e9,#0000f3,#0000fd,#0008ff,#0010ff,#0015ff,#0017ff,#0016ff,#0012ff,#000bff,#0002ff,#0000f8,#0000ef,#0000e7,#0000e0,#0000db,#0000d7,#0000d5,#0000d3,#0000d2,#0000d1,#0000d1,#0000d1,#0000d1)"></i><i style="background:linear-gradient(90deg,#0000d5,#0000d7,#0000db,#0000df,#0000e2,#0000e5,#0000e5,#0000e4,#0000e0,#0000d9,#0000c9,#0000bb,#0000cb,#0000e3,#0000e9,#0000e0,#0000d7,#0000d5,#0000d8,#0000de,#0000e7,#0000f1,#0000fc,#0008ff,#0012ff,#001aff,#001eff,#0020ff,#001dff,#0018ff,#000fff,#0006ff,#0000fa,#0000f1,#0000e8,#0000e1,#0000dc,#0000d8,#0000d5,#0000d3,#0000d2,#0000d2,#0000d1,#0000d1,#0000d1)"></i><i style="background:linear-gradient(90deg,#0000d6,#0000d9,#0000dd,#0000e2,#0000e5,#0000e7,#0000e7,#0000e5,#0000e0,#0000d7,#0000c5,#0000be,#0000d3,#0000e7,#0000e9,#0000df,#0000d7,#0000d7,#0000dc,#0000e4,#0000ee,#0000f9,#0006ff,#0012ff,#001cff,#0024ff,#0028ff,#0028ff,#0024ff,#001dff,#0014ff,#0009ff,#0000fc,#0000f2,#0000e9,#0000e1,#0000dc,#0000d8,#0000d5,#0000d3,#0000d2,#0000d2,#0000d2,#0000d1,#0000d1)"></i><i style="background:linear-gradient(90deg,#0000d7,#0000db,#0000e0,#0000e5,#0000e9,#0000ea,#0000ea,#0000e6,#0000e0,#0000d4,#0000c1,#0000c2,#0000db,#0000ea,#0000e7,#0000dd,#0000d8,#0000db,#0000e1,#0000ea,#0000f5,#0002ff,#0010ff,#001cff,#0027ff,#002eff,#0031ff,#0030ff,#002bff,#0023ff,#0017ff,#000bff,#0000fe,#0000f3,#0000e9,#0000e2,#0000dc,#0000d8,#0000d5,#0000d4,#0000d3,#0000d2,#0000d2,#0000d2,#0000d2)"></i><i style="background:linear-gradient(90deg,#0000d9,#0000dd,#0000e3,#0000e8,#0000ec,#0000ee,#0000ec,#0000e7,#0000e0,#0000d1,#0000c0,#0000c9,#0000e1,#0000ec,#0000e5,#0000dc,#0000da,#0000df,#0000e7,#0000f1,#0000fd,#000cff,#001aff,#0027ff,#0031ff,#0038ff,#003bff,#0038ff,#0032ff,#0027ff,#001bff,#000eff,#0000ff,#0000f4,#0000ea,#0000e2,#0000dc,#0000d8,#0000d5,#0000d4,#0000d3,#0000d2,#0000d2,#0000d2,#0000d2)"></i><i style="background:linear-gradient(90deg,#0000da,#0000e0,#0000e6,#0000ec,#0000f0,#0000f1,#0000ee,#0000e9,#0000df,#0000cd,#0000c1,#0000d1,#0000e6,#0000ec,#0000e4,#0000dd,#0000dd,#0000e3,#0000ec,#0000f8,#0007ff,#0015ff,#0024ff,#0032ff,#003cff,#0042ff,#0044ff,#0040ff,#0038ff,#002cff,#001eff,#0010ff,#0002ff,#0000f4,#0000ea,#0000e2,#0000dc,#0000d8,#0000d6,#0000d4,#0000d3,#0000d3,#0000d3,#0000d3,#0000d3)"></i><i style="background:linear-gradient(90deg,#0000dc,#0000e3,#0000ea,#0000f0,#0000f5,#0000f5,#0000f1,#0000ea,#0000de,#0000ca,#0000c5,#0000d8,#0000ea,#0000eb,#0000e2,#0000dd,#0000e0,#0000e8,#0000f2,#0001ff,#0010ff,#0020ff,#002fff,#003dff,#0047ff,#004cff,#004dff,#0047ff,#003dff,#0030ff,#0021ff,#0011ff,#0003ff,#0000f5,#0000ea,#0000e2,#0000dd,#0000d9,#0000d6,#0000d5,#0000d4,#0000d3,#0000d3,#0000d3,#0000d3)"></i><i style="background:linear-gradient(90deg,#0000de,#0000e6,#0000ee,#0000f5,#0000f9,#0000f9,#0000f4,#0000ec,#0000dc,#0000c9,#0000ca,#0000e0,#0000ec,#0000e9,#0000e1,#0000df,#0000e4,#0000ed,#0000f9,#0009ff,#0019ff,#002aff,#003aff,#0048ff,#0052ff,#0056ff,#0055ff,#004eff,#0042ff,#0034ff,#0023ff,#0013ff,#0003ff,#0000f5,#0000eb,#0000e3,#0000dd,#0000d9,#0000d7,#0000d5,#0000d5,#0000d4,#0000d4,#0000d4,#0000d4)"></i><i style="background:linear-gradient(90deg,#0000e1,#0000e9,#0000f2,#0000fa,#0000fe,#0000fd,#0000f7,#0000ed,#0000db,#0000c9,#0000d1,#0000e6,#0000ed,#0000e7,#0000e1,#0000e2,#0000e8,#0000f3,#0001ff,#0011ff,#0023ff,#0035ff,#0046ff,#0053ff,#005cff,#0060ff,#005dff,#0054ff,#0047ff,#0037ff,#0025ff,#0014ff,#0004ff,#0000f6,#0000eb,#0000e3,#0000de,#0000da,#0000d8,#0000d6,#0000d6,#0000d6,#0000d5,#0000d5,#0000d5)"></i><i style="background:linear-gradient(90deg,#0000e3,#0000ec,#0000f6,#0000ff,#0004ff,#0003ff,#0000fb,#0000ee,#0000d9,#0000cc,#0000d9,#0000ea,#0000ed,#0000e6,#0000e1,#0000e5,#0000ed,#0000f9,#0009ff,#001aff,#002dff,#0040ff,#0051ff,#005fff,#0067ff,#0069ff,#0064ff,#005aff,#004bff,#0039ff,#0027ff,#0015ff,#0005ff,#0000f6,#0000ec,#0000e4,#0000df,#0000db,#0000d9,#0000d8,#0000d8,#0000d7,#0000d7,#0000d7,#0000d7)"></i><i style="background:linear-gradient(90deg,#0000e5,#0000f0,#0000fb,#0005ff,#0009ff,#0007ff,#0000fe,#0000ef,#0000d8,#0000d1,#0000e0,#0000ed,#0000ec,#0000e5,#0000e3,#0000e8,#0000f2,#0000ff,#0011ff,#0024ff,#0038ff,#004bff,#005cff,#006aff,#0071ff,#0071ff,#006bff,#005fff,#004fff,#003cff,#0029ff,#0016ff,#0006ff,#0000f8,#0000ed,#0000e6,#0000e1,#0000de,#0000dc,#0000db,#0000da,#0000da,#0000da,#0000da,#0000da)"></i><i style="background:linear-gradient(90deg,#0000e8,#0000f3,#0001ff,#000aff,#000fff,#000cff,#0003ff,#0000ef,#0000d9,#0000d7,#0000e7,#0000ef,#0000eb,#0000e4,#0000e5,#0000ec,#0000f7,#0007ff,#0019ff,#002dff,#0042ff,#0057ff,#0068ff,#0074ff,#007bff,#007aff,#0072ff,#0064ff,#0053ff,#003fff,#002bff,#0018ff,#0008ff,#0000f9,#0000ef,#0000e8,#0000e4,#0000e1,#0000df,#0000de,#0000de,#0000de,#0000df,#0000df,#0000df)"></i><i style="background:linear-gradient(90deg,#0000eb,#0000f7,#0005ff,#0010ff,#0014ff,#0011ff,#0006ff,#0000f0,#0000dc,#0000df,#0000ec,#0000ef,#0000e9,#0000e5,#0000e8,#0000f0,#0000fd,#000fff,#0022ff,#0037ff,#004dff,#0062ff,#0073ff,#007fff,#0084ff,#0082ff,#0078ff,#0069ff,#0057ff,#0042ff,#002dff,#001aff,#000aff,#0000fc,#0000f3,#0000ec,#0000e8,#0000e6,#0000e4,#0000e4,#0000e4,#0000e4,#0000e4,#0000e5,#0000e5)"></i><i style="background:linear-gradient(90deg,#0000ed,#0000fb,#000aff,#0015ff,#001aff,#0016ff,#0009ff,#0000f0,#0000e0,#0000e6,#0000f0,#0000ef,#0000e8,#0000e6,#0000eb,#0000f5,#0005ff,#0016ff,#002bff,#0042ff,#0059ff,#006eff,#007eff,#0089ff,#008dff,#008aff,#007fff,#006fff,#005bff,#0045ff,#0031ff,#001eff,#000eff,#0002ff,#0000f8,#0000f2,#0000ee,#0000ec,#0000eb,#0000eb,#0000ec,#0000ec,#0000ed,#0000ed,#0000ed)"></i><i style="background:linear-gradient(90deg,#0000f0,#0000fe,#000fff,#001aff,#001fff,#001bff,#000bff,#0000f2,#0000e6,#0000ed,#0000f2,#0000ee,#0000e8,#0000e8,#0000ef,#0000fa,#000bff,#001fff,#0035ff,#004dff,#0064ff,#0079ff,#0089ff,#0094ff,#0096ff,#0091ff,#0085ff,#0074ff,#005fff,#004aff,#0035ff,#0023ff,#0014ff,#0008ff,#0000ff,#0000fa,#0000f7,#0000f5,#0000f5,#0000f5,#0000f6,#0000f7,#0000f8,#0000f9,#0000f9)"></i><i style="background:linear-gradient(90deg,#0000f2,#0003ff,#0013ff,#001fff,#0024ff,#001fff,#000dff,#0000f5,#0000ed,#0000f3,#0000f3,#0000ed,#0000e8,#0000ea,#0000f3,#0001ff,#0012ff,#0027ff,#003fff,#0057ff,#0070ff,#0085ff,#0094ff,#009eff,#009fff,#0099ff,#008cff,#007aff,#0065ff,#004fff,#003bff,#002aff,#001cff,#0011ff,#000aff,#0005ff,#0003ff,#0002ff,#0002ff,#0003ff,#0004ff,#0006ff,#0007ff,#0009ff,#0009ff)"></i><i style="background:linear-gradient(90deg,#0000f5,#0006ff,#0017ff,#0024ff,#0029ff,#0022ff,#000fff,#0000f9,#0000f5,#0000f7,#0000f4,#0000ec,#0000e9,#0000ed,#0000f7,#0007ff,#0019ff,#0030ff,#0049ff,#0062ff,#007bff,#0090ff,#009fff,#00a8ff,#00a8ff,#00a1ff,#0093ff,#0081ff,#006cff,#0056ff,#0043ff,#0032ff,#0025ff,#001cff,#0016ff,#0012ff,#0011ff,#0011ff,#0012ff,#0013ff,#0015ff,#0017ff,#0019ff,#001bff,#001bff)"></i><i style="background:linear-gradient(90deg,#0000f7,#0009ff,#001aff,#0028ff,#002dff,#0025ff,#0011ff,#0000fe,#0000fb,#0000fa,#0000f4,#0000ec,#0000ea,#0000f0,#0000fc,#000dff,#0021ff,#0039ff,#0053ff,#006dff,#0086ff,#009bff,#00a9ff,#00b1ff,#00b1ff,#00a9ff,#009bff,#0088ff,#0073ff,#005fff,#004cff,#003dff,#0031ff,#0029ff,#0024ff,#0022ff,#0021ff,#0022ff,#0024ff,#0026ff,#0029ff,#002cff,#002eff,#0031ff,#0031ff)"></i><i style="background:linear-gradient(90deg,#0000f9,#000bff,#001dff,#002bff,#0030ff,#0028ff,#0014ff,#0005ff,#0002ff,#0000fc,#0000f3,#0000ec,#0000ec,#0000f4,#0002ff,#0013ff,#0029ff,#0042ff,#005dff,#0078ff,#0091ff,#00a6ff,#00b3ff,#00baff,#00baff,#00b1ff,#00a2ff,#0090ff,#007cff,#0069ff,#0057ff,#004aff,#003fff,#0039ff,#0035ff,#0034ff,#0035ff,#0036ff,#0039ff,#003cff,#003fff,#0043ff,#0046ff,#004aff,#004aff)"></i><i style="background:linear-gradient(90deg,#0000fa,#000dff,#001fff,#002eff,#0032ff,#0029ff,#0016ff,#000cff,#0007ff,#0000fe,#0000f3,#0000ed,#0000ef,#0000f8,#0007ff,#001aff,#0031ff,#004bff,#0067ff,#0083ff,#009cff,#00b0ff,#00bcff,#00c3ff,#00c2ff,#00b9ff,#00aaff,#0098ff,#0085ff,#0073ff,#0064ff,#0057ff,#004fff,#004aff,#0048ff,#0048ff,#0049ff,#004cff,#0050ff,#0054ff,#0058ff,#005cff,#0061ff,#0065ff,#0065ff)"></i><i style="background:linear-gradient(90deg,#0000fb,#000eff,#0021ff,#0030ff,#0034ff,#002aff,#001aff,#0011ff,#000aff,#0000fe,#0000f3,#0000ee,#0000f1,#0000fc,#000cff,#0020ff,#0038ff,#0053ff,#0070ff,#008cff,#00a5ff,#00b8ff,#00c4ff,#00caff,#00c8ff,#00bfff,#00b1ff,#00a0ff,#008eff,#007eff,#0070ff,#0065ff,#005fff,#005bff,#005bff,#005cff,#005fff,#0063ff,#0067ff,#006cff,#0071ff,#0077ff,#007cff,#0081ff,#0081ff)"></i><i style="background:linear-gradient(90deg,#0000fc,#000fff,#0022ff,#0031ff,#0035ff,#002bff,#001eff,#0016ff,#000cff,#0000fe,#0000f2,#0000ef,#0000f4,#0000ff,#0010ff,#0025ff,#003eff,#005aff,#0077ff,#0093ff,#00abff,#00bdff,#00c8ff,#00cdff,#00cbff,#00c3ff,#00b5ff,#00a5ff,#0095ff,#0087ff,#007bff,#0073ff,#006eff,#006cff,#006dff,#0070ff,#0074ff,#0079ff,#007eff,#0084ff,#008aff,#0090ff,#0096ff,#009bff,#009cff)"></i><i style="background:linear-gradient(90deg,#0000fc,#000fff,#0022ff,#0031ff,#0034ff,#002bff,#0021ff,#0019ff,#000dff,#0000fd,#0000f2,#0000f0,#0000f6,#0003ff,#0014ff,#0029ff,#0043ff,#005eff,#007bff,#0096ff,#00adff,#00beff,#00c7ff,#00cdff,#00cbff,#00c2ff,#00b6ff,#00a8ff,#009aff,#008dff,#0084ff,#007eff,#007bff,#007bff,#007dff,#0081ff,#0086ff,#008cff,#0093ff,#0099ff,#00a0ff,#00a7ff,#00adff,#00b4ff,#00b4ff)"></i><i style="background:linear-gradient(90deg,#0000fc,#000fff,#0022ff,#0030ff,#0033ff,#002bff,#0024ff,#001aff,#000cff,#0000fc,#0000f2,#0000f2,#0000f8,#0005ff,#0016ff,#002cff,#0045ff,#0060ff,#007cff,#0096ff,#00acff,#00bbff,#00c3ff,#00c8ff,#00c6ff,#00beff,#00b3ff,#00a7ff,#009bff,#0091ff,#008aff,#0086ff,#0085ff,#0086ff,#008aff,#008fff,#0095ff,#009cff,#00a3ff,#00aaff,#00b1ff,#00b9ff,#00c0ff,#00c7ff,#00c7ff)"></i><i style="background:linear-gradient(90deg,#0000fb,#000dff,#001fff,#002cff,#002fff,#002aff,#0024ff,#001aff,#000aff,#0000fa,#0000f2,#0000f2,#0000f9,#0007ff,#0018ff,#002dff,#0045ff,#005fff,#007aff,#0092ff,#00a6ff,#00b4ff,#00baff,#00beff,#00bcff,#00b6ff,#00adff,#00a2ff,#0099ff,#0091ff,#008cff,#008aff,#008aff,#008dff,#0092ff,#0098ff,#009fff,#00a6ff,#00adff,#00b5ff,#00bdff,#00c5ff,#00ccff,#00d3ff,#00d3ff)"></i><i style="background:linear-gradient(90deg,#0000f9,#000aff,#001bff,#0027ff,#0029ff,#0027ff,#0022ff,#0017ff,#0007ff,#0000f8,#0000f2,#0000f2,#0000fa,#0007ff,#0017ff,#002cff,#0043ff,#005cff,#0074ff,#008aff,#009cff,#00a8ff,#00adff,#00b1ff,#00afff,#00aaff,#00a2ff,#009aff,#0092ff,#008dff,#008aff,#0089ff,#008bff,#008fff,#0095ff,#009bff,#00a2ff,#00aaff,#00b2ff,#00baff,#00c1ff,#00c9ff,#00d1ff,#00d8ff,#00d8ff)"></i><i style="background:linear-gradient(90deg,#0000f7,#0006ff,#0016ff,#0020ff,#0023ff,#0022ff,#001eff,#0013ff,#0003ff,#0000f6,#0000f0,#0000f2,#0000f9,#0006ff,#0016ff,#0029ff,#003eff,#0055ff,#006bff,#007fff,#008fff,#0099ff,#009dff,#009fff,#009eff,#0099ff,#0093ff,#008cff,#0087ff,#0083ff,#0082ff,#0082ff,#0085ff,#008aff,#0090ff,#0096ff,#009eff,#00a5ff,#00adff,#00b5ff,#00bcff,#00c4ff,#00ccff,#00d3ff,#00d3ff)"></i><i style="background:linear-gradient(90deg,#0000f4,#0002ff,#000fff,#0018ff,#001bff,#001cff,#0018ff,#000dff,#0000fe,#0000f3,#0000ef,#0000f1,#0000f8,#0004ff,#0012ff,#0024ff,#0037ff,#004bff,#005fff,#0070ff,#007dff,#0085ff,#0088ff,#008aff,#0088ff,#0084ff,#007eff,#0079ff,#0075ff,#0072ff,#0072ff,#0073ff,#0076ff,#007bff,#0081ff,#0087ff,#008eff,#0095ff,#009cff,#00a3ff,#00abff,#00b2ff,#00b9ff,#00bfff,#00bfff)"></i><i style="background:linear-gradient(90deg,#0000f1,#0000fc,#0008ff,#000fff,#0013ff,#0015ff,#0011ff,#0006ff,#0000f8,#0000ef,#0000ec,#0000ee,#0000f4,#0000fe,#000dff,#001cff,#002dff,#003fff,#004fff,#005dff,#0068ff,#006eff,#006fff,#0070ff,#006eff,#006aff,#0065ff,#0060ff,#005dff,#005bff,#005bff,#005dff,#0060ff,#0064ff,#006aff,#006fff,#0075ff,#007cff,#0082ff,#0088ff,#008eff,#0095ff,#009bff,#00a0ff,#00a1ff)"></i><i style="background:linear-gradient(90deg,#0000ee,#0000f7,#0001ff,#0006ff,#000bff,#000dff,#0008ff,#0000fd,#0000f1,#0000ea,#0000e7,#0000e9,#0000ef,#0000f8,#0004ff,#0012ff,#0020ff,#002fff,#003cff,#0048ff,#004fff,#0053ff,#0053ff,#0053ff,#0050ff,#004cff,#0048ff,#0044ff,#0041ff,#003fff,#003fff,#0041ff,#0044ff,#0048ff,#004cff,#0051ff,#0056ff,#005bff,#0060ff,#0065ff,#006bff,#0070ff,#0075ff,#007aff,#007aff)"></i><i style="background:linear-gradient(90deg,#0000eb,#0000f2,#0000f8,#0000fd,#0002ff,#0003ff,#0000fd,#0000f3,#0000e9,#0000e3,#0000e0,#0000e2,#0000e6,#0000ee,#0000f7,#0003ff,#000fff,#001bff,#0026ff,#002eff,#0034ff,#0036ff,#0035ff,#0033ff,#0030ff,#002cff,#0027ff,#0024ff,#0021ff,#0020ff,#0020ff,#0021ff,#0023ff,#0026ff,#002aff,#002eff,#0032ff,#0036ff,#003aff,#003eff,#0042ff,#0046ff,#004aff,#004eff,#004eff)"></i><i style="background:linear-gradient(90deg,#0000e9,#0000ee,#0000f2,#0000f5,#0000f9,#0000f9,#0000f3,#0000e9,#0000e0,#0000da,#0000d7,#0000d7,#0000db,#0000e0,#0000e8,#0000f1,#0000fa,#0004ff,#000cff,#0012ff,#0015ff,#0016ff,#0014ff,#0011ff,#000eff,#000aff,#0006ff,#0002ff,#0000ff,#0000fe,#0000fd,#0000fe,#0001ff,#0003ff,#0006ff,#0009ff,#000cff,#000fff,#0012ff,#0015ff,#0018ff,#001bff,#001eff,#0021ff,#0021ff)"></i><i style="background:linear-gradient(90deg,#0000e8,#0000eb,#0000ed,#0000ef,#0000f1,#0000f0,#0000e9,#0000df,#0000d7,#0000d0,#0000cd,#0000cc,#0000ce,#0000d2,#0000d7,#0000de,#0000e5,#0000eb,#0000f0,#0000f4,#0000f6,#0000f5,#0000f3,#0000f0,#0000ec,#0000e8,#0000e4,#0000e1,#0000df,#0000de,#0000dd,#0000de,#0000df,#0000e1,#0000e3,#0000e5,#0000e8,#0000ea,#0000ec,#0000ee,#0000f1,#0000f3,#0000f5,#0000f7,#0000f7)"></i><i style="background:linear-gradient(90deg,#0000e9,#0000eb,#0000eb,#0000ec,#0000ed,#0000ea,#0000e2,#0000d9,#0000d0,#0000ca,#0000c6,#0000c5,#0000c5,#0000c8,#0000cb,#0000cf,#0000d4,#0000d8,#0000db,#0000dd,#0000dd,#0000db,#0000d8,#0000d5,#0000d1,#0000ce,#0000ca,#0000c7,#0000c6,#0000c5,#0000c4,#0000c5,#0000c6,#0000c8,#0000c9,#0000cb,#0000cd,#0000cf,#0000d0,#0000d2,#0000d4,#0000d5,#0000d6,#0000d8,#0000d8)"></i><i style="background:linear-gradient(90deg,#0000ee,#0000ef,#0000ee,#0000ee,#0000ed,#0000e9,#0000e1,#0000d9,#0000d2,#0000cc,#0000c9,#0000c7,#0000c6,#0000c8,#0000ca,#0000cc,#0000cf,#0000d1,#0000d1,#0000d1,#0000d0,#0000ce,#0000ca,#0000c7,#0000c3,#0000c0,#0000bd,#0000bb,#0000b9,#0000b9,#0000b9,#0000ba,#0000bb,#0000bd,#0000be,#0000c0,#0000c2,#0000c3,#0000c5,#0000c6,#0000c7,#0000c8,#0000c9,#0000ca,#0000ca)"></i><i style="background:linear-gradient(90deg,#0000f7,#0000f8,#0000f7,#0000f6,#0000f5,#0000f0,#0000e9,#0000e3,#0000de,#0000da,#0000d8,#0000d7,#0000d7,#0000d8,#0000d9,#0000da,#0000da,#0000da,#0000d9,#0000d7,#0000d4,#0000d1,#0000cd,#0000ca,#0000c7,#0000c3,#0000c1,#0000bf,#0000bf,#0000bf,#0000bf,#0000c0,#0000c2,#0000c5,#0000c7,#0000ca,#0000cb,#0000cd,#0000ce,#0000d0,#0000d1,#0000d2,#0000d2,#0000d3,#0000d3)"></i><i style="background:linear-gradient(90deg,#0007ff,#0008ff,#0008ff,#0007ff,#0005ff,#0002ff,#0000fc,#0000f8,#0000f7,#0000f6,#0000f7,#0000f7,#0000f8,#0000fb,#0000fa,#0000f9,#0000f9,#0000f6,#0000f2,#0000ee,#0000ea,#0000e5,#0000e0,#0000de,#0000db,#0000d8,#0000d5,#0000d4,#0000d5,#0000d6,#0000d7,#0000d9,#0000dd,#0000e0,#0000e4,#0000e7,#0000ea,#0000ec,#0000ee,#0000f0,#0000f1,#0000f2,#0000f2,#0000f3,#0000f4)"></i><i style="background:linear-gradient(90deg,#001cff,#001eff,#001eff,#001eff,#001dff,#001cff,#0019ff,#0019ff,#001cff,#0021ff,#0026ff,#0028ff,#002bff,#002fff,#002dff,#002bff,#0029ff,#0023ff,#001cff,#0015ff,#000fff,#0009ff,#0003ff,#0000ff,#0000fc,#0000f9,#0000f7,#0000f7,#0000f9,#0000fb,#0000fd,#0002ff,#0007ff,#000dff,#0012ff,#0018ff,#001bff,#001eff,#0021ff,#0024ff,#0026ff,#0027ff,#0027ff,#0028ff,#0029ff)"></i><i style="background:linear-gradient(90deg,#0037ff,#003aff,#003cff,#003cff,#003dff,#003eff,#003fff,#0043ff,#004cff,#0056ff,#0060ff,#0065ff,#006bff,#0071ff,#006fff,#006aff,#0066ff,#005dff,#0052ff,#0047ff,#003eff,#0036ff,#002dff,#002aff,#0027ff,#0025ff,#0022ff,#0023ff,#0027ff,#002aff,#002eff,#0033ff,#003cff,#0044ff,#004cff,#0055ff,#005aff,#005eff,#0062ff,#0066ff,#0069ff,#006bff,#006cff,#006dff,#006eff)"></i><i style="background:linear-gradient(90deg,#0058ff,#005dff,#0061ff,#0062ff,#0065ff,#0069ff,#006eff,#0077ff,#0087ff,#0097ff,#00a8ff,#00afff,#00b8ff,#00c1ff,#00bdff,#00b6ff,#00afff,#00a2ff,#0092ff,#0082ff,#0075ff,#006aff,#005fff,#005bff,#0058ff,#0055ff,#0052ff,#0054ff,#005aff,#0060ff,#0065ff,#006dff,#0079ff,#0085ff,#0091ff,#009dff,#00a4ff,#00aaff,#00b0ff,#00b6ff,#00bbff,#00bcff,#00beff,#00bfff,#00c1ff)"></i><i style="background:linear-gradient(90deg,#007fff,#0086ff,#008bff,#008eff,#0094ff,#009cff,#00a5ff,#00b4ff,#00cbff,#00e3ff,#00faff,#07fff8,#12ffed,#1effe1,#19ffe6,#0ffff0,#05fffa,#00f2ff,#00dbff,#00c5ff,#00b4ff,#00a5ff,#0096ff,#0092ff,#008eff,#008aff,#0087ff,#008aff,#0092ff,#009aff,#00a3ff,#00adff,#00bdff,#00ceff,#00dfff,#00efff,#00f9ff,#03fffc,#0bfff4,#14ffeb,#19ffe6,#1bffe4,#1effe1,#20ffdf,#22ffdd)"></i><i style="background:linear-gradient(90deg,#00a8ff,#00b2ff,#00b9ff,#00beff,#00c9ff,#00d5ff,#00e3ff,#00f8ff,#18ffe7,#39ffc6,#58ffa7,#67ff98,#77ff88,#86ff79,#7fff80,#72ff8d,#64ff9b,#4cffb3,#2effd1,#11ffee,#00faff,#00e6ff,#00d3ff,#00ceff,#00c9ff,#00c5ff,#00c0ff,#00c5ff,#00d0ff,#00daff,#00e5ff,#00f3ff,#0afff5,#20ffdf,#36ffc9,#4cffb3,#59ffa6,#64ff9b,#6fff90,#7aff85,#81ff7e,#84ff7b,#87ff78,#8aff75,#8cff73)"></i><i style="background:linear-gradient(90deg,#00d3ff,#00deff,#00e8ff,#00f0ff,#00ffff,#12ffed,#25ffda,#41ffbe,#69ff96,#92ff6d,#baff45,#cdff32,#e0ff1f,#f4ff0b,#eaff15,#daff25,#c9ff36,#aaff55,#85ff7a,#60ff9f,#44ffbb,#2cffd3,#13ffec,#0efff1,#08fff7,#02fffd,#00fcff,#03fffc,#11ffee,#1effe1,#2cffd3,#3dffc2,#58ffa7,#74ff8b,#90ff6f,#abff54,#bcff43,#caff35,#d8ff27,#e5ff1a,#efff10,#f3ff0c,#f6ff09,#faff05,#fdff02)"></i><i style="background:linear-gradient(90deg,#00fbff,#0afff5,#16ffe9,#21ffde,#35ffca,#4dffb2,#65ff9a,#87ff78,#b9ff46,#ebff14,#ffe400,#ffcc00,#ffb500,#ff9e00,#ffa900,#ffbe00,#ffd200,#fff700,#daff25,#aeff51,#8dff72,#70ff8f,#52ffad,#4cffb3,#45ffba,#3effc1,#37ffc8,#3fffc0,#4fffb0,#60ff9f,#71ff8e,#85ff7a,#a6ff59,#c7ff38,#e8ff17,#fff400,#ffe100,#ffd000,#ffbf00,#ffaf00,#ffa300,#ff9f00,#ff9b00,#ff9700,#ff9200)"></i><i style="background:linear-gradient(90deg,#20ffdf,#2fffd0,#3effc1,#4cffb3,#64ff9b,#81ff7e,#9dff62,#c6ff39,#fffe00,#ffc400,#ff8d00,#ff7200,#ff5700,#ff3d00,#ff4a00,#ff6100,#ff7800,#ffa300,#ffd700,#f4ff0b,#ceff31,#adff52,#8bff74,#83ff7c,#7bff84,#74ff8b,#6cff93,#75ff8a,#88ff77,#9bff64,#aeff51,#c5ff3a,#ebff14,#ffec00,#ffc600,#ffa000,#ff8900,#ff7600,#ff6300,#ff4f00,#ff4200,#ff3d00,#ff3900,#ff3400,#ff2f00)"></i><i style="background:linear-gradient(90deg,#3bffc4,#4cffb3,#5dffa2,#6dff92,#89ff76,#aaff55,#cbff34,#f8ff07,#ffc500,#ff8500,#ff4700,#ff2a00,#ff0c00,#ee0000,#fc0000,#ff1700,#ff3100,#ff6100,#ff9900,#ffd100,#fffb00,#ddff22,#b8ff47,#b0ff4f,#a7ff58,#9fff60,#96ff69,#9fff60,#b5ff4a,#caff35,#dfff20,#f8ff07,#ffdb00,#ffb100,#ff8700,#ff5c00,#ff4300,#ff2e00,#ff1900,#ff0300,#f40000,#ee0000,#e90000,#e40000,#df0000)"></i><i style="background:linear-gradient(90deg,#4effb1,#60ff9f,#72ff8d,#83ff7c,#a2ff5d,#c5ff3a,#e9ff16,#ffe400,#ff9f00,#ff5a00,#ff1900,#f90000,#d90000,#ba0000,#c90000,#e50000,#ff0100,#ff3400,#ff7000,#ffac00,#ffd900,#feff01,#d6ff29,#cdff32,#c4ff3b,#bbff44,#b2ff4d,#bcff43,#d3ff2c,#e9ff16,#fffe00,#ffe300,#ffb600,#ff8900,#ff5c00,#ff2f00,#ff1400,#fd0000,#e60000,#d00000,#c00000,#ba0000,#b50000,#af0000,#aa0000)"></i><i style="background:linear-gradient(90deg,#56ffa9,#68ff97,#7bff84,#8dff72,#adff52,#d2ff2d,#f7ff08,#ffd500,#ff8e00,#ff4700,#ff0400,#e30000,#c20000,#a20000,#b20000,#ce0000,#ea0000,#ff1f00,#ff5d00,#ff9b00,#ffc800,#fff100,#e4ff1b,#dbff24,#d2ff2d,#c8ff37,#bfff40,#c9ff36,#e0ff1f,#f8ff07,#ffef00,#ffd400,#ffa500,#ff7700,#ff4900,#ff1b00,#fe0000,#e70000,#d00000,#b90000,#a80000,#a30000,#9d0000,#970000,#910000)"></i><i style="background:linear-gradient(90deg,#56ffa9,#68ff97,#7bff84,#8dff72,#adff52,#d2ff2d,#f7ff08,#ffd500,#ff8e00,#ff4700,#ff0400,#e30000,#c20000,#a20000,#b20000,#ce0000,#ea0000,#ff1f00,#ff5d00,#ff9b00,#ffc800,#fff100,#e4ff1b,#dbff24,#d2ff2d,#c8ff37,#bfff40,#c9ff36,#e0ff1f,#f8ff07,#ffef00,#ffd400,#ffa500,#ff7700,#ff4900,#ff1b00,#fe0000,#e70000,#d00000,#b90000,#a80000,#a30000,#9d0000,#970000,#910000)"></i><i style="background:linear-gradient(90deg,#56ffa9,#68ff97,#7bff84,#8dff72,#adff52,#d2ff2d,#f7ff08,#ffd500,#ff8e00,#ff4700,#ff0400,#e30000,#c20000,#a20000,#b20000,#ce0000,#ea0000,#ff1f00,#ff5d00,#ff9b00,#ffc800,#fff100,#e4ff1b,#dbff24,#d2ff2d,#c8ff37,#bfff40,#c9ff36,#e0ff1f,#f8ff07,#ffef00,#ffd400,#ffa500,#ff7700,#ff4900,#ff1b00,#fe0000,#e70000,#d00000,#b90000,#a80000,#a30000,#9d0000,#970000,#910000)"></i></div></div>
<div class="cb" style="left:190px;top:218px"></div>
<div class="h" style="left:265px;top:218px"><div><i style="background:linear-gradient(90deg,#0000a9,#0000a9,#0000aa,#0000ab,#0000ac,#0000ae,#0000b0,#0000b3,#0000b7,#0000bb,#0000be,#0000c1,#0000c2,#0000c1,#0000bf,#0000bc,#0000b8,#0000b5,#0000b1,#0000ae,#0000ac,#0000ab,#0000aa,#0000a9,#0000a9,#0000a9,#0000a8,#0000a8,#0000a8,#0000a8,#0000a8,#0000a8,#0000a8,#0000a8,#0000a8,#0000a8,#0000a8,#0000a8,#0000a8,#0000a8,#0000a8,#0000a8,#0000a8,#0000a8,#0000a8)"></i><i style="background:linear-gradient(90deg,#0000a9,#0000a9,#0000aa,#0000ab,#0000ac,#0000ae,#0000b0,#0000b3,#0000b7,#0000bb,#0000be,#0000c1,#0000c2,#0000c1,#0000bf,#0000bc,#0000b8,#0000b5,#0000b1,#0000ae,#0000ac,#0000ab,#0000aa,#0000a9,#0000a9,#0000a9,#0000a8,#0000a8,#0000a8,#0000a8,#0000a8,#0000a8,#0000a8,#0000a8,#0000a8,#0000a8,#0000a8,#0000a8,#0000a8,#0000a8,#0000a8,#0000a8,#0000a8,#0000a8,#0000a8)"></i><i style="background:linear-gradient(90deg,#0000a9,#0000a9,#0000aa,#0000ab,#0000ac,#0000ae,#0000b0,#0000b3,#0000b7,#0000bb,#0000be,#0000c1,#0000c2,#0000c1,#0000bf,#0000bc,#0000b8,#0000b5,#0000b1,#0000ae,#0000ac,#0000ab,#0000aa,#0000a9,#0000a9,#0000a9,#0000a8,#0000a8,#0000a8,#0000a8,#0000a8,#0000a8,#0000a8,#0000a8,#0000a8,#0000a8,#0000a8,#0000a8,#0000a8,#0000a8,#0000a8,#0000a8,#0000a8,#0000a8,#0000a8)"></i><i style="background:linear-gradient(90deg,#0000a9,#0000a9,#0000aa,#0000ab,#0000ac,#0000ae,#0000b0,#0000b3,#0000b7,#0000bb,#0000be,#0000c1,#0000c2,#0000c1,#0000bf,#0000bc,#0000b8,#0000b5,#0000b1,#0000af,#0000ac,#0000ab,#0000aa,#0000a9,#0000a9,#0000a9,#0000a8,#0000a8,#0000a8,#0000a8,#0000a8,#0000a8,#0000a8,#0000a8,#0000a8,#0000a8,#0000a8,#0000a8,#0000a8,#0000a8,#0000a8,#0000a8,#0000a8,#0000a8,#0000a8)"></i><i style="background:linear-gradient(90deg,#0000a9,#0000a9,#0000aa,#0000ab,#0000ac,#0000ae,#0000b0,#0000b3,#0000b7,#0000bb,#0000bf,#0000c1,#0000c2,#0000c2,#0000bf,#0000bc,#0000b9,#0000b5,#0000b1,#0000af,#0000ac,#0000ab,#0000aa,#0000a9,#0000a9,#0000a9,#0000a8,#0000a8,#0000a8,#0000a8,#0000a8,#0000a8,#0000a8,#0000a8,#0000a8,#0000a8,#0000a8,#0000a8,#0000a8,#0000a8,#0000a8,#0000a8,#0000a8,#0000a8,#0000a8)"></i><i style="background:linear-gradient(90deg,#0000a9,#0000a9,#0000aa,#0000ab,#0000ac,#0000ae,#0000b0,#0000b3,#0000b7,#0000bb,#0000bf,#0000c2,#0000c3,#0000c2,#0000c0,#0000bd,#0000b9,#0000b5,#0000b2,#0000af,#0000ac,#0000ab,#0000aa,#0000a9,#0000a9,#0000a9,#0000a8,#0000a8,#0000a8,#0000a8,#0000a8,#0000a8,#0000a8,#0000a8,#0000a8,#0000a8,#0000a8,#0000a8,#0000a8,#0000a8,#0000a8,#0000a8,#0000a8,#0000a8,#0000a8)"></i><i style="background:linear-gradient(90deg,#0000a9,#0000a9,#0000aa,#0000ab,#0000ac,#0000ae,#0000b0,#0000b3,#0000b7,#0000bb,#0000bf,#0000c2,#0000c3,#0000c2,#0000c0,#0000bd,#0000b9,#0000b5,#0000b2,#0000af,#0000ac,#0000ab,#0000aa,#0000a9,#0000a9,#0000a9,#0000a8,#0000a8,#0000a8,#0000a8,#0000a8,#0000a8,#0000a8,#0000a8,#0000a8,#0000a8,#0000a8,#0000a8,#0000a8,#0000a8,#0000a8,#0000a8,#0000a8,#0000a8,#0000a8)"></i><i style="background:linear-gradient(90deg,#0000a9,#0000a9,#0000aa,#0000ab,#0000ac,#0000ae,#0000b0,#0000b3,#0000b7,#0000bb,#0000bf,#0000c2,#0000c3,#0000c2,#0000c0,#0000bd,#0000b9,#0000b5,#0000b2,#0000af,#0000ad,#0000ab,#0000aa,#0000a9,#0000a9,#0000a9,#0000a8,#0000a8,#0000a8,#0000a8,#0000a8,#0000a8,#0000a8,#0000a8,#0000a8,#0000a8,#0000a8,#0000a8,#0000a8,#0000a8,#0000a8,#0000a8,#0000a8,#0000a8,#0000a8)"></i><i style="background:linear-gradient(90deg,#0000a9,#0000a9,#0000aa,#0000ab,#0000ac,#0000ae,#0000b0,#0000b3,#0000b7,#0000bb,#0000bf,#0000c2,#0000c4,#0000c3,#0000c1,#0000bd,#0000b9,#0000b5,#0000b2,#0000af,#0000ad,#0000ab,#0000aa,#0000a9,#0000a9,#0000a9,#0000a8,#0000a8,#0000a8,#0000a8,#0000a8,#0000a8,#0000a8,#0000a8,#0000a8,#0000a8,#0000a8,#0000a8,#0000a8,#0000a8,#0000a8,#0000a8,#0000a8,#0000a8,#0000a8)"></i><i style="background:linear-gradient(90deg,#0000a9,#0000a9,#0000aa,#0000ab,#0000ac,#0000ae,#0000b0,#0000b3,#0000b7,#0000bc,#0000c0,#0000c3,#0000c4,#0000c3,#0000c1,#0000bd,#0000ba,#0000b6,#0000b2,#0000af,#0000ad,#0000ab,#0000aa,#0000a9,#0000a9,#0000a9,#0000a8,#0000a8,#0000a8,#0000a8,#0000a8,#0000a8,#0000a8,#0000a8,#0000a8,#0000a8,#0000a8,#0000a8,#0000a8,#0000a8,#0000a8,#0000a8,#0000a8,#0000a8,#0000a8)"></i><i style="background:linear-gradient(90deg,#0000a9,#0000a9,#0000aa,#0000ab,#0000ac,#0000ae,#0000b0,#0000b4,#0000b7,#0000bc,#0000c0,#0000c3,#0000c4,#0000c3,#0000c1,#0000be,#0000ba,#0000b6,#0000b2,#0000af,#0000ad,#0000ab,#0000aa,#0000a9,#0000a9,#0000a9,#0000a8,#0000a8,#0000a8,#0000a8,#0000a8,#0000a8,#0000a8,#0000a8,#0000a8,#0000a8,#0000a8,#0000a8,#0000a8,#0000a8,#0000a8,#0000a8,#0000a8,#0000a8,#0000a8)"></i><i style="background:linear-gradient(90deg,#0000a9,#0000a9,#0000aa,#0000ab,#0000ac,#0000ae,#0000b0,#0000b4,#0000b8,#0000bc,#0000c0,#0000c3,#0000c5,#0000c4,#0000c1,#0000be,#0000ba,#0000b6,#0000b2,#0000af,#0000ad,#0000ab,#0000aa,#0000a9,#0000a9,#0000a9,#0000a8,#0000a8,#0000a8,#0000a8,#0000a8,#0000a8,#0000a8,#0000a8,#0000a8,#0000a8,#0000a8,#0000a8,#0000a8,#0000a8,#0000a8,#0000a8,#0000a8,#0000a8,#0000a8)"></i><i style="background:linear-gradient(90deg,#0000a9,#0000a9,#0000aa,#0000ab,#0000ac,#0000ae,#0000b0,#0000b4,#0000b8,#0000bc,#0000c0,#0000c4,#0000c5,#0000c4,#0000c2,#0000be,#0000ba,#0000b6,#0000b2,#0000af,#0000ad,#0000ab,#0000aa,#0000a9,#0000a9,#0000a9,#0000a8,#0000a8,#0000a8,#0000a8,#0000a8,#0000a8,#0000a8,#0000a8,#0000a8,#0000a8,#0000a8,#0000a8,#0000a8,#0000a8,#0000a8,#0000a8,#0000a8,#0000a8,#0000a8)"></i><i style="background:linear-gradient(90deg,#0000a9,#0000a9,#0000aa,#0000ab,#0000ac,#0000ae,#0000b0,#0000b4,#0000b8,#0000bc,#0000c1,#0000c4,#0000c5,#0000c4,#0000c2,#0000be,#0000ba,#0000b6,#0000b2,#0000af,#0000ad,#0000ab,#0000aa,#0000a9,#0000a9,#0000a9,#0000a8,#0000a8,#0000a8,#0000a8,#0000a8,#0000a8,#0000a8,#0000a8,#0000a8,#0000a8,#0000a8,#0000a8,#0000a8,#0000a8,#0000a8,#0000a8,#0000a8,#0000a8,#0000a8)"></i><i style="background:linear-gradient(90deg,#0000a9,#0000a9,#0000aa,#0000ab,#0000ac,#0000ae,#0000b0,#0000b4,#0000b8,#0000bc,#0000c1,#0000c4,#0000c5,#0000c5,#0000c2,#0000bf,#0000bb,#0000b6,#0000b3,#0000af,#0000ad,#0000ab,#0000aa,#0000a9,#0000a9,#0000a9,#0000a8,#0000a8,#0000a8,#0000a8,#0000a8,#0000a8,#0000a8,#0000a8,#0000a8,#0000a8,#0000a8,#0000a8,#0000a8,#0000a8,#0000a8,#0000a8,#0000a8,#0000a8,#0000a8)"></i><i style="background:linear-gradient(90deg,#0000a9,#0000a9,#0000aa,#0000ab,#0000ac,#0000ae,#0000b0,#0000b4,#0000b8,#0000bd,#0000c1,#0000c4,#0000c6,#0000c5,#0000c2,#0000bf,#0000bb,#0000b7,#0000b3,#0000af,#0000ad,#0000ab,#0000aa,#0000a9,#0000a9,#0000a9,#0000a8,#0000a8,#0000a8,#0000a8,#0000a8,#0000a8,#0000a8,#0000a8,#0000a8,#0000a8,#0000a8,#0000a8,#0000a8,#0000a8,#0000a8,#0000a8,#0000a8,#0000a8,#0000a8)"></i><i style="background:linear-gradient(90deg,#0000a9,#0000a9,#0000aa,#0000ab,#0000ac,#0000ae,#0000b0,#0000b4,#0000b8,#0000bd,#0000c1,#0000c5,#0000c6,#0000c5,#0000c3,#0000bf,#0000bb,#0000b7,#0000b3,#0000af,#0000ad,#0000ab,#0000aa,#0000a9,#0000a9,#0000a9,#0000a8,#0000a8,#0000a8,#0000a8,#0000a8,#0000a8,#0000a8,#0000a8,#0000a8,#0000a8,#0000a8,#0000a8,#0000a8,#0000a8,#0000a8,#0000a8,#0000a8,#0000a8,#0000a8)"></i><i style="background:linear-gradient(90deg,#0000a9,#0000a9,#0000aa,#0000ab,#0000ac,#0000ae,#0000b1,#0000b4,#0000b8,#0000bd,#0000c1,#0000c5,#0000c6,#0000c5,#0000c3,#0000bf,#0000bb,#0000b7,#0000b3,#0000b0,#0000ad,#0000ab,#0000aa,#0000a9,#0000a9,#0000a9,#0000a8,#0000a8,#0000a8,#0000a8,#0000a8,#0000a8,#0000a8,#0000a8,#0000a8,#0000a8,#0000a8,#0000a8,#0000a8,#0000a8,#0000a8,#0000a8,#0000a8,#0000a8,#0000a8)"></i><i style="background:linear-gradient(90deg,#0000a9,#0000a9,#0000aa,#0000ab,#0000ac,#0000ae,#0000b1,#0000b4,#0000b8,#0000bd,#0000c2,#0000c5,#0000c7,#0000c6,#0000c3,#0000c0,#0000bb,#0000b7,#0000b3,#0000b0,#0000ad,#0000ab,#0000aa,#0000a9,#0000a9,#0000a9,#0000a8,#0000a8,#0000a8,#0000a8,#0000a8,#0000a8,#0000a8,#0000a8,#0000a8,#0000a8,#0000a8,#0000a8,#0000a8,#0000a8,#0000a8,#0000a8,#0000a8,#0000a8,#0000a8)"></i><i style="background:linear-gradient(90deg,#0000a9,#0000a9,#0000aa,#0000ab,#0000ac,#0000ae,#0000b1,#0000b4,#0000b8,#0000bd,#0000c2,#0000c5,#0000c7,#0000c6,#0000c4,#0000c0,#0000bc,#0000b7,#0000b3,#0000b0,#0000ad,#0000ab,#0000aa,#0000a9,#0000a9,#0000a9,#0000a8,#0000a8,#0000a8,#0000a8,#0000a8,#0000a8,#0000a8,#0000a8,#0000a8,#0000a8,#0000a8,#0000a8,#0000a8,#0000a8,#0000a8,#0000a8,#0000a8,#0000a8,#0000a8)"></i><i style="background:linear-gradient(90deg,#0000a9,#0000a9,#0000aa,#0000ab,#0000ac,#0000ae,#0000b1,#0000b4,#0000b8,#0000bd,#0000c2,#0000c6,#0000c7,#0000c6,#0000c4,#0000c0,#0000bc,#0000b7,#0000b3,#0000b0,#0000ad,#0000ab,#0000aa,#0000a9,#0000a9,#0000a9,#0000a8,#0000a8,#0000a8,#0000a8,#0000a8,#0000a8,#0000a8,#0000a8,#0000a8,#0000a8,#0000a8,#0000a8,#0000a8,#0000a8,#0000a8,#0000a8,#0000a8,#0000a8,#0000a8)"></i><i style="background:linear-gradient(90deg,#0000a9,#0000a9,#0000aa,#0000ab,#0000ac,#0000ae,#0000b1,#0000b4,#0000b9,#0000bd,#0000c2,#0000c6,#0000c8,#0000c7,#0000c4,#0000c0,#0000bc,#0000b7,#0000b3,#0000b0,#0000ad,#0000ab,#0000aa,#0000a9,#0000a9,#0000a9,#0000a8,#0000a8,#0000a8,#0000a8,#0000a8,#0000a8,#0000a8,#0000a8,#0000a8,#0000a8,#0000a8,#0000a8,#0000a8,#0000a8,#0000a8,#0000a8,#0000a8,#0000a8,#0000a8)"></i><i style="background:linear-gradient(90deg,#0000a9,#0000a9,#0000aa,#0000ab,#0000ac,#0000ae,#0000b1,#0000b4,#0000b9,#0000be,#0000c2,#0000c6,#0000c8,#0000c7,#0000c4,#0000c1,#0000bc,#0000b8,#0000b3,#0000b0,#0000ad,#0000ab,#0000aa,#0000a9,#0000a9,#0000a9,#0000a8,#0000a8,#0000a8,#0000a8,#0000a8,#0000a8,#0000a8,#0000a8,#0000a8,#0000a8,#0000a8,#0000a8,#0000a8,#0000a8,#0000a8,#0000a8,#0000a8,#0000a8,#0000a8)"></i><i style="background:linear-gradient(90deg,#0000a9,#0000a9,#0000aa,#0000ab,#0000ac,#0000ae,#0000b1,#0000b4,#0000b9,#0000be,#0000c3,#0000c7,#0000c8,#0000c7,#0000c5,#0000c1,#0000bc,#0000b8,#0000b4,#0000b0,#0000ad,#0000ab,#0000aa,#0000a9,#0000a9,#0000a9,#0000a8,#0000a8,#0000a8,#0000a8,#0000a8,#0000a8,#0000a8,#0000a8,#0000a8,#0000a8,#0000a8,#0000a8,#0000a8,#0000a8,#0000a8,#0000a8,#0000a8,#0000a8,#0000a8)"></i><i style="background:linear-gradient(90deg,#0000a9,#0000a9,#0000aa,#0000ab,#0000ac,#0000ae,#0000b1,#0000b4,#0000b9,#0000be,#0000c3,#0000c7,#0000c8,#0000c8,#0000c5,#0000c1,#0000bd,#0000b8,#0000b4,#0000b0,#0000ad,#0000ab,#0000aa,#0000a9,#0000a9,#0000a9,#0000a8,#0000a8,#0000a8,#0000a8,#0000a8,#0000a8,#0000a8,#0000a8,#0000a8,#0000a8,#0000a8,#0000a8,#0000a8,#0000a8,#0000a8,#0000a8,#0000a8,#0000a8,#0000a8)"></i><i style="background:linear-gradient(90deg,#0000a9,#0000a9,#0000aa,#0000ab,#0000ac,#0000ae,#0000b1,#0000b4,#0000b9,#0000be,#0000c3,#0000c7,#0000c9,#0000c8,#0000c5,#0000c1,#0000bd,#0000b8,#0000b4,#0000b0,#0000ad,#0000ab,#0000aa,#0000a9,#0000a9,#0000a9,#0000a8,#0000a8,#0000a8,#0000a8,#0000a8,#0000a8,#0000a8,#0000a8,#0000a8,#0000a8,#0000a8,#0000a8,#0000a8,#0000a8,#0000a8,#0000a8,#0000a8,#0000a8,#0000a8)"></i><i style="background:linear-gradient(90deg,#0000a9,#0000a9,#0000aa,#0000ab,#0000ac,#0000ae,#0000b1,#0000b4,#0000b9,#0000be,#0000c3,#0000c7,#0000c9,#0000c8,#0000c6,#0000c2,#0000bd,#0000b8,#0000b4,#0000b0,#0000ad,#0000ab,#0000aa,#0000a9,#0000a9,#0000a9,#0000a8,#0000a8,#0000a8,#0000a8,#0000a8,#0000a8,#0000a8,#0000a8,#0000a8,#0000a8,#0000a8,#0000a8,#0000a8,#0000a8,#0000a8,#0000a8,#0000a8,#0000a8,#0000a8)"></i><i style="background:linear-gradient(90deg,#0000a9,#0000a9,#0000aa,#0000ab,#0000ac,#0000ae,#0000b1,#0000b4,#0000b9,#0000be,#0000c4,#0000c8,#0000c9,#0000c8,#0000c6,#0000c2,#0000bd,#0000b8,#0000b4,#0000b0,#0000ad,#0000ab,#0000aa,#0000a9,#0000a9,#0000a9,#0000a8,#0000a8,#0000a8,#0000a8,#0000a8,#0000a8,#0000a8,#0000a8,#0000a8,#0000a8,#0000a8,#0000a8,#0000a8,#0000a8,#0000a8,#0000a8,#0000a8,#0000a8,#0000a8)"></i><i style="background:linear-gradient(90deg,#0000a9,#0000a9,#0000aa,#0000ab,#0000ac,#0000ae,#0000b1,#0000b4,#0000b9,#0000bf,#0000c4,#0000c8,#0000ca,#0000c9,#0000c6,#0000c2,#0000bd,#0000b8,#0000b4,#0000b0,#0000ae,#0000ab,#0000aa,#0000a9,#0000a9,#0000a9,#0000a8,#0000a8,#0000a8,#0000a8,#0000a8,#0000a8,#0000a8,#0000a8,#0000a8,#0000a8,#0000a8,#0000a8,#0000a8,#0000a8,#0000a8,#0000a8,#0000a8,#0000a8,#0000a8)"></i><i style="background:linear-gradient(90deg,#0000a9,#0000a9,#0000aa,#0000ab,#0000ac,#0000ae,#0000b1,#0000b5,#0000b9,#0000bf,#0000c4,#0000c8,#0000ca,#0000c9,#0000c6,#0000c2,#0000be,#0000b9,#0000b4,#0000b0,#0000ae,#0000ac,#0000aa,#0000a9,#0000a9,#0000a9,#0000a8,#0000a8,#0000a8,#0000a8,#0000a8,#0000a8,#0000a8,#0000a8,#0000a8,#0000a8,#0000a8,#0000a8,#0000a8,#0000a8,#0000a8,#0000a8,#0000a8,#0000a8,#0000a8)"></i><i style="background:linear-gradient(90deg,#0000a9,#0000a9,#0000aa,#0000ab,#0000ac,#0000ae,#0000b1,#0000b5,#0000b9,#0000bf,#0000c4,#0000c8,#0000ca,#0000c9,#0000c7,#0000c3,#0000be,#0000b9,#0000b4,#0000b0,#0000ae,#0000ac,#0000aa,#0000a9,#0000a9,#0000a9,#0000a8,#0000a8,#0000a8,#0000a8,#0000a8,#0000a8,#0000a8,#0000a8,#0000a8,#0000a8,#0000a8,#0000a8,#0000a8,#0000a8,#0000a8,#0000a8,#0000a8,#0000a8,#0000a8)"></i><i style="background:linear-gradient(90deg,#0000a9,#0000a9,#0000aa,#0000ab,#0000ac,#0000ae,#0000b1,#0000b5,#0000b9,#0000bf,#0000c4,#0000c9,#0000cb,#0000ca,#0000c7,#0000c3,#0000be,#0000b9,#0000b4,#0000b1,#0000ae,#0000ac,#0000aa,#0000a9,#0000a9,#0000a9,#0000a8,#0000a8,#0000a8,#0000a8,#0000a8,#0000a8,#0000a8,#0000a8,#0000a8,#0000a8,#0000a8,#0000a8,#0000a8,#0000a8,#0000a8,#0000a8,#0000a8,#0000a8,#0000a8)"></i><i style="background:linear-gradient(90deg,#0000a9,#0000a9,#0000aa,#0000ab,#0000ac,#0000ae,#0000b1,#0000b5,#0000ba,#0000bf,#0000c5,#0000c9,#0000cb,#0000ca,#0000c7,#0000c3,#0000be,#0000b9,#0000b4,#0000b1,#0000ae,#0000ac,#0000aa,#0000a9,#0000a9,#0000a9,#0000a8,#0000a8,#0000a8,#0000a8,#0000a8,#0000a8,#0000a8,#0000a8,#0000a8,#0000a8,#0000a8,#0000a8,#0000a8,#0000a8,#0000a8,#0000a8,#0000a8,#0000a8,#0000a8)"></i><i style="background:linear-gradient(90deg,#0000a9,#0000a9,#0000aa,#0000ab,#0000ac,#0000ae,#0000b1,#0000b5,#0000ba,#0000bf,#0000c5,#0000c9,#0000cb,#0000ca,#0000c7,#0000c3,#0000be,#0000b9,#0000b5,#0000b1,#0000ae,#0000ac,#0000aa,#0000a9,#0000a9,#0000a9,#0000a8,#0000a8,#0000a8,#0000a8,#0000a8,#0000a8,#0000a8,#0000a8,#0000a8,#0000a8,#0000a8,#0000a8,#0000a8,#0000a8,#0000a8,#0000a8,#0000a8,#0000a8,#0000a8)"></i><i style="background:linear-gradient(90deg,#0000a9,#0000a9,#0000aa,#0000ab,#0000ac,#0000ae,#0000b1,#0000b5,#0000ba,#0000bf,#0000c5,#0000ca,#0000cb,#0000cb,#0000c8,#0000c4,#0000bf,#0000b9,#0000b5,#0000b1,#0000ae,#0000ac,#0000aa,#0000a9,#0000a9,#0000a9,#0000a8,#0000a8,#0000a8,#0000a8,#0000a8,#0000a8,#0000a8,#0000a8,#0000a8,#0000a8,#0000a8,#0000a8,#0000a8,#0000a8,#0000a8,#0000a8,#0000a8,#0000a8,#0000a8)"></i><i style="background:linear-gradient(90deg,#0000a9,#0000a9,#0000aa,#0000ab,#0000ac,#0000ae,#0000b1,#0000b5,#0000ba,#0000c0,#0000c5,#0000ca,#0000cc,#0000cb,#0000c8,#0000c4,#0000bf,#0000ba,#0000b5,#0000b1,#0000ae,#0000ac,#0000aa,#0000a9,#0000a9,#0000a9,#0000a8,#0000a8,#0000a8,#0000a8,#0000a8,#0000a8,#0000a8,#0000a8,#0000a8,#0000a8,#0000a8,#0000a8,#0000a8,#0000a8,#0000a8,#0000a8,#0000a8,#0000a8,#0000a8)"></i><i style="background:linear-gradient(90deg,#0000a9,#0000a9,#0000aa,#0000ab,#0000ac,#0000ae,#0000b1,#0000b5,#0000ba,#0000c1,#0000c7,#0000cc,#0000ce,#0000cd,#0000ca,#0000c5,#0000c0,#0000bb,#0000b6,#0000b1,#0000ae,#0000ac,#0000aa,#0000a9,#0000a9,#0000a9,#0000a8,#0000a8,#0000a8,#0000a8,#0000a8,#0000a8,#0000a8,#0000a8,#0000a8,#0000a8,#0000a8,#0000a8,#0000a8,#0000a8,#0000a8,#0000a8,#0000a8,#0000a8,#0000a8)"></i><i style="background:linear-gradient(90deg,#0000a9,#0000a9,#0000aa,#0000ab,#0000ac,#0000ae,#0000b1,#0000b6,#0000bb,#0000c2,#0000c8,#0000ce,#0000d0,#0000cf,#0000cc,#0000c7,#0000c1,#0000bc,#0000b6,#0000b2,#0000ae,#0000ac,#0000aa,#0000a9,#0000a9,#0000a9,#0000a8,#0000a8,#0000a8,#0000a8,#0000a8,#0000a8,#0000a8,#0000a8,#0000a8,#0000a8,#0000a8,#0000a8,#0000a8,#0000a8,#0000a8,#0000a8,#0000a8,#0000a8,#0000a8)"></i><i style="background:linear-gradient(90deg,#0000a9,#0000a9,#0000aa,#0000ab,#0000ac,#0000ae,#0000b2,#0000b6,#0000bc,#0000c3,#0000ca,#0000d0,#0000d2,#0000d1,#0000ce,#0000c9,#0000c3,#0000bd,#0000b7,#0000b2,#0000af,#0000ac,#0000ab,#0000aa,#0000a9,#0000a9,#0000a8,#0000a8,#0000a8,#0000a8,#0000a8,#0000a8,#0000a8,#0000a8,#0000a8,#0000a8,#0000a8,#0000a8,#0000a8,#0000a8,#0000a8,#0000a8,#0000a8,#0000a8,#0000a8)"></i><i style="background:linear-gradient(90deg,#0000a9,#0000a9,#0000aa,#0000ab,#0000ac,#0000ae,#0000b2,#0000b6,#0000bd,#0000c4,#0000cb,#0000d1,#0000d4,#0000d3,#0000d0,#0000cb,#0000c4,#0000be,#0000b8,#0000b3,#0000af,#0000ac,#0000ab,#0000aa,#0000a9,#0000a9,#0000a8,#0000a8,#0000a8,#0000a8,#0000a8,#0000a8,#0000a8,#0000a8,#0000a8,#0000a8,#0000a8,#0000a8,#0000a8,#0000a8,#0000a8,#0000a8,#0000a8,#0000a8,#0000a8)"></i><i style="background:linear-gradient(90deg,#0000a9,#0000a9,#0000aa,#0000ab,#0000ac,#0000af,#0000b2,#0000b7,#0000bd,#0000c5,#0000cd,#0000d3,#0000d6,#0000d5,#0000d2,#0000cc,#0000c6,#0000bf,#0000b9,#0000b3,#0000af,#0000ad,#0000ab,#0000aa,#0000a9,#0000a9,#0000a8,#0000a8,#0000a8,#0000a8,#0000a8,#0000a8,#0000a8,#0000a8,#0000a8,#0000a8,#0000a8,#0000a8,#0000a8,#0000a8,#0000a8,#0000a8,#0000a8,#0000a8,#0000a8)"></i><i style="background:linear-gradient(90deg,#0000a9,#0000a9,#0000aa,#0000ab,#0000ac,#0000af,#0000b2,#0000b7,#0000be,#0000c6,#0000cf,#0000d5,#0000d9,#0000d8,#0000d4,#0000ce,#0000c7,#0000c0,#0000b9,#0000b4,#0000b0,#0000ad,#0000ab,#0000aa,#0000a9,#0000a9,#0000a8,#0000a8,#0000a8,#0000a8,#0000a8,#0000a8,#0000a8,#0000a8,#0000a8,#0000a8,#0000a8,#0000a8,#0000a8,#0000a8,#0000a8,#0000a8,#0000a8,#0000a8,#0000a8)"></i><i style="background:linear-gradient(90deg,#0000a9,#0000a9,#0000aa,#0000ab,#0000ac,#0000af,#0000b2,#0000b8,#0000bf,#0000c7,#0000d0,#0000d7,#0000db,#0000da,#0000d6,#0000d0,#0000c9,#0000c1,#0000ba,#0000b5,#0000b0,#0000ad,#0000ab,#0000aa,#0000a9,#0000a9,#0000a8,#0000a8,#0000a8,#0000a8,#0000a8,#0000a8,#0000a8,#0000a8,#0000a8,#0000a8,#0000a8,#0000a8,#0000a8,#0000a8,#0000a8,#0000a8,#0000a8,#0000a8,#0000a8)"></i><i style="background:linear-gradient(90deg,#0000a9,#0000a9,#0000aa,#0000ab,#0000ac,#0000af,#0000b2,#0000b8,#0000bf,#0000c8,#0000d2,#0000d9,#0000dd,#0000dc,#0000d8,#0000d2,#0000ca,#0000c2,#0000bb,#0000b5,#0000b0,#0000ad,#0000ab,#0000aa,#0000a9,#0000a9,#0000a8,#0000a8,#0000a8,#0000a8,#0000a8,#0000a8,#0000a8,#0000a8,#0000a8,#0000a8,#0000a8,#0000a8,#0000a8,#0000a8,#0000a8,#0000a8,#0000a8,#0000a8,#0000a8)"></i><i style="background:linear-gradient(90deg,#0000a9,#0000a9,#0000aa,#0000ab,#0000ac,#0000af,#0000b3,#0000b8,#0000c0,#0000ca,#0000d3,#0000db,#0000df,#0000de,#0000da,#0000d3,#0000cb,#0000c3,#0000bc,#0000b6,#0000b1,#0000ad,#0000ab,#0000aa,#0000a9,#0000a9,#0000a8,#0000a8,#0000a8,#0000a8,#0000a8,#0000a8,#0000a8,#0000a8,#0000a8,#0000a8,#0000a8,#0000a8,#0000a8,#0000a8,#0000a8,#0000a8,#0000a8,#0000a8,#0000a8)"></i><i style="background:linear-gradient(90deg,#0000a9,#0000a9,#0000aa,#0000ab,#0000ac,#0000af,#0000b3,#0000b9,#0000c1,#0000cb,#0000d5,#0000dd,#0000e1,#0000e0,#0000dc,#0000d5,#0000cd,#0000c4,#0000bd,#0000b6,#0000b1,#0000ae,#0000ab,#0000aa,#0000a9,#0000a9,#0000a8,#0000a8,#0000a8,#0000a8,#0000a8,#0000a8,#0000a8,#0000a8,#0000a8,#0000a8,#0000a8,#0000a8,#0000a8,#0000a8,#0000a8,#0000a8,#0000a8,#0000a8,#0000a8)"></i><i style="background:linear-gradient(90deg,#0000a9,#0000a9,#0000aa,#0000ab,#0000ac,#0000af,#0000b3,#0000b9,#0000c1,#0000cc,#0000d7,#0000df,#0000e3,#0000e2,#0000de,#0000d7,#0000ce,#0000c5,#0000bd,#0000b7,#0000b1,#0000ae,#0000ab,#0000aa,#0000a9,#0000a9,#0000a8,#0000a8,#0000a8,#0000a8,#0000a8,#0000a8,#0000a8,#0000a8,#0000a8,#0000a8,#0000a8,#0000a8,#0000a8,#0000a8,#0000a8,#0000a8,#0000a8,#0000a8,#0000a8)"></i><i style="background:linear-gradient(90deg,#0000a9,#0000a9,#0000aa,#0000ab,#0000ac,#0000af,#0000b3,#0000b9,#0000c2,#0000cd,#0000d8,#0000e1,#0000e6,#0000e5,#0000e0,#0000d8,#0000d0,#0000c6,#0000be,#0000b7,#0000b2,#0000ae,#0000ac,#0000aa,#0000a9,#0000a9,#0000a8,#0000a8,#0000a8,#0000a8,#0000a8,#0000a8,#0000a8,#0000a8,#0000a8,#0000a8,#0000a8,#0000a8,#0000a8,#0000a8,#0000a8,#0000a8,#0000a8,#0000a8,#0000a8)"></i><i style="background:linear-gradient(90deg,#0000a9,#0000a9,#0000aa,#0000ab,#0000ad,#0000af,#0000b3,#0000ba,#0000c3,#0000ce,#0000da,#0000e3,#0000e8,#0000e7,#0000e2,#0000da,#0000d1,#0000c8,#0000bf,#0000b8,#0000b2,#0000ae,#0000ac,#0000aa,#0000a9,#0000a9,#0000a8,#0000a8,#0000a8,#0000a8,#0000a8,#0000a8,#0000a8,#0000a8,#0000a8,#0000a8,#0000a8,#0000a8,#0000a8,#0000a8,#0000a8,#0000a8,#0000a8,#0000a8,#0000a8)"></i><i style="background:linear-gradient(90deg,#0000a9,#0000a9,#0000aa,#0000ab,#0000ad,#0000af,#0000b4,#0000ba,#0000c4,#0000cf,#0000db,#0000e5,#0000ea,#0000e9,#0000e4,#0000dc,#0000d2,#0000c9,#0000c0,#0000b8,#0000b2,#0000ae,#0000ac,#0000aa,#0000a9,#0000a9,#0000a8,#0000a8,#0000a8,#0000a8,#0000a8,#0000a8,#0000a8,#0000a8,#0000a8,#0000a8,#0000a8,#0000a8,#0000a8,#0000a8,#0000a8,#0000a8,#0000a8,#0000a8,#0000a8)"></i><i style="background:linear-gradient(90deg,#0000a9,#0000a9,#0000aa,#0000ab,#0000ad,#0000af,#0000b4,#0000bb,#0000c5,#0000d1,#0000dd,#0000e8,#0000ed,#0000ec,#0000e7,#0000de,#0000d4,#0000ca,#0000c1,#0000b9,#0000b3,#0000af,#0000ac,#0000aa,#0000a9,#0000a9,#0000a9,#0000a8,#0000a8,#0000a8,#0000a8,#0000a8,#0000a8,#0000a8,#0000a8,#0000a8,#0000a8,#0000a8,#0000a8,#0000a8,#0000a8,#0000a8,#0000a8,#0000a8,#0000a8)"></i><i style="background:linear-gradient(90deg,#0000a9,#0000a9,#0000aa,#0000ab,#0000ad,#0000af,#0000b4,#0000bb,#0000c5,#0000d2,#0000e0,#0000eb,#0000f0,#0000ef,#0000e9,#0000e1,#0000d6,#0000cc,#0000c2,#0000ba,#0000b3,#0000af,#0000ac,#0000aa,#0000a9,#0000a9,#0000a9,#0000a8,#0000a8,#0000a8,#0000a8,#0000a8,#0000a8,#0000a8,#0000a8,#0000a8,#0000a8,#0000a8,#0000a8,#0000a8,#0000a8,#0000a8,#0000a8,#0000a8,#0000a8)"></i><i style="background:linear-gradient(90deg,#0000a9,#0000a9,#0000aa,#0000ab,#0000ad,#0000b0,#0000b4,#0000bc,#0000c6,#0000d4,#0000e2,#0000ed,#0000f3,#0000f2,#0000ec,#0000e3,#0000d8,#0000cd,#0000c3,#0000ba,#0000b4,#0000af,#0000ac,#0000aa,#0000a9,#0000a9,#0000a9,#0000a8,#0000a8,#0000a8,#0000a8,#0000a8,#0000a8,#0000a8,#0000a8,#0000a8,#0000a8,#0000a8,#0000a8,#0000a8,#0000a8,#0000a8,#0000a8,#0000a8,#0000a8)"></i><i style="background:linear-gradient(90deg,#0000a9,#0000a9,#0000aa,#0000ab,#0000ad,#0000b0,#0000b5,#0000bc,#0000c7,#0000d5,#0000e4,#0000f0,#0000f6,#0000f5,#0000ef,#0000e6,#0000da,#0000cf,#0000c4,#0000bb,#0000b4,#0000b0,#0000ac,#0000aa,#0000a9,#0000a9,#0000a9,#0000a8,#0000a8,#0000a8,#0000a8,#0000a8,#0000a8,#0000a8,#0000a8,#0000a8,#0000a8,#0000a8,#0000a8,#0000a8,#0000a8,#0000a8,#0000a8,#0000a8,#0000a8)"></i><i style="background:linear-gradient(90deg,#0000a9,#0000a9,#0000aa,#0000ab,#0000ad,#0000b0,#0000b5,#0000bd,#0000c8,#0000d7,#0000e6,#0000f3,#0000f9,#0000f8,#0000f2,#0000e8,#0000dc,#0000d0,#0000c5,#0000bc,#0000b5,#0000b0,#0000ad,#0000ab,#0000a9,#0000a9,#0000a9,#0000a8,#0000a8,#0000a8,#0000a8,#0000a8,#0000a8,#0000a8,#0000a8,#0000a8,#0000a8,#0000a8,#0000a8,#0000a8,#0000a8,#0000a8,#0000a8,#0000a8,#0000a8)"></i><i style="background:linear-gradient(90deg,#0000a9,#0000a9,#0000aa,#0000ab,#0000ad,#0000b0,#0000b5,#0000bd,#0000c9,#0000d8,#0000e8,#0000f5,#0000fc,#0000fb,#0000f4,#0000ea,#0000de,#0000d2,#0000c6,#0000bd,#0000b5,#0000b0,#0000ad,#0000ab,#0000a9,#0000a9,#0000a9,#0000a8,#0000a8,#0000a8,#0000a8,#0000a8,#0000a8,#0000a8,#0000a8,#0000a8,#0000a8,#0000a8,#0000a8,#0000a8,#0000a8,#0000a8,#0000a8,#0000a8,#0000a8)"></i><i style="background:linear-gradient(90deg,#0000a9,#0000a9,#0000aa,#0000ab,#0000ad,#0000b0,#0000b5,#0000be,#0000ca,#0000da,#0000ea,#0000f8,#0000ff,#0000fe,#0000f7,#0000ed,#0000e0,#0000d3,#0000c7,#0000bd,#0000b6,#0000b0,#0000ad,#0000ab,#0000aa,#0000a9,#0000a9,#0000a8,#0000a8,#0000a8,#0000a8,#0000a8,#0000a8,#0000a8,#0000a8,#0000a8,#0000a8,#0000a8,#0000a8,#0000a8,#0000a8,#0000a8,#0000a8,#0000a8,#0000a8)"></i><i style="background:linear-gradient(90deg,#0000a9,#0000a9,#0000aa,#0000ab,#0000ad,#0000b0,#0000b6,#0000bf,#0000cb,#0000db,#0000ed,#0000fb,#0003ff,#0002ff,#0000fa,#0000ef,#0000e2,#0000d5,#0000c8,#0000be,#0000b6,#0000b1,#0000ad,#0000ab,#0000aa,#0000a9,#0000a9,#0000a8,#0000a8,#0000a8,#0000a8,#0000a8,#0000a8,#0000a8,#0000a8,#0000a8,#0000a8,#0000a8,#0000a8,#0000a8,#0000a8,#0000a8,#0000a8,#0000a8,#0000a8)"></i><i style="background:linear-gradient(90deg,#0000a9,#0000a9,#0000aa,#0000ab,#0000ad,#0000b0,#0000b6,#0000bf,#0000cc,#0000dd,#0000ef,#0000fe,#0006ff,#0005ff,#0000fd,#0000f2,#0000e4,#0000d6,#0000c9,#0000bf,#0000b7,#0000b1,#0000ad,#0000ab,#0000aa,#0000a9,#0000a9,#0000a8,#0000a8,#0000a8,#0000a8,#0000a8,#0000a8,#0000a8,#0000a8,#0000a8,#0000a8,#0000a8,#0000a8,#0000a8,#0000a8,#0000a8,#0000a8,#0000a8,#0000a8)"></i><i style="background:linear-gradient(90deg,#0000a9,#0000a9,#0000aa,#0000ab,#0000ad,#0000b0,#0000b6,#0000c0,#0000cd,#0000df,#0000f1,#0001ff,#0009ff,#0008ff,#0000ff,#0000f4,#0000e6,#0000d8,#0000cb,#0000bf,#0000b7,#0000b1,#0000ad,#0000ab,#0000aa,#0000a9,#0000a9,#0000a8,#0000a8,#0000a8,#0000a8,#0000a8,#0000a8,#0000a8,#0000a8,#0000a8,#0000a8,#0000a8,#0000a8,#0000a8,#0000a8,#0000a8,#0000a8,#0000a8,#0000a8)"></i><i style="background:linear-gradient(90deg,#0000a9,#0000a9,#0000aa,#0000ab,#0000ad,#0000b1,#0000b7,#0000c0,#0000ce,#0000e0,#0000f3,#0004ff,#000cff,#000bff,#0003ff,#0000f6,#0000e8,#0000d9,#0000cc,#0000c0,#0000b8,#0000b1,#0000ad,#0000ab,#0000aa,#0000a9,#0000a9,#0000a8,#0000a8,#0000a8,#0000a8,#0000a8,#0000a8,#0000a8,#0000a8,#0000a8,#0000a8,#0000a8,#0000a8,#0000a8,#0000a8,#0000a8,#0000a8,#0000a8,#0000a8)"></i><i style="background:linear-gradient(90deg,#0000a9,#0000a9,#0000aa,#0000ab,#0000ad,#0000b1,#0000b7,#0000c1,#0000cf,#0000e2,#0000f5,#0007ff,#000fff,#000eff,#0006ff,#0000f9,#0000ea,#0000db,#0000cd,#0000c1,#0000b8,#0000b2,#0000ae,#0000ab,#0000aa,#0000a9,#0000a9,#0000a8,#0000a8,#0000a8,#0000a8,#0000a8,#0000a8,#0000a8,#0000a8,#0000a8,#0000a8,#0000a8,#0000a8,#0000a8,#0000a8,#0000a8,#0000a8,#0000a8,#0000a8)"></i><i style="background:linear-gradient(90deg,#0000a9,#0000a9,#0000aa,#0000ab,#0000ad,#0000b1,#0000b7,#0000c1,#0000d0,#0000e3,#0000f8,#000aff,#0012ff,#0011ff,#0009ff,#0000fb,#0000ec,#0000dc,#0000ce,#0000c2,#0000b8,#0000b2,#0000ae,#0000ab,#0000aa,#0000a9,#0000a9,#0000a8,#0000a8,#0000a8,#0000a8,#0000a8,#0000a8,#0000a8,#0000a8,#0000a8,#0000a8,#0000a8,#0000a8,#0000a8,#0000a8,#0000a8,#0000a8,#0000a8,#0000a8)"></i><i style="background:linear-gradient(90deg,#0000a9,#0000a9,#0000aa,#0000ab,#0000ad,#0000b1,#0000b7,#0000c2,#0000d1,#0000e5,#0000fa,#000cff,#0015ff,#0014ff,#000cff,#0000fe,#0000ee,#0000de,#0000cf,#0000c2,#0000b9,#0000b2,#0000ae,#0000ab,#0000aa,#0000a9,#0000a9,#0000a8,#0000a8,#0000a8,#0000a8,#0000a8,#0000a8,#0000a8,#0000a8,#0000a8,#0000a8,#0000a8,#0000a8,#0000a8,#0000a8,#0000a8,#0000a8,#0000a8,#0000a8)"></i><i style="background:linear-gradient(90deg,#0000a9,#0000a9,#0000aa,#0000ab,#0000ad,#0000b1,#0000b8,#0000c2,#0000d2,#0000e6,#0000fc,#000fff,#0018ff,#0017ff,#000eff,#0001ff,#0000f0,#0000df,#0000d0,#0000c3,#0000b9,#0000b3,#0000ae,#0000ab,#0000aa,#0000a9,#0000a9,#0000a8,#0000a8,#0000a8,#0000a8,#0000a8,#0000a8,#0000a8,#0000a8,#0000a8,#0000a8,#0000a8,#0000a8,#0000a8,#0000a8,#0000a8,#0000a8,#0000a8,#0000a8)"></i><i style="background:linear-gradient(90deg,#0000a9,#0000a9,#0000aa,#0000ab,#0000ad,#0000b1,#0000b8,#0000c3,#0000d3,#0000e8,#0000fe,#0012ff,#001bff,#001aff,#0011ff,#0004ff,#0000f2,#0000e1,#0000d1,#0000c4,#0000ba,#0000b3,#0000ae,#0000ab,#0000aa,#0000a9,#0000a9,#0000a8,#0000a8,#0000a8,#0000a8,#0000a8,#0000a8,#0000a8,#0000a8,#0000a8,#0000a8,#0000a8,#0000a8,#0000a8,#0000a8,#0000a8,#0000a8,#0000a8,#0000a8)"></i><i style="background:linear-gradient(90deg,#0000a9,#0000a9,#0000aa,#0000ab,#0000ad,#0000b1,#0000b8,#0000c4,#0000d4,#0000ea,#0002ff,#0015ff,#001fff,#001dff,#0014ff,#0006ff,#0000f4,#0000e2,#0000d2,#0000c5,#0000ba,#0000b3,#0000af,#0000ac,#0000aa,#0000a9,#0000a9,#0000a9,#0000a8,#0000a8,#0000a8,#0000a8,#0000a8,#0000a8,#0000a8,#0000a8,#0000a8,#0000a8,#0000a8,#0000a8,#0000a8,#0000a8,#0000a8,#0000a8,#0000a8)"></i><i style="background:linear-gradient(90deg,#0000a9,#0000aa,#0000aa,#0000ac,#0000ae,#0000b2,#0000b9,#0000c4,#0000d5,#0000eb,#0003ff,#0016ff,#0020ff,#001fff,#0016ff,#0008ff,#0000f5,#0000e3,#0000d3,#0000c5,#0000bb,#0000b4,#0000af,#0000ac,#0000aa,#0000a9,#0000a9,#0000a9,#0000a9,#0000a9,#0000a9,#0000a9,#0000a9,#0000a9,#0000a9,#0000a9,#0000a9,#0000a9,#0000a9,#0000a9,#0000a9,#0000a9,#0000a9,#0000a9,#0000a9)"></i><i style="background:linear-gradient(90deg,#0000aa,#0000aa,#0000ab,#0000ac,#0000ae,#0000b3,#0000ba,#0000c5,#0000d6,#0000ec,#0005ff,#0018ff,#0022ff,#0021ff,#0018ff,#0009ff,#0000f7,#0000e5,#0000d4,#0000c6,#0000bc,#0000b4,#0000af,#0000ad,#0000ab,#0000aa,#0000aa,#0000a9,#0000a9,#0000a9,#0000a9,#0000a9,#0000a9,#0000a9,#0000a9,#0000a9,#0000a9,#0000a9,#0000a9,#0000a9,#0000a9,#0000a9,#0000a9,#0000a9,#0000a9)"></i><i style="background:linear-gradient(90deg,#0000ab,#0000ab,#0000ac,#0000ae,#0000b0,#0000b4,#0000bb,#0000c7,#0000d8,#0000ef,#0007ff,#001bff,#0025ff,#0024ff,#001bff,#000cff,#0000f9,#0000e7,#0000d6,#0000c8,#0000bd,#0000b6,#0000b1,#0000ae,#0000ac,#0000ab,#0000ab,#0000ab,#0000ab,#0000ab,#0000ab,#0000ab,#0000ab,#0000ab,#0000ab,#0000ab,#0000ab,#0000ab,#0000ab,#0000ab,#0000ab,#0000ab,#0000ab,#0000ab,#0000ab)"></i><i style="background:linear-gradient(90deg,#0000ae,#0000ae,#0000af,#0000b0,#0000b3,#0000b7,#0000be,#0000ca,#0000dc,#0000f2,#000cff,#0020ff,#002aff,#0028ff,#001fff,#0010ff,#0000fd,#0000ea,#0000d9,#0000cb,#0000c0,#0000b9,#0000b4,#0000b1,#0000af,#0000ae,#0000ae,#0000ae,#0000ad,#0000ad,#0000ad,#0000ad,#0000ad,#0000ad,#0000ad,#0000ad,#0000ad,#0000ad,#0000ad,#0000ad,#0000ad,#0000ad,#0000ad,#0000ad,#0000ad)"></i><i style="background:linear-gradient(90deg,#0000b3,#0000b3,#0000b4,#0000b5,#0000b8,#0000bc,#0000c4,#0000d0,#0000e2,#0000f8,#0012ff,#0026ff,#0030ff,#002eff,#0025ff,#0016ff,#0004ff,#0000f0,#0000df,#0000d1,#0000c6,#0000be,#0000b9,#0000b6,#0000b4,#0000b4,#0000b3,#0000b3,#0000b3,#0000b3,#0000b3,#0000b3,#0000b3,#0000b3,#0000b3,#0000b3,#0000b3,#0000b3,#0000b3,#0000b3,#0000b3,#0000b3,#0000b3,#0000b3,#0000b3)"></i><i style="background:linear-gradient(90deg,#0000bc,#0000bd,#0000bd,#0000bf,#0000c1,#0000c5,#0000cd,#0000d9,#0000eb,#0003ff,#001bff,#0030ff,#003aff,#0038ff,#002fff,#0020ff,#000dff,#0000fa,#0000e8,#0000da,#0000cf,#0000c8,#0000c2,#0000c0,#0000be,#0000bd,#0000bd,#0000bd,#0000bd,#0000bd,#0000bd,#0000bd,#0000bd,#0000bd,#0000bd,#0000bd,#0000bd,#0000bd,#0000bd,#0000bd,#0000bd,#0000bd,#0000bd,#0000bd,#0000bd)"></i><i style="background:linear-gradient(90deg,#0000cc,#0000cc,#0000cd,#0000ce,#0000cf,#0000d4,#0000dc,#0000e8,#0000fa,#0011ff,#002aff,#003fff,#0048ff,#0047ff,#003eff,#002fff,#001cff,#000aff,#0000f8,#0000ea,#0000df,#0000d8,#0000d2,#0000d0,#0000cf,#0000ce,#0000ce,#0000cd,#0000cd,#0000cd,#0000cd,#0000cd,#0000cd,#0000cd,#0000cd,#0000cd,#0000cd,#0000cd,#0000cd,#0000cd,#0000cd,#0000ce,#0000ce,#0000ce,#0000ce)"></i><i style="background:linear-gradient(90deg,#0000e4,#0000e5,#0000e5,#0000e6,#0000e7,#0000eb,#0000f2,#0000ff,#0011ff,#0027ff,#0040ff,#0054ff,#005eff,#005cff,#0053ff,#0045ff,#0033ff,#0021ff,#0010ff,#0003ff,#0000f8,#0000f1,#0000eb,#0000e9,#0000e8,#0000e8,#0000e8,#0000e7,#0000e7,#0000e7,#0000e7,#0000e7,#0000e7,#0000e7,#0000e7,#0000e7,#0000e7,#0000e7,#0000e7,#0000e7,#0000e8,#0000e8,#0000e8,#0000e8,#0000e8)"></i><i style="background:linear-gradient(90deg,#0009ff,#0009ff,#0009ff,#0009ff,#000aff,#000dff,#0015ff,#0021ff,#0031ff,#0046ff,#005eff,#0073ff,#007bff,#007aff,#0072ff,#0064ff,#0053ff,#0042ff,#0033ff,#0027ff,#001dff,#0016ff,#0010ff,#000fff,#000fff,#000eff,#000eff,#000eff,#000eff,#000eff,#000eff,#000eff,#000eff,#000eff,#000eff,#000eff,#000eff,#000eff,#000eff,#000fff,#000fff,#000fff,#000fff,#000fff,#000fff)"></i><i style="background:linear-gradient(90deg,#0039ff,#003aff,#003aff,#0039ff,#0039ff,#003cff,#0043ff,#004eff,#005eff,#0071ff,#0088ff,#009cff,#00a3ff,#00a2ff,#009cff,#008fff,#007fff,#006fff,#0062ff,#0057ff,#004eff,#0048ff,#0042ff,#0042ff,#0042ff,#0042ff,#0042ff,#0042ff,#0042ff,#0042ff,#0042ff,#0041ff,#0041ff,#0041ff,#0041ff,#0041ff,#0042ff,#0042ff,#0042ff,#0042ff,#0042ff,#0043ff,#0043ff,#0043ff,#0043ff)"></i><i style="background:linear-gradient(90deg,#0077ff,#0078ff,#0078ff,#0077ff,#0075ff,#0078ff,#0080ff,#008aff,#0098ff,#00aaff,#00bfff,#00d3ff,#00d9ff,#00d8ff,#00d3ff,#00c7ff,#00b9ff,#00abff,#009fff,#0096ff,#008eff,#0087ff,#0081ff,#0082ff,#0082ff,#0083ff,#0083ff,#0083ff,#0083ff,#0083ff,#0083ff,#0083ff,#0082ff,#0082ff,#0082ff,#0083ff,#0083ff,#0083ff,#0083ff,#0084ff,#0084ff,#0084ff,#0085ff,#0085ff,#0085ff)"></i><i style="background:linear-gradient(90deg,#00c0ff,#00c1ff,#00c2ff,#00c0ff,#00beff,#00c2ff,#00caff,#00d4ff,#00e2ff,#00f1ff,#05fffa,#19ffe6,#1dffe2,#1cffe3,#19ffe6,#0ffff0,#02fffd,#00f4ff,#00e9ff,#00e1ff,#00daff,#00d3ff,#00ccff,#00ceff,#00cfff,#00cfff,#00d0ff,#00d0ff,#00d0ff,#00d0ff,#00cfff,#00cfff,#00cfff,#00ceff,#00cfff,#00cfff,#00cfff,#00d0ff,#00d0ff,#00d1ff,#00d1ff,#00d1ff,#00d2ff,#00d2ff,#00d3ff)"></i><i style="background:linear-gradient(90deg,#11ffee,#14ffeb,#15ffea,#14ffeb,#12ffed,#17ffe8,#21ffde,#2cffd3,#39ffc6,#47ffb8,#59ffa6,#6cff93,#6eff91,#6eff91,#6cff93,#63ff9c,#56ffa9,#4affb5,#3fffc0,#38ffc7,#31ffce,#29ffd6,#20ffdf,#22ffdd,#24ffdb,#24ffdb,#25ffda,#25ffda,#25ffda,#25ffda,#24ffdb,#24ffdb,#23ffdc,#23ffdc,#23ffdc,#24ffdb,#24ffdb,#25ffda,#25ffda,#26ffd9,#26ffd9,#27ffd8,#27ffd8,#28ffd7,#28ffd7)"></i><i style="background:linear-gradient(90deg,#63ff9c,#67ff98,#69ff96,#6aff95,#69ff96,#70ff8f,#7eff81,#8bff74,#99ff66,#a6ff59,#b7ff48,#caff35,#caff35,#c9ff36,#c9ff36,#c0ff3f,#b3ff4c,#a5ff5a,#9aff65,#92ff6d,#8aff75,#80ff7f,#75ff8a,#77ff88,#79ff86,#7aff85,#7aff85,#7aff85,#7aff85,#79ff86,#79ff86,#78ff87,#78ff87,#77ff88,#78ff87,#78ff87,#79ff86,#79ff86,#7aff85,#7bff84,#7bff84,#7cff83,#7cff83,#7dff82,#7eff81)"></i><i style="background:linear-gradient(90deg,#b0ff4f,#b5ff4a,#baff45,#bcff43,#bdff42,#c8ff37,#daff25,#ecff13,#fcff03,#fff400,#ffe300,#ffcf00,#ffd100,#ffd300,#ffd300,#ffde00,#ffed00,#fffd00,#f4ff0b,#eaff15,#dfff20,#d3ff2c,#c5ff3a,#c7ff38,#c8ff37,#c9ff36,#c9ff36,#c9ff36,#c8ff37,#c8ff37,#c7ff38,#c6ff39,#c6ff39,#c5ff3a,#c6ff39,#c6ff39,#c7ff38,#c8ff37,#c9ff36,#c9ff36,#caff35,#cbff34,#cbff34,#ccff33,#cdff32)"></i><i style="background:linear-gradient(90deg,#f0ff0f,#f8ff07,#ffff00,#fffa00,#fff700,#ffe600,#ffce00,#ffb700,#ffa300,#ff9300,#ff8100,#ff6b00,#ff7000,#ff7300,#ff7400,#ff8200,#ff9500,#ffa800,#ffb900,#ffc600,#ffd500,#ffe400,#fff500,#fff400,#fff300,#fff300,#fff300,#fff300,#fff400,#fff500,#fff500,#fff600,#fff700,#fff800,#fff700,#fff600,#fff500,#fff400,#fff400,#fff300,#fff200,#fff100,#fff000,#fff000,#ffef00)"></i><i style="background:linear-gradient(90deg,#ffdd00,#ffd400,#ffcb00,#ffc300,#ffbd00,#ffa700,#ff8900,#ff6b00,#ff5100,#ff3e00,#ff2900,#ff1200,#ff1900,#ff1e00,#ff2100,#ff3200,#ff4a00,#ff6300,#ff7900,#ff8900,#ff9b00,#ffae00,#ffc200,#ffc100,#ffc100,#ffc200,#ffc200,#ffc300,#ffc300,#ffc400,#ffc500,#ffc600,#ffc700,#ffc800,#ffc700,#ffc600,#ffc500,#ffc400,#ffc300,#ffc200,#ffc100,#ffc100,#ffc000,#ffbf00,#ffbe00)"></i><i style="background:linear-gradient(90deg,#ffc000,#ffb500,#ffaa00,#ffa000,#ff9700,#ff7d00,#ff5900,#ff3500,#ff1600,#fd0000,#e50000,#cc0000,#d40000,#db0000,#e10000,#f70000,#ff1500,#ff3300,#ff4d00,#ff6200,#ff7700,#ff8c00,#ffa200,#ffa200,#ffa300,#ffa400,#ffa400,#ffa500,#ffa600,#ffa700,#ffa800,#ffa900,#ffaa00,#ffab00,#ffaa00,#ffa900,#ffa800,#ffa700,#ffa600,#ffa500,#ffa400,#ffa300,#ffa200,#ffa100,#ffa100)"></i><i style="background:linear-gradient(90deg,#ffb300,#ffa800,#ff9c00,#ff9100,#ff8600,#ff6900,#ff4200,#ff1a00,#f50000,#da0000,#bf0000,#a40000,#ad0000,#b60000,#bf0000,#d80000,#fa0000,#ff1c00,#ff3900,#ff5000,#ff6700,#ff7e00,#ff9500,#ff9600,#ff9700,#ff9800,#ff9900,#ff9900,#ff9a00,#ff9b00,#ff9c00,#ff9d00,#ff9e00,#ff9f00,#ff9e00,#ff9d00,#ff9c00,#ff9b00,#ff9a00,#ff9900,#ff9900,#ff9800,#ff9700,#ff9600,#ff9500)"></i><i style="background:linear-gradient(90deg,#ffb300,#ffa800,#ff9c00,#ff9100,#ff8600,#ff6900,#ff4200,#ff1a00,#f50000,#da0000,#bf0000,#a40000,#ad0000,#b60000,#bf0000,#d80000,#fa0000,#ff1c00,#ff3900,#ff5000,#ff6700,#ff7e00,#ff9500,#ff9600,#ff9700,#ff9800,#ff9900,#ff9900,#ff9a00,#ff9b00,#ff9c00,#ff9d00,#ff9e00,#ff9f00,#ff9e00,#ff9d00,#ff9c00,#ff9b00,#ff9a00,#ff9900,#ff9900,#ff9800,#ff9700,#ff9600,#ff9500)"></i><i style="background:linear-gradient(90deg,#ffb300,#ffa800,#ff9c00,#ff9100,#ff8600,#ff6900,#ff4200,#ff1a00,#f50000,#da0000,#bf0000,#a40000,#ad0000,#b60000,#bf0000,#d80000,#fa0000,#ff1c00,#ff3900,#ff5000,#ff6700,#ff7e00,#ff9500,#ff9600,#ff9700,#ff9800,#ff9900,#ff9900,#ff9a00,#ff9b00,#ff9c00,#ff9d00,#ff9e00,#ff9f00,#ff9e00,#ff9d00,#ff9c00,#ff9b00,#ff9a00,#ff9900,#ff9900,#ff9800,#ff9700,#ff9600,#ff9500)"></i></div></div>
<div class="cb" style="left:424px;top:218px"></div>
<div class="h" style="left:498px;top:218px"><div><i style="background:linear-gradient(90deg,#001fff,#0027ff,#0037ff,#004cff,#0069ff,#0095ff,#00d0ff,#36ffc9,#ddff22,#ff6d00,#f00000,#b30000,#990000,#910000,#920000,#980000,#9f0000,#a70000,#af0000,#ba0000,#d80000,#ff3200,#fffe00,#00faff,#0057ff,#001aff,#0009ff,#0005ff,#0005ff,#0007ff,#000aff,#000dff,#000fff,#000fff,#000fff,#000dff,#000aff,#0007ff,#0005ff,#0003ff,#0002ff,#0001ff,#0000ff,#0000ff,#0000ff)"></i><i style="background:linear-gradient(90deg,#001fff,#0027ff,#0037ff,#004cff,#0069ff,#0095ff,#00d0ff,#36ffc9,#ddff22,#ff6d00,#f00000,#b30000,#990000,#910000,#920000,#980000,#9f0000,#a70000,#af0000,#ba0000,#d80000,#ff3200,#fffe00,#00faff,#0057ff,#001aff,#0009ff,#0005ff,#0005ff,#0007ff,#000aff,#000dff,#000fff,#000fff,#000fff,#000dff,#000aff,#0007ff,#0005ff,#0003ff,#0002ff,#0001ff,#0000ff,#0000ff,#0000ff)"></i><i style="background:linear-gradient(90deg,#001fff,#0027ff,#0037ff,#004cff,#0069ff,#0095ff,#00d0ff,#36ffc9,#ddff22,#ff6d00,#f00000,#b30000,#990000,#910000,#920000,#980000,#9f0000,#a70000,#af0000,#ba0000,#d80000,#ff3200,#fffe00,#00faff,#0057ff,#001aff,#0009ff,#0005ff,#0005ff,#0007ff,#000aff,#000dff,#000fff,#000fff,#000fff,#000dff,#000aff,#0007ff,#0005ff,#0003ff,#0002ff,#0001ff,#0000ff,#0000ff,#0000ff)"></i><i style="background:linear-gradient(90deg,#001fff,#0027ff,#0037ff,#004cff,#0069ff,#0095ff,#00d0ff,#36ffc9,#dcff23,#ff6e00,#f10000,#b30000,#9a0000,#910000,#930000,#990000,#a00000,#a80000,#b00000,#bb0000,#d90000,#ff3200,#fffc00,#00fcff,#0058ff,#001bff,#0009ff,#0005ff,#0005ff,#0007ff,#000aff,#000dff,#000fff,#000fff,#000fff,#000dff,#000aff,#0007ff,#0005ff,#0003ff,#0002ff,#0001ff,#0000ff,#0000ff,#0000ff)"></i><i style="background:linear-gradient(90deg,#001fff,#0027ff,#0037ff,#004cff,#0069ff,#0095ff,#00d0ff,#35ffca,#dcff23,#ff6f00,#f20000,#b40000,#9a0000,#920000,#930000,#9a0000,#a10000,#aa0000,#b10000,#bd0000,#da0000,#ff3100,#fffb00,#00fdff,#0059ff,#001bff,#0009ff,#0005ff,#0005ff,#0007ff,#000aff,#000dff,#000fff,#000fff,#000fff,#000dff,#000aff,#0007ff,#0005ff,#0003ff,#0002ff,#0001ff,#0000ff,#0000ff,#0000ff)"></i><i style="background:linear-gradient(90deg,#001fff,#0027ff,#0037ff,#004cff,#0069ff,#0095ff,#00d0ff,#35ffca,#dbff24,#ff6f00,#f20000,#b50000,#9b0000,#930000,#940000,#9b0000,#a30000,#ab0000,#b30000,#be0000,#db0000,#ff3100,#fff900,#00ffff,#005aff,#001bff,#0009ff,#0005ff,#0005ff,#0007ff,#000aff,#000dff,#000fff,#000fff,#000fff,#000dff,#000aff,#0007ff,#0005ff,#0003ff,#0002ff,#0001ff,#0000ff,#0000ff,#0000ff)"></i><i style="background:linear-gradient(90deg,#001fff,#0027ff,#0037ff,#004cff,#0069ff,#0095ff,#00cfff,#35ffca,#dbff24,#ff7000,#f30000,#b60000,#9c0000,#930000,#950000,#9c0000,#a40000,#ac0000,#b40000,#bf0000,#dc0000,#ff3100,#fff700,#02fffd,#005bff,#001cff,#0009ff,#0005ff,#0005ff,#0007ff,#000aff,#000dff,#000fff,#000fff,#000fff,#000dff,#000aff,#0007ff,#0005ff,#0003ff,#0002ff,#0001ff,#0000ff,#0000ff,#0000ff)"></i><i style="background:linear-gradient(90deg,#001fff,#0027ff,#0037ff,#004cff,#0069ff,#0095ff,#00cfff,#35ffca,#dbff24,#ff7000,#f40000,#b60000,#9d0000,#940000,#960000,#9d0000,#a50000,#ad0000,#b50000,#c00000,#dd0000,#ff3100,#fff500,#04fffb,#005cff,#001cff,#0009ff,#0005ff,#0005ff,#0007ff,#000aff,#000dff,#000fff,#000fff,#000fff,#000dff,#000aff,#0007ff,#0005ff,#0003ff,#0002ff,#0001ff,#0000ff,#0000ff,#0000ff)"></i><i style="background:linear-gradient(90deg,#001fff,#0027ff,#0037ff,#004cff,#0069ff,#0094ff,#00cfff,#34ffcb,#daff25,#ff7100,#f50000,#b70000,#9d0000,#950000,#970000,#9e0000,#a60000,#ae0000,#b60000,#c20000,#dd0000,#ff3100,#fff400,#06fff9,#005dff,#001cff,#0009ff,#0005ff,#0005ff,#0007ff,#000aff,#000dff,#000fff,#000fff,#000fff,#000dff,#000aff,#0007ff,#0005ff,#0003ff,#0002ff,#0001ff,#0000ff,#0000ff,#0000ff)"></i><i style="background:linear-gradient(90deg,#001fff,#0027ff,#0037ff,#004cff,#0069ff,#0094ff,#00cfff,#34ffcb,#daff25,#ff7200,#f50000,#b80000,#9e0000,#960000,#980000,#9e0000,#a70000,#b00000,#b80000,#c30000,#de0000,#ff3100,#fff200,#08fff7,#005eff,#001dff,#0009ff,#0005ff,#0005ff,#0007ff,#000aff,#000dff,#000fff,#000fff,#000fff,#000dff,#000aff,#0007ff,#0005ff,#0003ff,#0002ff,#0001ff,#0000ff,#0000ff,#0000ff)"></i><i style="background:linear-gradient(90deg,#001fff,#0027ff,#0037ff,#004cff,#0069ff,#0094ff,#00cfff,#34ffcb,#d9ff26,#ff7200,#f60000,#b80000,#9f0000,#960000,#980000,#9f0000,#a80000,#b10000,#b90000,#c40000,#df0000,#ff3000,#fff000,#0afff5,#005fff,#001dff,#0009ff,#0005ff,#0005ff,#0007ff,#000aff,#000dff,#000fff,#000fff,#000fff,#000dff,#000aff,#0007ff,#0005ff,#0003ff,#0002ff,#0001ff,#0000ff,#0000ff,#0000ff)"></i><i style="background:linear-gradient(90deg,#001fff,#0027ff,#0037ff,#004cff,#0069ff,#0094ff,#00cfff,#34ffcb,#d9ff26,#ff7300,#f70000,#b90000,#9f0000,#970000,#990000,#a00000,#a90000,#b20000,#ba0000,#c50000,#e00000,#ff3000,#ffee00,#0cfff3,#0060ff,#001dff,#000aff,#0005ff,#0005ff,#0008ff,#000aff,#000dff,#000fff,#000fff,#000fff,#000dff,#000aff,#0007ff,#0005ff,#0003ff,#0002ff,#0001ff,#0000ff,#0000ff,#0000ff)"></i><i style="background:linear-gradient(90deg,#001fff,#0027ff,#0037ff,#004cff,#0069ff,#0094ff,#00cfff,#34ffcb,#d8ff27,#ff7300,#f70000,#ba0000,#a00000,#980000,#9a0000,#a10000,#aa0000,#b30000,#bc0000,#c70000,#e10000,#ff3000,#ffed00,#0efff1,#0061ff,#001dff,#000aff,#0005ff,#0005ff,#0008ff,#000aff,#000dff,#000fff,#000fff,#000fff,#000dff,#000aff,#0007ff,#0005ff,#0003ff,#0002ff,#0001ff,#0000ff,#0000ff,#0000ff)"></i><i style="background:linear-gradient(90deg,#001fff,#0027ff,#0037ff,#004cff,#0069ff,#0094ff,#00cfff,#33ffcc,#d8ff27,#ff7400,#f80000,#ba0000,#a10000,#990000,#9b0000,#a20000,#ab0000,#b40000,#bd0000,#c80000,#e20000,#ff3000,#ffeb00,#10ffef,#0062ff,#001eff,#000aff,#0005ff,#0005ff,#0008ff,#000aff,#000dff,#000fff,#000fff,#000fff,#000dff,#000aff,#0007ff,#0005ff,#0003ff,#0002ff,#0001ff,#0000ff,#0000ff,#0000ff)"></i><i style="background:linear-gradient(90deg,#001fff,#0027ff,#0037ff,#004cff,#0069ff,#0094ff,#00cfff,#33ffcc,#d8ff27,#ff7500,#f90000,#bb0000,#a20000,#990000,#9c0000,#a30000,#ac0000,#b60000,#be0000,#c90000,#e30000,#ff3000,#ffe900,#12ffed,#0063ff,#001eff,#000aff,#0005ff,#0005ff,#0008ff,#000aff,#000dff,#000fff,#000fff,#000fff,#000dff,#000aff,#0007ff,#0005ff,#0003ff,#0002ff,#0001ff,#0000ff,#0000ff,#0000ff)"></i><i style="background:linear-gradient(90deg,#001fff,#0027ff,#0037ff,#004cff,#0069ff,#0094ff,#00ceff,#33ffcc,#d7ff28,#ff7500,#f90000,#bc0000,#a20000,#9a0000,#9c0000,#a40000,#ae0000,#b70000,#bf0000,#ca0000,#e40000,#ff3000,#ffe800,#14ffeb,#0064ff,#001eff,#000aff,#0005ff,#0005ff,#0008ff,#000aff,#000dff,#000fff,#000fff,#000fff,#000dff,#000aff,#0007ff,#0005ff,#0003ff,#0002ff,#0001ff,#0000ff,#0000ff,#0000ff)"></i><i style="background:linear-gradient(90deg,#001fff,#0027ff,#0037ff,#004cff,#0069ff,#0094ff,#00ceff,#32ffcd,#d6ff29,#ff7700,#fb0000,#be0000,#a40000,#9c0000,#9f0000,#a60000,#b00000,#ba0000,#c20000,#cd0000,#e70000,#ff3200,#ffe700,#16ffe9,#0064ff,#001fff,#000aff,#0005ff,#0005ff,#0008ff,#000aff,#000dff,#000fff,#000fff,#000fff,#000dff,#000aff,#0007ff,#0005ff,#0003ff,#0002ff,#0001ff,#0000ff,#0000ff,#0000ff)"></i><i style="background:linear-gradient(90deg,#001fff,#0027ff,#0037ff,#004cff,#0069ff,#0094ff,#00ceff,#31ffce,#d5ff2a,#ff7900,#fe0000,#c00000,#a70000,#9f0000,#a20000,#aa0000,#b40000,#be0000,#c70000,#d20000,#eb0000,#ff3500,#ffe800,#16ffe9,#0065ff,#001fff,#000aff,#0005ff,#0005ff,#0008ff,#000aff,#000dff,#000fff,#000fff,#000fff,#000dff,#000aff,#0007ff,#0005ff,#0003ff,#0002ff,#0001ff,#0000ff,#0000ff,#0000ff)"></i><i style="background:linear-gradient(90deg,#001fff,#0027ff,#0037ff,#004cff,#0069ff,#0094ff,#00cdff,#30ffcf,#d3ff2c,#ff7b00,#ff0100,#c30000,#aa0000,#a20000,#a50000,#ae0000,#b80000,#c30000,#cc0000,#d70000,#ef0000,#ff3800,#ffe900,#17ffe8,#0066ff,#001fff,#000aff,#0005ff,#0005ff,#0008ff,#000aff,#000dff,#000fff,#000fff,#000fff,#000dff,#000aff,#0007ff,#0005ff,#0003ff,#0002ff,#0001ff,#0000ff,#0000ff,#0000ff)"></i><i style="background:linear-gradient(90deg,#001fff,#0027ff,#0037ff,#004cff,#0069ff,#0094ff,#00cdff,#30ffcf,#d1ff2e,#ff7e00,#ff0400,#c60000,#ad0000,#a50000,#a80000,#b10000,#bc0000,#c70000,#d00000,#dc0000,#f40000,#ff3b00,#ffea00,#18ffe7,#0066ff,#001fff,#000aff,#0005ff,#0005ff,#0008ff,#000aff,#000dff,#000fff,#000fff,#000fff,#000dff,#000aff,#0007ff,#0005ff,#0003ff,#0002ff,#0001ff,#0000ff,#0000ff,#0000ff)"></i><i style="background:linear-gradient(90deg,#001fff,#0027ff,#0036ff,#004cff,#0069ff,#0093ff,#00cdff,#2fffd0,#d0ff2f,#ff8000,#ff0700,#c90000,#b00000,#a80000,#ab0000,#b50000,#c00000,#cb0000,#d50000,#e00000,#f80000,#ff3f00,#ffeb00,#19ffe6,#0067ff,#0020ff,#000aff,#0005ff,#0006ff,#0008ff,#000aff,#000dff,#000fff,#000fff,#000fff,#000dff,#000aff,#0007ff,#0005ff,#0003ff,#0002ff,#0001ff,#0000ff,#0000ff,#0000ff)"></i><i style="background:linear-gradient(90deg,#001fff,#0027ff,#0036ff,#004cff,#0069ff,#0093ff,#00ccff,#2effd1,#ceff31,#ff8200,#ff0900,#cc0000,#b20000,#ab0000,#af0000,#b80000,#c40000,#d00000,#da0000,#e50000,#fd0000,#ff4200,#ffec00,#19ffe6,#0067ff,#0020ff,#000aff,#0005ff,#0006ff,#0008ff,#000aff,#000dff,#000fff,#000fff,#000fff,#000dff,#000aff,#0007ff,#0005ff,#0003ff,#0002ff,#0001ff,#0000ff,#0000ff,#0000ff)"></i><i style="background:linear-gradient(90deg,#001fff,#0027ff,#0036ff,#004cff,#0069ff,#0093ff,#00ccff,#2dffd2,#ccff33,#ff8400,#ff0c00,#cf0000,#b50000,#ae0000,#b20000,#bc0000,#c80000,#d40000,#de0000,#ea0000,#ff0200,#ff4500,#ffed00,#1affe5,#0068ff,#0020ff,#000aff,#0005ff,#0006ff,#0008ff,#000aff,#000dff,#000fff,#000fff,#000fff,#000dff,#000aff,#0007ff,#0005ff,#0003ff,#0002ff,#0001ff,#0000ff,#0000ff,#0000ff)"></i><i style="background:linear-gradient(90deg,#001fff,#0027ff,#0036ff,#004cff,#0069ff,#0093ff,#00cbff,#2cffd3,#cbff34,#ff8700,#ff0f00,#d10000,#b80000,#b10000,#b50000,#c00000,#cc0000,#d80000,#e30000,#ee0000,#ff0700,#ff4900,#ffee00,#1bffe4,#0068ff,#0020ff,#000aff,#0005ff,#0006ff,#0008ff,#000aff,#000dff,#000fff,#000fff,#000fff,#000dff,#000aff,#0007ff,#0005ff,#0003ff,#0002ff,#0001ff,#0000ff,#0000ff,#0000ff)"></i><i style="background:linear-gradient(90deg,#001fff,#0027ff,#0036ff,#004cff,#0068ff,#0093ff,#00cbff,#2bffd4,#c9ff36,#ff8900,#ff1200,#d40000,#bb0000,#b40000,#b80000,#c30000,#d00000,#dd0000,#e80000,#f30000,#ff0b00,#ff4c00,#ffef00,#1bffe4,#0069ff,#0020ff,#000aff,#0005ff,#0006ff,#0008ff,#000aff,#000dff,#000fff,#000fff,#000fff,#000dff,#000aff,#0007ff,#0005ff,#0003ff,#0002ff,#0001ff,#0000ff,#0000ff,#0000ff)"></i><i style="background:linear-gradient(90deg,#001fff,#0027ff,#0036ff,#004cff,#0068ff,#0093ff,#00cbff,#2affd5,#c8ff37,#ff8b00,#ff1400,#d70000,#be0000,#b70000,#bb0000,#c70000,#d40000,#e10000,#ec0000,#f80000,#ff1000,#ff5000,#fff000,#1cffe3,#0069ff,#0021ff,#000bff,#0005ff,#0006ff,#0008ff,#000aff,#000dff,#000fff,#000fff,#000fff,#000dff,#000aff,#0007ff,#0005ff,#0003ff,#0002ff,#0001ff,#0000ff,#0000ff,#0000ff)"></i><i style="background:linear-gradient(90deg,#001fff,#0027ff,#0036ff,#004cff,#0068ff,#0092ff,#00caff,#29ffd6,#c6ff39,#ff8e00,#ff1700,#da0000,#c10000,#b90000,#bf0000,#ca0000,#d80000,#e60000,#f10000,#fd0000,#ff1400,#ff5300,#fff100,#1cffe3,#006aff,#0021ff,#000bff,#0005ff,#0006ff,#0008ff,#000aff,#000dff,#000fff,#000fff,#000fff,#000dff,#000aff,#0007ff,#0005ff,#0003ff,#0002ff,#0001ff,#0000ff,#0000ff,#0000ff)"></i><i style="background:linear-gradient(90deg,#001fff,#0027ff,#0036ff,#004cff,#0068ff,#0092ff,#00caff,#28ffd7,#c4ff3b,#ff9000,#ff1a00,#dd0000,#c40000,#bc0000,#c20000,#ce0000,#dc0000,#ea0000,#f60000,#ff0200,#ff1900,#ff5600,#fff300,#1dffe2,#006aff,#0021ff,#000bff,#0005ff,#0006ff,#0008ff,#000aff,#000dff,#000fff,#000fff,#000fff,#000dff,#000aff,#0007ff,#0005ff,#0003ff,#0002ff,#0001ff,#0000ff,#0000ff,#0000ff)"></i><i style="background:linear-gradient(90deg,#001fff,#0027ff,#0036ff,#004cff,#0068ff,#0092ff,#00c9ff,#27ffd8,#c3ff3c,#ff9200,#ff1c00,#df0000,#c60000,#bf0000,#c50000,#d20000,#e00000,#ee0000,#fa0000,#ff0700,#ff1d00,#ff5a00,#fff400,#1dffe2,#006bff,#0021ff,#000bff,#0005ff,#0006ff,#0008ff,#000aff,#000dff,#000fff,#000fff,#000fff,#000dff,#000aff,#0007ff,#0005ff,#0003ff,#0002ff,#0001ff,#0000ff,#0000ff,#0000ff)"></i><i style="background:linear-gradient(90deg,#001fff,#0027ff,#0036ff,#004cff,#0068ff,#0092ff,#00c9ff,#27ffd8,#c1ff3e,#ff9500,#ff1f00,#e20000,#c90000,#c20000,#c80000,#d50000,#e40000,#f30000,#ff0000,#ff0c00,#ff2200,#ff5d00,#fff500,#1effe1,#006cff,#0021ff,#000bff,#0005ff,#0006ff,#0008ff,#000aff,#000dff,#000fff,#000fff,#000fff,#000dff,#000aff,#0007ff,#0005ff,#0003ff,#0002ff,#0001ff,#0000ff,#0000ff,#0000ff)"></i><i style="background:linear-gradient(90deg,#001fff,#0027ff,#0036ff,#004cff,#0068ff,#0092ff,#00c8ff,#26ffd9,#bfff40,#ff9700,#ff2200,#e50000,#cc0000,#c60000,#cc0000,#d90000,#e90000,#f70000,#ff0500,#ff1100,#ff2600,#ff6100,#fff600,#1effe1,#006cff,#0022ff,#000bff,#0005ff,#0006ff,#0008ff,#000aff,#000dff,#000fff,#000fff,#000fff,#000dff,#000aff,#0007ff,#0005ff,#0003ff,#0002ff,#0001ff,#0000ff,#0000ff,#0000ff)"></i><i style="background:linear-gradient(90deg,#001fff,#0027ff,#0036ff,#004cff,#0068ff,#0091ff,#00c8ff,#25ffda,#bdff42,#ff9a00,#ff2500,#e90000,#d00000,#c90000,#d00000,#dd0000,#ed0000,#fc0000,#ff0900,#ff1500,#ff2a00,#ff6400,#fff800,#1fffe0,#006dff,#0022ff,#000bff,#0005ff,#0006ff,#0008ff,#000aff,#000dff,#000fff,#000fff,#000fff,#000dff,#000aff,#0007ff,#0005ff,#0003ff,#0002ff,#0001ff,#0000ff,#0000ff,#0000ff)"></i><i style="background:linear-gradient(90deg,#001fff,#0027ff,#0036ff,#004bff,#0068ff,#0091ff,#00c8ff,#24ffdb,#bcff43,#ff9d00,#ff2800,#ec0000,#d40000,#cd0000,#d30000,#e10000,#f10000,#ff0100,#ff0e00,#ff1a00,#ff2f00,#ff6700,#fff900,#1fffe0,#006dff,#0022ff,#000bff,#0006ff,#0006ff,#0008ff,#000aff,#000dff,#000fff,#000fff,#000fff,#000dff,#000aff,#0007ff,#0005ff,#0003ff,#0002ff,#0001ff,#0000ff,#0000ff,#0000ff)"></i><i style="background:linear-gradient(90deg,#001fff,#0027ff,#0036ff,#004bff,#0068ff,#0091ff,#00c7ff,#23ffdc,#baff45,#ff9f00,#ff2c00,#f00000,#d70000,#d10000,#d70000,#e50000,#f50000,#ff0600,#ff1200,#ff1e00,#ff3300,#ff6b00,#fffa00,#20ffdf,#006eff,#0022ff,#000bff,#0006ff,#0006ff,#0008ff,#000aff,#000dff,#000fff,#000fff,#000fff,#000dff,#000aff,#0007ff,#0005ff,#0003ff,#0002ff,#0001ff,#0000ff,#0000ff,#0000ff)"></i><i style="background:linear-gradient(90deg,#001fff,#0027ff,#0036ff,#004bff,#0068ff,#0091ff,#00c7ff,#22ffdd,#b8ff47,#ffa200,#ff2f00,#f30000,#db0000,#d40000,#db0000,#e90000,#fa0000,#ff0a00,#ff1700,#ff2300,#ff3700,#ff6e00,#fffb00,#20ffdf,#006eff,#0022ff,#000bff,#0006ff,#0006ff,#0008ff,#000aff,#000dff,#000fff,#000fff,#000fff,#000dff,#000aff,#0007ff,#0005ff,#0003ff,#0002ff,#0001ff,#0000ff,#0000ff,#0000ff)"></i><i style="background:linear-gradient(90deg,#001fff,#0027ff,#0036ff,#004bff,#0068ff,#0091ff,#00c6ff,#21ffde,#b6ff49,#ffa500,#ff3200,#f70000,#de0000,#d80000,#df0000,#ed0000,#fe0000,#ff0f00,#ff1c00,#ff2800,#ff3c00,#ff7200,#fffd00,#21ffde,#006fff,#0023ff,#000bff,#0006ff,#0006ff,#0008ff,#000aff,#000dff,#000fff,#000fff,#000fff,#000dff,#000aff,#0007ff,#0005ff,#0003ff,#0002ff,#0001ff,#0000ff,#0000ff,#0000ff)"></i><i style="background:linear-gradient(90deg,#001fff,#0027ff,#0036ff,#004bff,#0068ff,#0091ff,#00c6ff,#20ffdf,#b4ff4b,#ffa700,#ff3500,#fa0000,#e20000,#db0000,#e30000,#f10000,#ff0300,#ff1300,#ff2000,#ff2c00,#ff4000,#ff7500,#fffe00,#21ffde,#006fff,#0023ff,#000bff,#0006ff,#0006ff,#0008ff,#000aff,#000dff,#000fff,#000fff,#000fff,#000dff,#000aff,#0007ff,#0005ff,#0003ff,#0002ff,#0001ff,#0000ff,#0000ff,#0000ff)"></i><i style="background:linear-gradient(90deg,#001fff,#0027ff,#0036ff,#004bff,#0068ff,#0090ff,#00c5ff,#1fffe0,#b2ff4d,#ffaa00,#ff3900,#fe0000,#e60000,#df0000,#e60000,#f50000,#ff0700,#ff1800,#ff2500,#ff3100,#ff4500,#ff7900,#feff01,#22ffdd,#0070ff,#0023ff,#000bff,#0006ff,#0006ff,#0008ff,#000aff,#000dff,#000fff,#000fff,#000fff,#000dff,#000aff,#0007ff,#0005ff,#0003ff,#0002ff,#0001ff,#0000ff,#0000ff,#0000ff)"></i><i style="background:linear-gradient(90deg,#001fff,#0027ff,#0036ff,#004bff,#0068ff,#0090ff,#00c5ff,#1effe1,#b1ff4e,#ffad00,#ff3c00,#ff0200,#e90000,#e30000,#ea0000,#f90000,#ff0c00,#ff1c00,#ff2900,#ff3600,#ff4900,#ff7c00,#fdff02,#22ffdd,#0070ff,#0023ff,#000bff,#0006ff,#0006ff,#0008ff,#000aff,#000dff,#000fff,#000fff,#000fff,#000dff,#000aff,#0007ff,#0005ff,#0003ff,#0002ff,#0001ff,#0000ff,#0000ff,#0000ff)"></i><i style="background:linear-gradient(90deg,#001fff,#0027ff,#0036ff,#004bff,#0067ff,#0090ff,#00c5ff,#1dffe2,#afff50,#ffaf00,#ff3f00,#ff0600,#ed0000,#e60000,#ee0000,#fd0000,#ff1000,#ff2100,#ff2e00,#ff3a00,#ff4d00,#ff8000,#fbff04,#22ffdd,#0071ff,#0024ff,#000bff,#0006ff,#0006ff,#0008ff,#000aff,#000dff,#000fff,#000fff,#000fff,#000dff,#000aff,#0007ff,#0005ff,#0003ff,#0002ff,#0001ff,#0000ff,#0000ff,#0000ff)"></i><i style="background:linear-gradient(90deg,#001fff,#0027ff,#0036ff,#004bff,#0067ff,#0090ff,#00c4ff,#1cffe3,#adff52,#ffb200,#ff4200,#ff0900,#f00000,#ea0000,#f20000,#ff0200,#ff1400,#ff2500,#ff3300,#ff3f00,#ff5200,#ff8300,#faff05,#23ffdc,#0071ff,#0024ff,#000bff,#0006ff,#0006ff,#0008ff,#000aff,#000dff,#000fff,#000fff,#000fff,#000dff,#000aff,#0007ff,#0005ff,#0003ff,#0002ff,#0001ff,#0000ff,#0000ff,#0000ff)"></i><i style="background:linear-gradient(90deg,#001fff,#0027ff,#0036ff,#004bff,#0067ff,#0090ff,#00c4ff,#1bffe4,#abff54,#ffb500,#ff4600,#ff0d00,#f40000,#ee0000,#f60000,#ff0600,#ff1800,#ff2900,#ff3700,#ff4300,#ff5600,#ff8700,#f8ff07,#23ffdc,#0072ff,#0024ff,#000cff,#0006ff,#0006ff,#0008ff,#000aff,#000dff,#000fff,#000fff,#000fff,#000dff,#000aff,#0007ff,#0005ff,#0003ff,#0002ff,#0001ff,#0000ff,#0000ff,#0000ff)"></i><i style="background:linear-gradient(90deg,#001fff,#0027ff,#0036ff,#004bff,#0067ff,#0090ff,#00c3ff,#1affe5,#a9ff56,#ffb800,#ff4900,#ff1000,#f70000,#f10000,#f90000,#ff0a00,#ff1d00,#ff2e00,#ff3c00,#ff4800,#ff5b00,#ff8a00,#f6ff09,#23ffdc,#0072ff,#0024ff,#000cff,#0006ff,#0006ff,#0008ff,#000aff,#000dff,#000fff,#000fff,#000fff,#000dff,#000aff,#0007ff,#0005ff,#0003ff,#0002ff,#0001ff,#0000ff,#0000ff,#0000ff)"></i><i style="background:linear-gradient(90deg,#001fff,#0027ff,#0036ff,#004bff,#0067ff,#008fff,#00c3ff,#19ffe6,#a7ff58,#ffba00,#ff4c00,#ff1400,#fb0000,#f50000,#fd0000,#ff0e00,#ff2100,#ff3200,#ff4000,#ff4d00,#ff5f00,#ff8e00,#f5ff0a,#23ffdc,#0073ff,#0024ff,#000cff,#0006ff,#0006ff,#0008ff,#000aff,#000dff,#000fff,#000fff,#000fff,#000dff,#000aff,#0007ff,#0005ff,#0003ff,#0002ff,#0001ff,#0000ff,#0000ff,#0000ff)"></i><i style="background:linear-gradient(90deg,#001fff,#0027ff,#0036ff,#004bff,#0067ff,#008fff,#00c2ff,#18ffe7,#a6ff59,#ffbd00,#ff4f00,#ff1700,#ff0000,#f90000,#ff0200,#ff1200,#ff2500,#ff3700,#ff4500,#ff5100,#ff6300,#ff9200,#f2ff0d,#23ffdc,#0073ff,#0024ff,#000cff,#0006ff,#0006ff,#0008ff,#000aff,#000dff,#000fff,#000fff,#000fff,#000dff,#000aff,#0007ff,#0005ff,#0003ff,#0002ff,#0001ff,#0000ff,#0000ff,#0000ff)"></i><i style="background:linear-gradient(90deg,#001fff,#0027ff,#0036ff,#004bff,#0067ff,#008fff,#00c2ff,#17ffe8,#a4ff5b,#ffc000,#ff5300,#ff1b00,#ff0300,#fc0000,#ff0600,#ff1600,#ff2a00,#ff3b00,#ff4a00,#ff5600,#ff6800,#ff9600,#efff10,#21ffde,#0072ff,#0024ff,#000cff,#0006ff,#0006ff,#0008ff,#000aff,#000dff,#000fff,#000fff,#000fff,#000dff,#000aff,#0007ff,#0005ff,#0003ff,#0002ff,#0001ff,#0000ff,#0000ff,#0000ff)"></i><i style="background:linear-gradient(90deg,#001fff,#0027ff,#0036ff,#004bff,#0067ff,#008fff,#00c1ff,#16ffe9,#a2ff5d,#ffc200,#ff5600,#ff1e00,#ff0700,#ff0100,#ff0a00,#ff1a00,#ff2e00,#ff4000,#ff4e00,#ff5b00,#ff6d00,#ff9a00,#ecff13,#20ffdf,#0072ff,#0024ff,#000cff,#0006ff,#0006ff,#0008ff,#000aff,#000dff,#000fff,#000fff,#000fff,#000dff,#000aff,#0007ff,#0005ff,#0003ff,#0002ff,#0001ff,#0000ff,#0000ff,#0000ff)"></i><i style="background:linear-gradient(90deg,#001fff,#0027ff,#0036ff,#004bff,#0067ff,#008fff,#00c1ff,#15ffea,#a0ff5f,#ffc500,#ff5900,#ff2100,#ff0a00,#ff0400,#ff0d00,#ff1e00,#ff3100,#ff4300,#ff5200,#ff5e00,#ff7000,#ff9d00,#eaff15,#1fffe0,#0072ff,#0024ff,#000cff,#0006ff,#0006ff,#0008ff,#000aff,#000dff,#000fff,#000fff,#000fff,#000dff,#000aff,#0007ff,#0005ff,#0003ff,#0002ff,#0001ff,#0000ff,#0000ff,#0000ff)"></i><i style="background:linear-gradient(90deg,#001fff,#0027ff,#0036ff,#004bff,#0067ff,#008fff,#00c1ff,#14ffeb,#9fff60,#ffc700,#ff5b00,#ff2400,#ff0d00,#ff0700,#ff1000,#ff2100,#ff3400,#ff4600,#ff5500,#ff6100,#ff7300,#ffa000,#e8ff17,#1effe1,#0071ff,#0024ff,#000cff,#0006ff,#0006ff,#0008ff,#000aff,#000dff,#000fff,#000fff,#000fff,#000dff,#000aff,#0007ff,#0005ff,#0003ff,#0002ff,#0001ff,#0000ff,#0000ff,#0000ff)"></i><i style="background:linear-gradient(90deg,#001fff,#0027ff,#0036ff,#004bff,#0067ff,#008eff,#00c1ff,#14ffeb,#9eff61,#ffc900,#ff5e00,#ff2700,#ff0f00,#ff0a00,#ff1300,#ff2400,#ff3700,#ff4900,#ff5800,#ff6400,#ff7600,#ffa200,#e7ff18,#1dffe2,#0071ff,#0024ff,#000cff,#0006ff,#0006ff,#0008ff,#000aff,#000dff,#000fff,#000fff,#000fff,#000dff,#000aff,#0007ff,#0005ff,#0003ff,#0002ff,#0001ff,#0000ff,#0000ff,#0000ff)"></i><i style="background:linear-gradient(90deg,#001fff,#0027ff,#0036ff,#004bff,#0067ff,#008eff,#00c0ff,#13ffec,#9cff63,#ffcb00,#ff6000,#ff2900,#ff1200,#ff0d00,#ff1500,#ff2600,#ff3a00,#ff4c00,#ff5a00,#ff6700,#ff7800,#ffa500,#e5ff1a,#1dffe2,#0071ff,#0024ff,#000cff,#0006ff,#0006ff,#0008ff,#000aff,#000dff,#000fff,#000fff,#000fff,#000dff,#000aff,#0007ff,#0005ff,#0003ff,#0002ff,#0001ff,#0000ff,#0000ff,#0000ff)"></i><i style="background:linear-gradient(90deg,#001fff,#0027ff,#0036ff,#004bff,#0067ff,#008eff,#00c0ff,#12ffed,#9bff64,#ffcd00,#ff6300,#ff2c00,#ff1500,#ff1000,#ff1800,#ff2900,#ff3d00,#ff4f00,#ff5d00,#ff6a00,#ff7b00,#ffa700,#e3ff1c,#1cffe3,#0071ff,#0024ff,#000cff,#0006ff,#0006ff,#0008ff,#000aff,#000dff,#000fff,#000fff,#000fff,#000dff,#000aff,#0007ff,#0005ff,#0003ff,#0002ff,#0001ff,#0000ff,#0000ff,#0000ff)"></i><i style="background:linear-gradient(90deg,#001fff,#0027ff,#0036ff,#004bff,#0067ff,#008eff,#00c0ff,#12ffed,#99ff66,#ffcf00,#ff6500,#ff2f00,#ff1800,#ff1300,#ff1b00,#ff2c00,#ff4000,#ff5200,#ff6000,#ff6d00,#ff7e00,#ffaa00,#e1ff1e,#1bffe4,#0071ff,#0024ff,#000cff,#0006ff,#0006ff,#0008ff,#000aff,#000dff,#000fff,#000fff,#000fff,#000dff,#000aff,#0007ff,#0005ff,#0003ff,#0002ff,#0001ff,#0000ff,#0000ff,#0000ff)"></i><i style="background:linear-gradient(90deg,#001fff,#0027ff,#0036ff,#004bff,#0067ff,#008eff,#00bfff,#11ffee,#98ff67,#ffd100,#ff6800,#ff3200,#ff1b00,#ff1600,#ff1e00,#ff2f00,#ff4300,#ff5500,#ff6300,#ff7000,#ff8100,#ffac00,#e0ff1f,#1affe5,#0070ff,#0024ff,#000bff,#0006ff,#0006ff,#0007ff,#000aff,#000dff,#000fff,#000fff,#000fff,#000dff,#000aff,#0007ff,#0005ff,#0003ff,#0002ff,#0001ff,#0000ff,#0000ff,#0000ff)"></i><i style="background:linear-gradient(90deg,#001fff,#0027ff,#0036ff,#004bff,#0067ff,#008eff,#00bfff,#10ffef,#97ff68,#ffd300,#ff6b00,#ff3500,#ff1e00,#ff1900,#ff2100,#ff3200,#ff4600,#ff5800,#ff6600,#ff7300,#ff8400,#ffaf00,#deff21,#1affe5,#0070ff,#0024ff,#000bff,#0006ff,#0006ff,#0007ff,#000aff,#000dff,#000fff,#000fff,#000fff,#000dff,#000aff,#0007ff,#0005ff,#0003ff,#0002ff,#0001ff,#0000ff,#0000ff,#0000ff)"></i><i style="background:linear-gradient(90deg,#001fff,#0027ff,#0036ff,#004bff,#0066ff,#008eff,#00bfff,#0ffff0,#95ff6a,#ffd600,#ff6e00,#ff3800,#ff2100,#ff1c00,#ff2500,#ff3600,#ff4900,#ff5b00,#ff6a00,#ff7600,#ff8700,#ffb200,#dcff23,#19ffe6,#0070ff,#0024ff,#000bff,#0006ff,#0005ff,#0007ff,#000aff,#000dff,#000eff,#000fff,#000eff,#000dff,#000aff,#0007ff,#0005ff,#0003ff,#0002ff,#0001ff,#0000ff,#0000ff,#0000ff)"></i><i style="background:linear-gradient(90deg,#001fff,#0027ff,#0036ff,#004bff,#0066ff,#008dff,#00beff,#0efff1,#94ff6b,#ffd800,#ff7100,#ff3b00,#ff2500,#ff1f00,#ff2800,#ff3900,#ff4c00,#ff5f00,#ff6d00,#ff7900,#ff8a00,#ffb500,#daff25,#18ffe7,#0070ff,#0023ff,#000bff,#0005ff,#0005ff,#0007ff,#000aff,#000dff,#000eff,#000fff,#000eff,#000dff,#000aff,#0007ff,#0005ff,#0003ff,#0001ff,#0001ff,#0000ff,#0000ff,#0000ff)"></i><i style="background:linear-gradient(90deg,#001eff,#0027ff,#0036ff,#004bff,#0066ff,#008dff,#00beff,#0dfff2,#92ff6d,#ffdb00,#ff7400,#ff3f00,#ff2900,#ff2300,#ff2c00,#ff3d00,#ff5000,#ff6200,#ff7100,#ff7d00,#ff8e00,#ffb800,#d7ff28,#17ffe8,#006fff,#0023ff,#000bff,#0005ff,#0005ff,#0007ff,#000aff,#000cff,#000eff,#000fff,#000eff,#000cff,#000aff,#0007ff,#0005ff,#0003ff,#0001ff,#0001ff,#0000ff,#0000ff,#0000ff)"></i><i style="background:linear-gradient(90deg,#001eff,#0026ff,#0036ff,#004aff,#0066ff,#008dff,#00bdff,#0cfff3,#90ff6f,#ffde00,#ff7800,#ff4400,#ff2e00,#ff2800,#ff3100,#ff4200,#ff5500,#ff6700,#ff7600,#ff8200,#ff9300,#ffbc00,#d4ff2b,#15ffea,#006eff,#0023ff,#000bff,#0005ff,#0005ff,#0007ff,#000aff,#000cff,#000eff,#000fff,#000eff,#000cff,#000aff,#0007ff,#0005ff,#0003ff,#0001ff,#0000ff,#0000ff,#0000ff,#0000ff)"></i><i style="background:linear-gradient(90deg,#001eff,#0026ff,#0035ff,#004aff,#0065ff,#008cff,#00bcff,#0bfff4,#8dff72,#ffe300,#ff7e00,#ff4b00,#ff3500,#ff2f00,#ff3800,#ff4900,#ff5c00,#ff6e00,#ff7c00,#ff8800,#ff9900,#ffc200,#d0ff2f,#12ffed,#006dff,#0022ff,#000bff,#0005ff,#0005ff,#0007ff,#0009ff,#000cff,#000eff,#000fff,#000eff,#000cff,#000aff,#0007ff,#0004ff,#0002ff,#0001ff,#0000ff,#0000ff,#0000ff,#0000ff)"></i><i style="background:linear-gradient(90deg,#001eff,#0026ff,#0035ff,#0049ff,#0065ff,#008bff,#00bbff,#09fff6,#89ff76,#ffea00,#ff8800,#ff5500,#ff3f00,#ff3a00,#ff4300,#ff5300,#ff6600,#ff7800,#ff8600,#ff9200,#ffa200,#ffca00,#c9ff36,#0ffff0,#006cff,#0022ff,#000aff,#0004ff,#0004ff,#0006ff,#0009ff,#000cff,#000dff,#000eff,#000eff,#000cff,#0009ff,#0006ff,#0004ff,#0002ff,#0001ff,#0000ff,#0000ff,#0000fe,#0000fe)"></i><i style="background:linear-gradient(90deg,#001dff,#0025ff,#0034ff,#0049ff,#0064ff,#008aff,#00baff,#06fff9,#82ff7d,#fff500,#ff9600,#ff6500,#ff5000,#ff4b00,#ff5400,#ff6400,#ff7600,#ff8700,#ff9500,#ffa000,#ffb000,#ffd700,#bfff40,#09fff6,#0069ff,#0020ff,#0009ff,#0004ff,#0004ff,#0006ff,#0008ff,#000bff,#000dff,#000eff,#000dff,#000bff,#0009ff,#0006ff,#0004ff,#0002ff,#0000ff,#0000ff,#0000fe,#0000fe,#0000fe)"></i><i style="background:linear-gradient(90deg,#001cff,#0024ff,#0033ff,#0047ff,#0062ff,#0089ff,#00b7ff,#02fffd,#78ff87,#f7ff08,#ffaf00,#ff8000,#ff6d00,#ff6800,#ff7000,#ff7f00,#ff9000,#ffa000,#ffad00,#ffb700,#ffc700,#ffec00,#aeff51,#00fdff,#0064ff,#001eff,#0008ff,#0003ff,#0003ff,#0005ff,#0007ff,#000aff,#000cff,#000dff,#000cff,#000aff,#0008ff,#0005ff,#0003ff,#0001ff,#0000ff,#0000fe,#0000fe,#0000fd,#0000fd)"></i><i style="background:linear-gradient(90deg,#001bff,#0023ff,#0031ff,#0045ff,#0060ff,#0086ff,#00b4ff,#00f9ff,#68ff97,#daff25,#ffd400,#ffab00,#ff9900,#ff9400,#ff9b00,#ffa900,#ffb900,#ffc700,#ffd300,#ffdd00,#ffeb00,#f0ff0f,#92ff6d,#00edff,#005dff,#001bff,#0006ff,#0001ff,#0001ff,#0003ff,#0006ff,#0008ff,#000aff,#000bff,#000bff,#0009ff,#0007ff,#0004ff,#0002ff,#0000ff,#0000fe,#0000fd,#0000fd,#0000fc,#0000fc)"></i><i style="background:linear-gradient(90deg,#0019ff,#0021ff,#002fff,#0043ff,#005dff,#0082ff,#00aeff,#00edff,#4effb1,#afff50,#f2ff0d,#ffe800,#ffd900,#ffd400,#ffda00,#ffe600,#fff300,#feff01,#f4ff0b,#ebff14,#dfff20,#bfff40,#6aff95,#00d4ff,#0052ff,#0016ff,#0003ff,#0000fe,#0000fe,#0001ff,#0004ff,#0006ff,#0008ff,#0009ff,#0009ff,#0007ff,#0005ff,#0002ff,#0000ff,#0000fd,#0000fc,#0000fb,#0000fb,#0000fb,#0000fb)"></i><i style="background:linear-gradient(90deg,#0016ff,#001dff,#002bff,#003eff,#0058ff,#007cff,#00a5ff,#00dcff,#2cffd3,#79ff86,#aeff51,#caff35,#d7ff28,#daff25,#d6ff29,#ccff33,#c2ff3d,#b8ff47,#b0ff4f,#a8ff57,#9dff62,#82ff7d,#38ffc7,#00b5ff,#0044ff,#000fff,#0000fe,#0000fa,#0000fb,#0000fd,#0000ff,#0003ff,#0005ff,#0006ff,#0005ff,#0004ff,#0002ff,#0000ff,#0000fd,#0000fb,#0000fa,#0000f9,#0000f9,#0000f9,#0000f9)"></i><i style="background:linear-gradient(90deg,#0012ff,#0019ff,#0026ff,#0038ff,#0050ff,#0072ff,#0097ff,#00c6ff,#05fffa,#40ffbf,#67ff98,#7dff82,#87ff78,#8aff75,#87ff78,#80ff7f,#79ff86,#71ff8e,#6bff94,#65ff9a,#5cffa3,#44ffbb,#06fff9,#0096ff,#0034ff,#0007ff,#0000f8,#0000f5,#0000f6,#0000f8,#0000fa,#0000fd,#0000ff,#0001ff,#0001ff,#0000ff,#0000fd,#0000fb,#0000f9,#0000f8,#0000f7,#0000f6,#0000f6,#0000f6,#0000f6)"></i><i style="background:linear-gradient(90deg,#000cff,#0012ff,#001fff,#0030ff,#0046ff,#0066ff,#0087ff,#00afff,#00e0ff,#0efff1,#2cffd3,#3dffc2,#45ffba,#48ffb7,#46ffb9,#42ffbd,#3dffc2,#37ffc8,#33ffcc,#2effd1,#26ffd9,#12ffed,#00daff,#007aff,#0025ff,#0000fd,#0000f1,#0000ef,#0000ef,#0000f1,#0000f4,#0000f7,#0000f9,#0000fa,#0000fa,#0000f9,#0000f8,#0000f6,#0000f5,#0000f3,#0000f2,#0000f2,#0000f2,#0000f2,#0000f1)"></i><i style="background:linear-gradient(90deg,#0004ff,#000aff,#0015ff,#0025ff,#0039ff,#0056ff,#0075ff,#0097ff,#00c0ff,#00e4ff,#00fcff,#0bfff4,#12ffed,#15ffea,#14ffeb,#12ffed,#0ffff0,#0bfff4,#07fff8,#03fffc,#00fbff,#00e9ff,#00b9ff,#0063ff,#0017ff,#0000f4,#0000e9,#0000e7,#0000e7,#0000e9,#0000ec,#0000ee,#0000f1,#0000f2,#0000f3,#0000f2,#0000f1,#0000f0,#0000ef,#0000ee,#0000ed,#0000ed,#0000ec,#0000ec,#0000ec)"></i><i style="background:linear-gradient(90deg,#0000fa,#0001ff,#000aff,#0018ff,#0029ff,#0044ff,#0060ff,#007fff,#00a2ff,#00c0ff,#00d5ff,#00e0ff,#00e7ff,#00eaff,#00eaff,#00e9ff,#00e7ff,#00e4ff,#00e1ff,#00ddff,#00d7ff,#00c6ff,#009aff,#004dff,#0009ff,#0000e9,#0000df,#0000dd,#0000de,#0000e0,#0000e2,#0000e5,#0000e7,#0000e9,#0000ea,#0000ea,#0000e9,#0000e9,#0000e8,#0000e7,#0000e6,#0000e6,#0000e6,#0000e6,#0000e6)"></i><i style="background:linear-gradient(90deg,#0000f1,#0000f5,#0000fd,#0009ff,#0018ff,#002fff,#0049ff,#0065ff,#0084ff,#009eff,#00b0ff,#00baff,#00c0ff,#00c3ff,#00c4ff,#00c4ff,#00c2ff,#00bfff,#00bcff,#00b9ff,#00b3ff,#00a3ff,#007cff,#0037ff,#0000f9,#0000dd,#0000d4,#0000d3,#0000d3,#0000d5,#0000d7,#0000da,#0000dc,#0000df,#0000e0,#0000e1,#0000e1,#0000e0,#0000e0,#0000e0,#0000df,#0000df,#0000df,#0000df,#0000df)"></i><i style="background:linear-gradient(90deg,#0000e7,#0000eb,#0000f1,#0000fa,#0007ff,#001bff,#0033ff,#004dff,#0068ff,#007eff,#008eff,#0098ff,#009eff,#00a2ff,#00a3ff,#00a3ff,#00a1ff,#009eff,#009bff,#0097ff,#0091ff,#0083ff,#005fff,#0022ff,#0000eb,#0000d2,#0000ca,#0000c8,#0000c9,#0000cb,#0000cd,#0000d0,#0000d2,#0000d5,#0000d6,#0000d8,#0000d8,#0000d9,#0000d9,#0000d8,#0000d8,#0000d8,#0000d8,#0000d8,#0000d8)"></i><i style="background:linear-gradient(90deg,#0000df,#0000e2,#0000e6,#0000ed,#0000f7,#000aff,#0020ff,#0038ff,#0051ff,#0065ff,#0074ff,#007eff,#0084ff,#0088ff,#0089ff,#0089ff,#0088ff,#0085ff,#0081ff,#007dff,#0076ff,#0069ff,#0048ff,#0010ff,#0000de,#0000c8,#0000c1,#0000bf,#0000c0,#0000c2,#0000c4,#0000c6,#0000c9,#0000cc,#0000ce,#0000d0,#0000d1,#0000d1,#0000d2,#0000d2,#0000d2,#0000d2,#0000d2,#0000d2,#0000d2)"></i><i style="background:linear-gradient(90deg,#0000d8,#0000da,#0000de,#0000e3,#0000eb,#0000fb,#0011ff,#0029ff,#0041ff,#0054ff,#0063ff,#006dff,#0074ff,#0078ff,#007aff,#007aff,#0078ff,#0074ff,#0070ff,#006bff,#0065ff,#0058ff,#0039ff,#0004ff,#0000d5,#0000c0,#0000b9,#0000b8,#0000b9,#0000ba,#0000bc,#0000bf,#0000c1,#0000c4,#0000c7,#0000c9,#0000cb,#0000cc,#0000cc,#0000cd,#0000cd,#0000cd,#0000cd,#0000cd,#0000ce)"></i><i style="background:linear-gradient(90deg,#0000d3,#0000d4,#0000d7,#0000db,#0000e2,#0000f0,#0006ff,#001eff,#0037ff,#004bff,#005aff,#0065ff,#006cff,#0071ff,#0073ff,#0073ff,#0071ff,#006dff,#0068ff,#0062ff,#005bff,#004eff,#0030ff,#0000fb,#0000ce,#0000ba,#0000b3,#0000b2,#0000b3,#0000b4,#0000b6,#0000b9,#0000bc,#0000bf,#0000c2,#0000c4,#0000c6,#0000c7,#0000c8,#0000c9,#0000c9,#0000c9,#0000ca,#0000ca,#0000ca)"></i><i style="background:linear-gradient(90deg,#0000cf,#0000d0,#0000d2,#0000d5,#0000db,#0000e9,#0000fe,#0018ff,#0032ff,#0046ff,#0056ff,#0062ff,#006aff,#006fff,#0072ff,#0071ff,#006fff,#006bff,#0065ff,#005fff,#0057ff,#004aff,#002bff,#0000f7,#0000ca,#0000b6,#0000af,#0000ae,#0000af,#0000b0,#0000b2,#0000b5,#0000b8,#0000bb,#0000be,#0000c0,#0000c3,#0000c4,#0000c5,#0000c6,#0000c6,#0000c7,#0000c7,#0000c7,#0000c7)"></i><i style="background:linear-gradient(90deg,#0000cc,#0000cd,#0000cf,#0000d2,#0000d7,#0000e4,#0000fa,#0015ff,#002fff,#0045ff,#0056ff,#0062ff,#006bff,#0071ff,#0074ff,#0073ff,#0071ff,#006cff,#0066ff,#005fff,#0056ff,#0048ff,#0029ff,#0000f5,#0000c8,#0000b3,#0000ad,#0000ab,#0000ac,#0000ad,#0000af,#0000b2,#0000b5,#0000b8,#0000bb,#0000be,#0000c0,#0000c2,#0000c3,#0000c4,#0000c4,#0000c5,#0000c5,#0000c5,#0000c5)"></i><i style="background:linear-gradient(90deg,#0000cb,#0000cb,#0000cd,#0000cf,#0000d4,#0000e1,#0000f7,#0013ff,#002eff,#0044ff,#0057ff,#0064ff,#006dff,#0074ff,#0077ff,#0076ff,#0073ff,#006eff,#0067ff,#0060ff,#0057ff,#0048ff,#0029ff,#0000f3,#0000c6,#0000b1,#0000ab,#0000a9,#0000aa,#0000ab,#0000ad,#0000b0,#0000b3,#0000b6,#0000b9,#0000bc,#0000bf,#0000c0,#0000c2,#0000c2,#0000c3,#0000c3,#0000c4,#0000c4,#0000c4)"></i><i style="background:linear-gradient(90deg,#0000c9,#0000ca,#0000cb,#0000cd,#0000d2,#0000df,#0000f5,#0011ff,#002dff,#0045ff,#0058ff,#0066ff,#0070ff,#0076ff,#007aff,#0079ff,#0076ff,#0070ff,#0069ff,#0061ff,#0058ff,#0048ff,#0028ff,#0000f3,#0000c5,#0000b0,#0000aa,#0000a8,#0000a9,#0000aa,#0000ac,#0000ae,#0000b1,#0000b5,#0000b8,#0000bb,#0000be,#0000bf,#0000c1,#0000c2,#0000c2,#0000c3,#0000c3,#0000c3,#0000c3)"></i><i style="background:linear-gradient(90deg,#0000c9,#0000c9,#0000ca,#0000cc,#0000d0,#0000de,#0000f4,#0011ff,#002dff,#0045ff,#0059ff,#0067ff,#0072ff,#0079ff,#007cff,#007cff,#0078ff,#0072ff,#006bff,#0062ff,#0058ff,#0049ff,#0029ff,#0000f3,#0000c5,#0000af,#0000a9,#0000a7,#0000a8,#0000a9,#0000ab,#0000ae,#0000b1,#0000b4,#0000b7,#0000ba,#0000bd,#0000bf,#0000c0,#0000c1,#0000c2,#0000c2,#0000c2,#0000c2,#0000c3)"></i><i style="background:linear-gradient(90deg,#0000c8,#0000c9,#0000c9,#0000cb,#0000d0,#0000dd,#0000f3,#0010ff,#002dff,#0045ff,#0059ff,#0068ff,#0073ff,#007aff,#007eff,#007eff,#007aff,#0074ff,#006cff,#0063ff,#0059ff,#0049ff,#0029ff,#0000f3,#0000c4,#0000af,#0000a8,#0000a7,#0000a7,#0000a9,#0000aa,#0000ad,#0000b0,#0000b3,#0000b7,#0000ba,#0000bc,#0000be,#0000c0,#0000c1,#0000c1,#0000c2,#0000c2,#0000c2,#0000c2)"></i><i style="background:linear-gradient(90deg,#0000c8,#0000c8,#0000c9,#0000cb,#0000cf,#0000dc,#0000f3,#0010ff,#002dff,#0046ff,#005aff,#0069ff,#0074ff,#007bff,#007fff,#007eff,#007bff,#0074ff,#006cff,#0063ff,#0059ff,#0049ff,#0029ff,#0000f3,#0000c4,#0000af,#0000a8,#0000a6,#0000a7,#0000a8,#0000aa,#0000ad,#0000b0,#0000b3,#0000b7,#0000ba,#0000bc,#0000be,#0000bf,#0000c0,#0000c1,#0000c1,#0000c2,#0000c2,#0000c2)"></i><i style="background:linear-gradient(90deg,#0000c8,#0000c8,#0000c9,#0000cb,#0000cf,#0000dc,#0000f2,#000fff,#002dff,#0045ff,#0059ff,#0069ff,#0074ff,#007bff,#007eff,#007eff,#007bff,#0074ff,#006cff,#0063ff,#0059ff,#0049ff,#0029ff,#0000f3,#0000c4,#0000ae,#0000a8,#0000a6,#0000a7,#0000a8,#0000aa,#0000ac,#0000af,#0000b3,#0000b6,#0000b9,#0000bc,#0000be,#0000bf,#0000c0,#0000c1,#0000c1,#0000c2,#0000c2,#0000c2)"></i><i style="background:linear-gradient(90deg,#0000c7,#0000c8,#0000c9,#0000ca,#0000ce,#0000dc,#0000f2,#000fff,#002cff,#0045ff,#0059ff,#0068ff,#0073ff,#007aff,#007dff,#007dff,#0079ff,#0073ff,#006bff,#0063ff,#0059ff,#0049ff,#0029ff,#0000f3,#0000c4,#0000ae,#0000a8,#0000a6,#0000a7,#0000a8,#0000aa,#0000ac,#0000af,#0000b3,#0000b6,#0000b9,#0000bc,#0000be,#0000bf,#0000c0,#0000c1,#0000c1,#0000c1,#0000c2,#0000c2)"></i><i style="background:linear-gradient(90deg,#0000c7,#0000c8,#0000c9,#0000ca,#0000ce,#0000dc,#0000f2,#000fff,#002cff,#0044ff,#0058ff,#0066ff,#0071ff,#0078ff,#007bff,#007bff,#0077ff,#0071ff,#006aff,#0062ff,#0058ff,#0049ff,#0029ff,#0000f3,#0000c4,#0000ae,#0000a7,#0000a6,#0000a6,#0000a8,#0000aa,#0000ac,#0000af,#0000b3,#0000b6,#0000b9,#0000bc,#0000be,#0000bf,#0000c0,#0000c1,#0000c1,#0000c1,#0000c2,#0000c2)"></i><i style="background:linear-gradient(90deg,#0000c7,#0000c8,#0000c8,#0000ca,#0000ce,#0000db,#0000f2,#000fff,#002bff,#0043ff,#0056ff,#0064ff,#006eff,#0075ff,#0078ff,#0078ff,#0075ff,#006fff,#0068ff,#0060ff,#0057ff,#0048ff,#0028ff,#0000f3,#0000c4,#0000ae,#0000a7,#0000a6,#0000a6,#0000a8,#0000aa,#0000ac,#0000af,#0000b3,#0000b6,#0000b9,#0000bc,#0000be,#0000bf,#0000c0,#0000c1,#0000c1,#0000c1,#0000c2,#0000c2)"></i><i style="background:linear-gradient(90deg,#0000c7,#0000c8,#0000c8,#0000ca,#0000ce,#0000db,#0000f2,#000fff,#002bff,#0043ff,#0056ff,#0064ff,#006eff,#0075ff,#0078ff,#0078ff,#0075ff,#006fff,#0068ff,#0060ff,#0057ff,#0048ff,#0028ff,#0000f3,#0000c4,#0000ae,#0000a7,#0000a6,#0000a6,#0000a8,#0000aa,#0000ac,#0000af,#0000b3,#0000b6,#0000b9,#0000bc,#0000be,#0000bf,#0000c0,#0000c1,#0000c1,#0000c1,#0000c2,#0000c2)"></i><i style="background:linear-gradient(90deg,#0000c7,#0000c8,#0000c8,#0000ca,#0000ce,#0000db,#0000f2,#000fff,#002bff,#0043ff,#0056ff,#0064ff,#006eff,#0075ff,#0078ff,#0078ff,#0075ff,#006fff,#0068ff,#0060ff,#0057ff,#0048ff,#0028ff,#0000f3,#0000c4,#0000ae,#0000a7,#0000a6,#0000a6,#0000a8,#0000aa,#0000ac,#0000af,#0000b3,#0000b6,#0000b9,#0000bc,#0000be,#0000bf,#0000c0,#0000c1,#0000c1,#0000c1,#0000c2,#0000c2)"></i></div></div>
<div class="cb" style="left:657px;top:218px"></div>
<svg width="700" height="686" viewBox="0 0 700 686">
<rect x="31.5" y="12.5" width="153" height="168" fill="none" stroke="#111" stroke-width="1"/>
<text class="t" x="31.5" y="194" text-anchor="middle">400</text>
<text class="t" x="70.0" y="194" text-anchor="middle">500</text>
<text class="t" x="108.5" y="194" text-anchor="middle">600</text>
<text class="t" x="147.0" y="194" text-anchor="middle">700</text>
<text class="t" x="185.5" y="194" text-anchor="middle">800</text>
<text class="t" x="28.2" y="184.2" text-anchor="end">0</text>
<text class="t" x="28.2" y="156.2" text-anchor="end">5</text>
<text class="t" x="28.2" y="128.2" text-anchor="end">10</text>
<text class="t" x="28.2" y="100.2" text-anchor="end">15</text>
<text class="t" x="28.2" y="72.2" text-anchor="end">20</text>
<text class="t" x="28.2" y="44.2" text-anchor="end">25</text>
<text class="t" x="28.2" y="16.2" text-anchor="end">30</text>
<text class="t" x="200.3" y="170.9">5</text>
<text class="t" x="200.3" y="148.8">10</text>
<text class="t" x="200.3" y="126.7">15</text>
<text class="t" x="200.3" y="104.6">20</text>
<text class="t" x="200.3" y="82.5">25</text>
<text class="t" x="200.3" y="60.4">30</text>
<text class="t" x="200.3" y="38.3">35</text>
<path d="M69.5 180 v-1.6 M69.5 12 v1.6 M108.0 180 v-1.6 M108.0 12 v1.6 M146.5 180 v-1.6 M146.5 12 v1.6 M31 180.0 h-1.5 M31 152.0 h1.6 M185 152.0 h-1.6 M31 152.0 h-1.5 M31 124.0 h1.6 M185 124.0 h-1.6 M31 124.0 h-1.5 M31 96.0 h1.6 M185 96.0 h-1.6 M31 96.0 h-1.5 M31 68.0 h1.6 M185 68.0 h-1.6 M31 68.0 h-1.5 M31 40.0 h1.6 M185 40.0 h-1.6 M31 40.0 h-1.5 M31 12.0 h-1.5 M190 166.7 h2 M198 166.7 h-2 M190 144.6 h2 M198 144.6 h-2 M190 122.5 h2 M198 122.5 h-2 M190 100.4 h2 M198 100.4 h-2 M190 78.3 h2 M198 78.3 h-2 M190 56.2 h2 M198 56.2 h-2 M190 34.1 h2 M198 34.1 h-2" stroke="#111" stroke-width="1" fill="none"/>
<text class="l" x="115.3" y="207" text-anchor="middle">Wavelength (nm)</text>
<text class="l" transform="translate(12.5 97.0) rotate(-90)" text-anchor="middle">α (°)</text>
<text class="l" transform="translate(224.8 97.0) rotate(-90)" text-anchor="middle">Reflectivity (%)</text>
<text class="b" x="3.3" y="11.2">A</text>
<rect x="265.5" y="12.5" width="153" height="168" fill="none" stroke="#111" stroke-width="1"/>
<text class="t" x="265.5" y="194" text-anchor="middle">400</text>
<text class="t" x="304.0" y="194" text-anchor="middle">500</text>
<text class="t" x="342.5" y="194" text-anchor="middle">600</text>
<text class="t" x="381.0" y="194" text-anchor="middle">700</text>
<text class="t" x="419.5" y="194" text-anchor="middle">800</text>
<text class="t" x="262.2" y="184.2" text-anchor="end">0</text>
<text class="t" x="262.2" y="156.2" text-anchor="end">5</text>
<text class="t" x="262.2" y="128.2" text-anchor="end">10</text>
<text class="t" x="262.2" y="100.2" text-anchor="end">15</text>
<text class="t" x="262.2" y="72.2" text-anchor="end">20</text>
<text class="t" x="262.2" y="44.2" text-anchor="end">25</text>
<text class="t" x="262.2" y="16.2" text-anchor="end">30</text>
<text class="t" x="434.3" y="157.4">5</text>
<text class="t" x="434.3" y="130.0">10</text>
<text class="t" x="434.3" y="102.7">15</text>
<text class="t" x="434.3" y="75.3">20</text>
<text class="t" x="434.3" y="47.9">25</text>
<text class="t" x="434.3" y="20.6">30</text>
<path d="M303.5 180 v-1.6 M303.5 12 v1.6 M342.0 180 v-1.6 M342.0 12 v1.6 M380.5 180 v-1.6 M380.5 12 v1.6 M265 180.0 h-1.5 M265 152.0 h1.6 M419 152.0 h-1.6 M265 152.0 h-1.5 M265 124.0 h1.6 M419 124.0 h-1.6 M265 124.0 h-1.5 M265 96.0 h1.6 M419 96.0 h-1.6 M265 96.0 h-1.5 M265 68.0 h1.6 M419 68.0 h-1.6 M265 68.0 h-1.5 M265 40.0 h1.6 M419 40.0 h-1.6 M265 40.0 h-1.5 M265 12.0 h-1.5 M424 153.2 h2 M432 153.2 h-2 M424 125.8 h2 M432 125.8 h-2 M424 98.5 h2 M432 98.5 h-2 M424 71.1 h2 M432 71.1 h-2 M424 43.7 h2 M432 43.7 h-2 M424 16.4 h2 M432 16.4 h-2" stroke="#111" stroke-width="1" fill="none"/>
<text class="l" x="349.3" y="207" text-anchor="middle">Wavelength (nm)</text>
<text class="l" transform="translate(246.5 97.0) rotate(-90)" text-anchor="middle">α (°)</text>
<text class="l" transform="translate(458.3 97.0) rotate(-90)" text-anchor="middle">Reflectivity (%)</text>
<text class="b" x="236.8" y="11.2">B</text>
<rect x="498.5" y="12.5" width="153" height="168" fill="none" stroke="#111" stroke-width="1"/>
<text class="t" x="498.5" y="194" text-anchor="middle">400</text>
<text class="t" x="537.0" y="194" text-anchor="middle">500</text>
<text class="t" x="575.5" y="194" text-anchor="middle">600</text>
<text class="t" x="614.0" y="194" text-anchor="middle">700</text>
<text class="t" x="652.5" y="194" text-anchor="middle">800</text>
<text class="t" x="495.2" y="184.2" text-anchor="end">0</text>
<text class="t" x="495.2" y="156.2" text-anchor="end">5</text>
<text class="t" x="495.2" y="128.2" text-anchor="end">10</text>
<text class="t" x="495.2" y="100.2" text-anchor="end">15</text>
<text class="t" x="495.2" y="72.2" text-anchor="end">20</text>
<text class="t" x="495.2" y="44.2" text-anchor="end">25</text>
<text class="t" x="495.2" y="16.2" text-anchor="end">30</text>
<text class="t" x="667.3" y="181.4">0.5</text>
<text class="t" x="667.3" y="149.2">1</text>
<text class="t" x="667.3" y="117.1">1.5</text>
<text class="t" x="667.3" y="85.0">2</text>
<text class="t" x="667.3" y="52.8">2.5</text>
<text class="t" x="667.3" y="20.7">3</text>
<path d="M536.5 180 v-1.6 M536.5 12 v1.6 M575.0 180 v-1.6 M575.0 12 v1.6 M613.5 180 v-1.6 M613.5 12 v1.6 M498 180.0 h-1.5 M498 152.0 h1.6 M652 152.0 h-1.6 M498 152.0 h-1.5 M498 124.0 h1.6 M652 124.0 h-1.6 M498 124.0 h-1.5 M498 96.0 h1.6 M652 96.0 h-1.6 M498 96.0 h-1.5 M498 68.0 h1.6 M652 68.0 h-1.6 M498 68.0 h-1.5 M498 40.0 h1.6 M652 40.0 h-1.6 M498 40.0 h-1.5 M498 12.0 h-1.5 M657 177.2 h2 M665 177.2 h-2 M657 145.0 h2 M665 145.0 h-2 M657 112.9 h2 M665 112.9 h-2 M657 80.8 h2 M665 80.8 h-2 M657 48.6 h2 M665 48.6 h-2 M657 16.5 h2 M665 16.5 h-2" stroke="#111" stroke-width="1" fill="none"/>
<text class="l" x="582.3" y="207" text-anchor="middle">Wavelength (nm)</text>
<text class="l" transform="translate(479.5 97.0) rotate(-90)" text-anchor="middle">α (°)</text>
<text class="l" transform="translate(695.3 97.0) rotate(-90)" text-anchor="middle">Reflectivity (%)</text>
<text class="b" x="469.8" y="11.2">C</text>
<rect x="31.5" y="218.5" width="153" height="168" fill="none" stroke="#111" stroke-width="1"/>
<text class="t" x="31.5" y="400" text-anchor="middle">400</text>
<text class="t" x="70.0" y="400" text-anchor="middle">500</text>
<text class="t" x="108.5" y="400" text-anchor="middle">600</text>
<text class="t" x="147.0" y="400" text-anchor="middle">700</text>
<text class="t" x="185.5" y="400" text-anchor="middle">800</text>
<text class="t" x="28.2" y="390.2" text-anchor="end">0</text>
<text class="t" x="28.2" y="362.2" text-anchor="end">5</text>
<text class="t" x="28.2" y="334.2" text-anchor="end">10</text>
<text class="t" x="28.2" y="306.2" text-anchor="end">15</text>
<text class="t" x="28.2" y="278.2" text-anchor="end">20</text>
<text class="t" x="28.2" y="250.2" text-anchor="end">25</text>
<text class="t" x="28.2" y="222.2" text-anchor="end">30</text>
<text class="t" x="200.3" y="376.9">5</text>
<text class="t" x="200.3" y="354.8">10</text>
<text class="t" x="200.3" y="332.7">15</text>
<text class="t" x="200.3" y="310.6">20</text>
<text class="t" x="200.3" y="288.5">25</text>
<text class="t" x="200.3" y="266.4">30</text>
<text class="t" x="200.3" y="244.3">35</text>
<path d="M69.5 386 v-1.6 M69.5 218 v1.6 M108.0 386 v-1.6 M108.0 218 v1.6 M146.5 386 v-1.6 M146.5 218 v1.6 M31 386.0 h-1.5 M31 358.0 h1.6 M185 358.0 h-1.6 M31 358.0 h-1.5 M31 330.0 h1.6 M185 330.0 h-1.6 M31 330.0 h-1.5 M31 302.0 h1.6 M185 302.0 h-1.6 M31 302.0 h-1.5 M31 274.0 h1.6 M185 274.0 h-1.6 M31 274.0 h-1.5 M31 246.0 h1.6 M185 246.0 h-1.6 M31 246.0 h-1.5 M31 218.0 h-1.5 M190 372.7 h2 M198 372.7 h-2 M190 350.6 h2 M198 350.6 h-2 M190 328.5 h2 M198 328.5 h-2 M190 306.4 h2 M198 306.4 h-2 M190 284.3 h2 M198 284.3 h-2 M190 262.2 h2 M198 262.2 h-2 M190 240.1 h2 M198 240.1 h-2" stroke="#111" stroke-width="1" fill="none"/>
<text class="l" x="115.3" y="413" text-anchor="middle">Wavelength (nm)</text>
<text class="l" transform="translate(12.5 303.0) rotate(-90)" text-anchor="middle">β (°)</text>
<text class="l" transform="translate(224.8 303.0) rotate(-90)" text-anchor="middle">Reflectivity (%)</text>
<text class="b" x="2.9" y="217.2">D</text>
<rect x="265.5" y="218.5" width="153" height="168" fill="none" stroke="#111" stroke-width="1"/>
<text class="t" x="265.5" y="400" text-anchor="middle">400</text>
<text class="t" x="304.0" y="400" text-anchor="middle">500</text>
<text class="t" x="342.5" y="400" text-anchor="middle">600</text>
<text class="t" x="381.0" y="400" text-anchor="middle">700</text>
<text class="t" x="419.5" y="400" text-anchor="middle">800</text>
<text class="t" x="262.2" y="390.2" text-anchor="end">0</text>
<text class="t" x="262.2" y="362.2" text-anchor="end">5</text>
<text class="t" x="262.2" y="334.2" text-anchor="end">10</text>
<text class="t" x="262.2" y="306.2" text-anchor="end">15</text>
<text class="t" x="262.2" y="278.2" text-anchor="end">20</text>
<text class="t" x="262.2" y="250.2" text-anchor="end">25</text>
<text class="t" x="262.2" y="222.2" text-anchor="end">30</text>
<text class="t" x="434.3" y="363.4">5</text>
<text class="t" x="434.3" y="336.0">10</text>
<text class="t" x="434.3" y="308.7">15</text>
<text class="t" x="434.3" y="281.3">20</text>
<text class="t" x="434.3" y="253.9">25</text>
<text class="t" x="434.3" y="226.6">30</text>
<path d="M303.5 386 v-1.6 M303.5 218 v1.6 M342.0 386 v-1.6 M342.0 218 v1.6 M380.5 386 v-1.6 M380.5 218 v1.6 M265 386.0 h-1.5 M265 358.0 h1.6 M419 358.0 h-1.6 M265 358.0 h-1.5 M265 330.0 h1.6 M419 330.0 h-1.6 M265 330.0 h-1.5 M265 302.0 h1.6 M419 302.0 h-1.6 M265 302.0 h-1.5 M265 274.0 h1.6 M419 274.0 h-1.6 M265 274.0 h-1.5 M265 246.0 h1.6 M419 246.0 h-1.6 M265 246.0 h-1.5 M265 218.0 h-1.5 M424 359.2 h2 M432 359.2 h-2 M424 331.8 h2 M432 331.8 h-2 M424 304.5 h2 M432 304.5 h-2 M424 277.1 h2 M432 277.1 h-2 M424 249.7 h2 M432 249.7 h-2 M424 222.4 h2 M432 222.4 h-2" stroke="#111" stroke-width="1" fill="none"/>
<text class="l" x="349.3" y="413" text-anchor="middle">Wavelength (nm)</text>
<text class="l" transform="translate(246.5 303.0) rotate(-90)" text-anchor="middle">β (°)</text>
<text class="l" transform="translate(458.3 303.0) rotate(-90)" text-anchor="middle">Reflectivity (%)</text>
<text class="b" x="236.3" y="217.2">E</text>
<rect x="498.5" y="218.5" width="153" height="168" fill="none" stroke="#111" stroke-width="1"/>
<text class="t" x="498.5" y="400" text-anchor="middle">400</text>
<text class="t" x="537.0" y="400" text-anchor="middle">500</text>
<text class="t" x="575.5" y="400" text-anchor="middle">600</text>
<text class="t" x="614.0" y="400" text-anchor="middle">700</text>
<text class="t" x="652.5" y="400" text-anchor="middle">800</text>
<text class="t" x="495.2" y="390.2" text-anchor="end">0</text>
<text class="t" x="495.2" y="362.2" text-anchor="end">5</text>
<text class="t" x="495.2" y="334.2" text-anchor="end">10</text>
<text class="t" x="495.2" y="306.2" text-anchor="end">15</text>
<text class="t" x="495.2" y="278.2" text-anchor="end">20</text>
<text class="t" x="495.2" y="250.2" text-anchor="end">25</text>
<text class="t" x="495.2" y="222.2" text-anchor="end">30</text>
<text class="t" x="667.3" y="378.1">1</text>
<text class="t" x="667.3" y="358.0">2</text>
<text class="t" x="667.3" y="337.9">3</text>
<text class="t" x="667.3" y="317.8">4</text>
<text class="t" x="667.3" y="297.6">5</text>
<text class="t" x="667.3" y="277.5">6</text>
<text class="t" x="667.3" y="257.4">7</text>
<text class="t" x="667.3" y="237.3">8</text>
<path d="M536.5 386 v-1.6 M536.5 218 v1.6 M575.0 386 v-1.6 M575.0 218 v1.6 M613.5 386 v-1.6 M613.5 218 v1.6 M498 386.0 h-1.5 M498 358.0 h1.6 M652 358.0 h-1.6 M498 358.0 h-1.5 M498 330.0 h1.6 M652 330.0 h-1.6 M498 330.0 h-1.5 M498 302.0 h1.6 M652 302.0 h-1.6 M498 302.0 h-1.5 M498 274.0 h1.6 M652 274.0 h-1.6 M498 274.0 h-1.5 M498 246.0 h1.6 M652 246.0 h-1.6 M498 246.0 h-1.5 M498 218.0 h-1.5 M657 373.9 h2 M665 373.9 h-2 M657 353.8 h2 M665 353.8 h-2 M657 333.7 h2 M665 333.7 h-2 M657 313.6 h2 M665 313.6 h-2 M657 293.4 h2 M665 293.4 h-2 M657 273.3 h2 M665 273.3 h-2 M657 253.2 h2 M665 253.2 h-2 M657 233.1 h2 M665 233.1 h-2" stroke="#111" stroke-width="1" fill="none"/>
<text class="l" x="582.3" y="413" text-anchor="middle">Wavelength (nm)</text>
<text class="l" transform="translate(479.5 303.0) rotate(-90)" text-anchor="middle">β (°)</text>
<text class="l" transform="translate(689.8 303.0) rotate(-90)" text-anchor="middle">Reflectivity (%)</text>
<text class="b" x="469.2" y="217.2">F</text>
<path d="M77.7 13 v167" stroke="#e8f2ff" stroke-width="1.15" stroke-dasharray="4 3" opacity="0.95" fill="none"/>
<path d="M305.2 13 v167" stroke="#e8f2ff" stroke-width="1.15" stroke-dasharray="4 3" opacity="0.95" fill="none"/>
<path d="M541.2 13 v167" stroke="#fff0dc" stroke-width="1.25" stroke-dasharray="4 3" opacity="1" fill="none"/>
<path d="M305.2 219 v167" stroke="#e8f2ff" stroke-width="1.15" stroke-dasharray="4 3" opacity="0.95" fill="none"/>
<path d="M541.2 219 v167" stroke="#fff0e6" stroke-width="1.3" stroke-dasharray="4 3" opacity="1" fill="none"/>
<defs><filter id="vb" x="0" y="0" width="100%" height="100%"><feGaussianBlur stdDeviation="0.5 1.2" edgeMode="duplicate"/></filter></defs>
<g fill="none" stroke-width="1.3">
<path d="M36.2 352.5 L93.7 219.5" stroke="#07072e" stroke-width="1.3" stroke-dasharray="4.5 3" opacity=".88"/>
<path d="M79.4 386 L171.3 219.5" stroke="#e8ecff" stroke-dasharray="4.5 3" opacity=".92"/>
<ellipse cx="112" cy="317.6" rx="33.7" ry="45.2" transform="rotate(27.5 112 317.6)" stroke="#c42856" stroke-dasharray="4 3" opacity=".88"/>
<clipPath id="cd"><rect x="31" y="218" width="154" height="168"/></clipPath>
<ellipse cx="46.8" cy="333.8" rx="15" ry="19.7" transform="rotate(16.5 46.8 333.8)" stroke="#c42856" stroke-dasharray="4 3" opacity=".82" clip-path="url(#cd)"/>
</g>
<defs><linearGradient id="gm" x1="0" y1="0" x2="0" y2="1"><stop offset="0" stop-color="#6ec044"/><stop offset=".5" stop-color="#86b83c"/><stop offset="1" stop-color="#8aa838"/></linearGradient><linearGradient id="gn" x1="0" y1="0" x2="1" y2="0"><stop offset="0" stop-color="#0a3a12"/><stop offset=".5" stop-color="#0c4216"/><stop offset="1" stop-color="#04200a"/></linearGradient><filter id="bl" x="-5%" y="-5%" width="110%" height="110%"><feGaussianBlur stdDeviation=".55"/></filter><filter id="bf" x="-20%" y="-20%" width="140%" height="140%"><feGaussianBlur stdDeviation=".9"/></filter></defs>
<g filter="url(#bl)">
<rect x="141.4" y="438.5" width="134.9" height="111.5" fill="#020202"/>
<path d="M147.8 438.5 L176.4 438.5 L176.4 550.0 L147.8 550.0Z" fill="#12f0ec"/>
<path d="M238.6 438.5 L268.3 438.5 L270.6 550.0 L240.9 550.0Z" fill="#14eee6"/>
<text class="b" style="font-size:14.4px" x="142.1" y="434.1">H</text>
<text class="c" x="175.6" y="434.0">Parallel-0°</text>
<rect x="282.6" y="438.5" width="133.7" height="111.5" fill="#020202"/>
<path d="M287.8 438.5 L316.2 438.5 L316.2 550.0 L287.8 550.0Z" fill="#10f2ee"/>
<path d="M377.4 438.5 L407.6 438.5 L409.9 550.0 L380.2 550.0Z" fill="#12e8d8"/>
<text class="b" style="font-size:14.4px" x="285.9" y="434.1">I</text>
<text class="c" x="313.5" y="434.0">Parallel-10°</text>
<rect x="422.6" y="438.5" width="134.7" height="111.5" fill="#020202"/>
<path d="M429.0 438.5 L456.9 438.5 L457.2 550.0 L429.6 550.0Z" fill="#12f4f0"/>
<path d="M517.4 438.5 L546.7 438.5 L549.4 550.0 L520.2 550.0Z" fill="#18e4d6"/>
<text class="b" style="font-size:14.4px" x="424.7" y="434.1">J</text>
<text class="c" x="453.6" y="434.0">Parallel-20°</text>
<rect x="562.9" y="438.5" width="134.8" height="111.5" fill="#020202"/>
<path d="M570.9 438.5 L597.1 438.5 L598.3 550.0 L572.0 550.0Z" fill="#3cf0ee"/>
<path d="M654.3 438.5 L682.2 438.5 L684.5 550.0 L657.0 550.0Z" fill="#1cd8cc"/>
<text class="b" style="font-size:14.4px" x="563.7" y="434.1">K</text>
<text class="c" x="592.2" y="434.0">Parallel-30°</text>
<rect x="141.4" y="573.0" width="134.9" height="111.0" fill="#020202"/>
<path d="M147.8 573.0 L176.4 573.0 L176.4 684.0 L147.8 684.0Z" fill="#1af0c4"/>
<path d="M238.6 573.0 L268.3 573.0 L270.6 684.0 L240.9 684.0Z" fill="#14c482"/>
<text class="b" style="font-size:14.4px" x="142.1" y="568.6">L</text>
<text class="c" x="166.8" y="568.5">Nonparallel-1°</text>
<rect x="282.6" y="573.0" width="133.7" height="111.0" fill="#020202"/>
<path d="M288.3 573.0 L316.4 573.0 L316.4 684.0 L288.3 684.0Z" fill="url(#gm)"/>
<path d="M379.3 573.0 L408.3 573.0 L410.6 684.0 L381.5 684.0Z" fill="#16b872"/>
<text class="b" style="font-size:14.4px" x="282.3" y="568.6">M</text>
<text class="c" x="307.0" y="568.5">Nonparallel-5°</text>
<rect x="422.6" y="573.0" width="134.7" height="111.0" fill="#020202"/>
<path d="M428.7 573.0 L456.9 573.0 L456.9 684.0 L428.7 684.0Z" fill="#6a52ea"/>
<path d="M519.3 573.0 L549.4 573.0 L551.0 684.0 L521.5 684.0Z" fill="url(#gn)"/>
<text class="b" style="font-size:14.4px" x="423.7" y="568.6">N</text>
<text class="c" x="446.8" y="568.5">Nonparallel-10°</text>
<rect x="562.9" y="573.0" width="134.8" height="111.0" fill="#020202"/>
<path d="M569.7 573.0 L597.1 573.0 L597.1 684.0 L569.7 684.0Z" fill="#0f5a22"/>
<text class="b" style="font-size:14.4px" x="563.7" y="568.6">O</text>
<text class="c" x="586.5" y="568.5">Nonparallel-20°</text>
<ellipse cx="199.9" cy="608" rx="3.5" ry="14" transform="rotate(12 199.9 608)" fill="#0c3a14" opacity=".38" filter="url(#bf)"/>
<ellipse cx="231.4" cy="668" rx="2.2" ry="7" transform="rotate(-25 231.4 668)" fill="#123c16" opacity=".32" filter="url(#bf)"/>
<ellipse cx="341.1" cy="608" rx="3.5" ry="14" transform="rotate(12 341.1 608)" fill="#0c3a14" opacity=".38" filter="url(#bf)"/>
<ellipse cx="372.6" cy="668" rx="2.2" ry="7" transform="rotate(-25 372.6 668)" fill="#123c16" opacity=".32" filter="url(#bf)"/>
<ellipse cx="481.1" cy="608" rx="3.5" ry="14" transform="rotate(12 481.1 608)" fill="#0c3a14" opacity=".38" filter="url(#bf)"/>
<ellipse cx="512.6" cy="668" rx="2.2" ry="7" transform="rotate(-25 512.6 668)" fill="#123c16" opacity=".32" filter="url(#bf)"/>
<ellipse cx="621.4" cy="608" rx="3.5" ry="14" transform="rotate(12 621.4 608)" fill="#0c3a14" opacity=".38" filter="url(#bf)"/>
<ellipse cx="652.9" cy="668" rx="2.2" ry="7" transform="rotate(-25 652.9 668)" fill="#123c16" opacity=".32" filter="url(#bf)"/>
<path d="M240.3 622 l1 6 l-.8 8z" fill="#eafff8"/>
<path d="M381 622 l.8 6 l-.6 8z" fill="#c8f8e0"/>
<rect x="663.4" y="677.1" width="31" height="4.2" fill="#fff"/>
</g>
<g filter="url(#bl)">
<rect x="2.6" y="506" width="135.2" height="111.2" fill="#1d1d1f"/>
<rect x="8.3" y="506" width="27.8" height="111.2" fill="#a9abba"/>
<rect x="100.2" y="506" width="30.6" height="111.2" fill="#169786"/>
</g>
<text class="b" x="2.4" y="500.2">G</text>
<text class="c" x="21.2" y="500.4">Diffuse daylight</text>
<g filter="url(#bf)">
<path d="M39.7 518.1 Q60.1 515.0 76.9 523.8 Q88.6 530.1 94.0 541.0 Q99.5 553.6 97.6 563.6 Q97.3 575.3 91.1 581.2 Q85.2 592.1 78.9 593.4 Q71.0 597.4 62.6 592.9 Q55.1 587.1 51.7 575.3 Q44.2 555.2 41.4 538.5 Q39.2 525.1 39.7 518.1Z" fill="#040705"/>
<path d="M40.7 515.4 Q43.4 512.0 50.9 513.7 Q71.8 518.1 85.2 528.4 L90.3 534.8 Q73.5 521.4 55.1 519.1 Q45.0 520.4 41.7 519.1Z" fill="#6e5230"/>
<path d="M41.0 523.4 Q42.5 546.9 51.7 572.0" stroke="#3a3216" stroke-width="1.5" fill="none"/>
</g><g filter="url(#bf)">
<path d="M63.8 520.4 Q72.2 521.7 70.8 531.8 Q68.5 546.9 61.8 558.6 Q57.6 567.8 53.8 570.7 Q49.2 568.6 50.4 556.9 Q52.6 536.8 57.6 525.1 Q60.1 520.4 63.8 520.4Z" fill="#1fd4a2"/>
<ellipse cx="52.8" cy="574.0" rx="2.6" ry="1.1" fill="#36c4b4"/>
<ellipse cx="89.6" cy="544.9" rx="1.3" ry="3.6" transform="rotate(8 89.6 544.9)" fill="#1f6a30"/>
<ellipse cx="90.6" cy="558.9" rx="4.2" ry="2.6" transform="rotate(-30 90.6 558.9)" fill="#236e2e"/>
<ellipse cx="83.9" cy="572.3" rx="5.0" ry="2.2" transform="rotate(-22 83.9 572.3)" fill="#2a8a3c"/>
<ellipse cx="64.5" cy="582.4" rx="2.4" ry="4.4" transform="rotate(20 64.5 582.4)" fill="#28a050"/>
<ellipse cx="73.9" cy="584.4" rx="2.4" ry="5.0" transform="rotate(-8 73.9 584.4)" fill="#2aa656"/>
<path d="M78.2 583.7 L81.2 582.4 Q86.1 594.6 92.8 599.6 Q98.3 603.8 96.3 608.5 Q92.8 612.2 88.3 609.2 Q85.2 605.5 84.6 599.6 Q82.7 592.1 78.2 583.7Z" fill="#2fb2e2"/>
</g>
</svg></div></body></html>
